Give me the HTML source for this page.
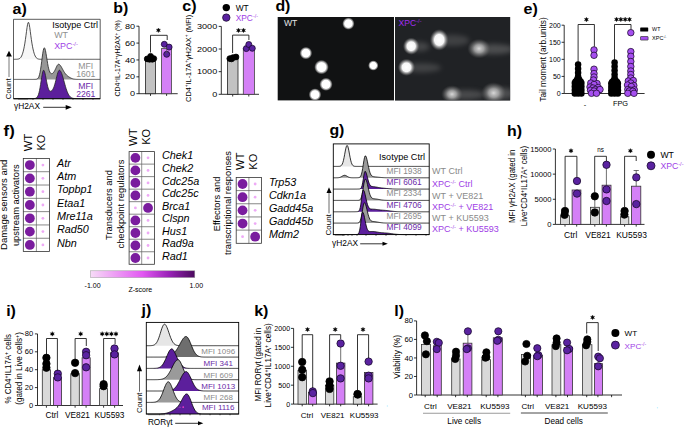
<!DOCTYPE html><html><head><meta charset="utf-8"><style>html,body{margin:0;padding:0;background:#fff;overflow:hidden}svg{display:block;}</style></head><body>
<svg width="685" height="428" viewBox="0 0 685 428" font-family='"Liberation Sans", sans-serif'>
<rect width="685" height="428" fill="#fff"/>
<text x="12.6" y="13.6" font-size="14" fill="#000" font-weight="bold" textLength="14.25" lengthAdjust="spacingAndGlyphs" >a)</text>
<text x="113.2" y="12.6" font-size="14" fill="#000" font-weight="bold" textLength="15.02" lengthAdjust="spacingAndGlyphs" >b)</text>
<text x="182.3" y="11.2" font-size="14" fill="#000" font-weight="bold" textLength="14.25" lengthAdjust="spacingAndGlyphs" >c)</text>
<text x="275.4" y="11.4" font-size="14" fill="#000" font-weight="bold" textLength="15.02" lengthAdjust="spacingAndGlyphs" >d)</text>
<text x="523.5" y="14" font-size="14" fill="#000" font-weight="bold" textLength="14.25" lengthAdjust="spacingAndGlyphs" >e)</text>
<text x="3.6" y="135.7" font-size="14" fill="#000" font-weight="bold" textLength="11.12" lengthAdjust="spacingAndGlyphs" >f)</text>
<text x="329.4" y="135.1" font-size="14" fill="#000" font-weight="bold" textLength="15.02" lengthAdjust="spacingAndGlyphs" >g)</text>
<text x="507.1" y="135.7" font-size="14" fill="#000" font-weight="bold" textLength="15.02" lengthAdjust="spacingAndGlyphs" >h)</text>
<text x="6.2" y="315.7" font-size="14" fill="#000" font-weight="bold" textLength="9.75" lengthAdjust="spacingAndGlyphs" >i)</text>
<text x="141.6" y="315.3" font-size="14" fill="#000" font-weight="bold" textLength="9.75" lengthAdjust="spacingAndGlyphs" >j)</text>
<text x="254.2" y="315.7" font-size="14" fill="#000" font-weight="bold" textLength="14.25" lengthAdjust="spacingAndGlyphs" >k)</text>
<text x="394.3" y="315.5" font-size="14" fill="#000" font-weight="bold" textLength="9.75" lengthAdjust="spacingAndGlyphs" >l)</text>
<path d="M13.50,59.30 L14.04,59.30 L14.58,59.30 L15.13,59.29 L15.67,59.28 L16.21,59.27 L16.75,59.25 L17.29,59.21 L17.84,59.14 L18.38,59.03 L18.92,58.86 L19.46,58.61 L20.00,58.24 L20.54,57.71 L21.09,56.98 L21.63,56.01 L22.17,54.75 L22.71,53.17 L23.25,51.24 L23.80,48.94 L24.34,46.25 L24.88,43.13 L25.42,39.57 L25.96,35.61 L26.51,31.45 L27.05,27.48 L27.59,24.31 L28.13,22.53 L28.67,22.54 L29.21,24.32 L29.76,27.50 L30.30,31.47 L30.84,35.63 L31.38,39.59 L31.92,43.15 L32.47,46.26 L33.01,48.95 L33.55,51.25 L34.09,53.18 L34.63,54.76 L35.17,56.02 L35.72,56.99 L36.26,57.72 L36.80,58.24 L37.34,58.61 L37.88,58.87 L38.43,59.03 L38.97,59.14 L39.51,59.21 L40.05,59.25 L40.59,59.27 L41.14,59.28 L41.68,59.29 L42.22,59.30 L42.76,59.30 L43.30,59.30 L43.84,59.30 L44.39,59.30 L44.93,59.30 L45.47,59.30 L46.01,59.30 L46.55,59.30 L47.10,59.30 L47.64,59.30 L48.18,59.30 L48.72,59.30 L49.26,59.30 L49.81,59.30 L50.35,59.30 L50.89,59.30 L51.43,59.30 L51.97,59.30 L52.52,59.30 L53.06,59.30 L53.60,59.30 L54.14,59.30 L54.68,59.30 L55.22,59.30 L55.77,59.30 L56.31,59.30 L56.85,59.30 L57.39,59.30 L57.93,59.30 L58.48,59.30 L59.02,59.30 L59.56,59.30 L60.10,59.30 L60.64,59.30 L61.19,59.30 L61.73,59.30 L62.27,59.30 L62.81,59.30 L63.35,59.30 L63.89,59.30 L64.44,59.30 L64.98,59.30 L65.52,59.30 L66.06,59.30 L66.60,59.30 L67.15,59.30 L67.69,59.30 L68.23,59.30 L68.77,59.30 L69.31,59.30 L69.86,59.30 L70.40,59.30 L70.94,59.30 L71.48,59.30 L72.02,59.30 L72.56,59.30 L73.11,59.30 L73.65,59.30 L74.19,59.30 L74.73,59.30 L75.27,59.30 L75.82,59.30 L76.36,59.30 L76.90,59.30 L77.44,59.30 L77.98,59.30 L78.53,59.30 L79.07,59.30 L79.61,59.30 L80.15,59.30 L80.69,59.30 L81.23,59.30 L81.78,59.30 L82.32,59.30 L82.86,59.30 L83.40,59.30 L83.94,59.30 L84.49,59.30 L85.03,59.30 L85.57,59.30 L86.11,59.30 L86.65,59.30 L87.20,59.30 L87.74,59.30 L88.28,59.30 L88.82,59.30 L89.36,59.30 L89.90,59.30 L90.45,59.30 L90.99,59.30 L91.53,59.30 L92.07,59.30 L92.61,59.30 L93.16,59.30 L93.70,59.30 L94.24,59.30 L94.78,59.30 L95.32,59.30 L95.86,59.30 L96.41,59.30 L96.95,59.30 L97.49,59.30 L98.03,59.30 L98.57,59.30 L99.12,59.30 L99.66,59.30 L100.20,59.30 L100.20,59.30 L13.50,59.30 Z" fill="#f7f7f7" stroke="none"/>
<path d="M13.50,59.30 L14.04,59.30 L14.58,59.30 L15.13,59.29 L15.67,59.28 L16.21,59.27 L16.75,59.25 L17.29,59.21 L17.84,59.14 L18.38,59.03 L18.92,58.86 L19.46,58.61 L20.00,58.24 L20.54,57.71 L21.09,56.98 L21.63,56.01 L22.17,54.75 L22.71,53.17 L23.25,51.24 L23.80,48.94 L24.34,46.25 L24.88,43.13 L25.42,39.57 L25.96,35.61 L26.51,31.45 L27.05,27.48 L27.59,24.31 L28.13,22.53 L28.67,22.54 L29.21,24.32 L29.76,27.50 L30.30,31.47 L30.84,35.63 L31.38,39.59 L31.92,43.15 L32.47,46.26 L33.01,48.95 L33.55,51.25 L34.09,53.18 L34.63,54.76 L35.17,56.02 L35.72,56.99 L36.26,57.72 L36.80,58.24 L37.34,58.61 L37.88,58.87 L38.43,59.03 L38.97,59.14 L39.51,59.21 L40.05,59.25 L40.59,59.27 L41.14,59.28 L41.68,59.29 L42.22,59.30 L42.76,59.30 L43.30,59.30 L43.84,59.30 L44.39,59.30 L44.93,59.30 L45.47,59.30 L46.01,59.30 L46.55,59.30 L47.10,59.30 L47.64,59.30 L48.18,59.30 L48.72,59.30 L49.26,59.30 L49.81,59.30 L50.35,59.30 L50.89,59.30 L51.43,59.30 L51.97,59.30 L52.52,59.30 L53.06,59.30 L53.60,59.30 L54.14,59.30 L54.68,59.30 L55.22,59.30 L55.77,59.30 L56.31,59.30 L56.85,59.30 L57.39,59.30 L57.93,59.30 L58.48,59.30 L59.02,59.30 L59.56,59.30 L60.10,59.30 L60.64,59.30 L61.19,59.30 L61.73,59.30 L62.27,59.30 L62.81,59.30 L63.35,59.30 L63.89,59.30 L64.44,59.30 L64.98,59.30 L65.52,59.30 L66.06,59.30 L66.60,59.30 L67.15,59.30 L67.69,59.30 L68.23,59.30 L68.77,59.30 L69.31,59.30 L69.86,59.30 L70.40,59.30 L70.94,59.30 L71.48,59.30 L72.02,59.30 L72.56,59.30 L73.11,59.30 L73.65,59.30 L74.19,59.30 L74.73,59.30 L75.27,59.30 L75.82,59.30 L76.36,59.30 L76.90,59.30 L77.44,59.30 L77.98,59.30 L78.53,59.30 L79.07,59.30 L79.61,59.30 L80.15,59.30 L80.69,59.30 L81.23,59.30 L81.78,59.30 L82.32,59.30 L82.86,59.30 L83.40,59.30 L83.94,59.30 L84.49,59.30 L85.03,59.30 L85.57,59.30 L86.11,59.30 L86.65,59.30 L87.20,59.30 L87.74,59.30 L88.28,59.30 L88.82,59.30 L89.36,59.30 L89.90,59.30 L90.45,59.30 L90.99,59.30 L91.53,59.30 L92.07,59.30 L92.61,59.30 L93.16,59.30 L93.70,59.30 L94.24,59.30 L94.78,59.30 L95.32,59.30 L95.86,59.30 L96.41,59.30 L96.95,59.30 L97.49,59.30 L98.03,59.30 L98.57,59.30 L99.12,59.30 L99.66,59.30 L100.20,59.30" fill="none" stroke="#222" stroke-width="0.8" stroke-linejoin="round"/>
<path d="M13.50,79.40 L14.04,79.40 L14.58,79.40 L15.13,79.40 L15.67,79.40 L16.21,79.40 L16.75,79.40 L17.29,79.40 L17.84,79.40 L18.38,79.40 L18.92,79.40 L19.46,79.40 L20.00,79.40 L20.54,79.40 L21.09,79.40 L21.63,79.40 L22.17,79.40 L22.71,79.40 L23.25,79.40 L23.80,79.40 L24.34,79.40 L24.88,79.40 L25.42,79.40 L25.96,79.40 L26.51,79.40 L27.05,79.40 L27.59,79.40 L28.13,79.40 L28.67,79.40 L29.21,79.40 L29.76,79.40 L30.30,79.40 L30.84,79.40 L31.38,79.40 L31.92,79.40 L32.47,79.40 L33.01,79.39 L33.55,79.39 L34.09,79.39 L34.63,79.37 L35.17,79.35 L35.72,79.31 L36.26,79.23 L36.80,79.08 L37.34,78.81 L37.88,78.35 L38.43,77.59 L38.97,76.42 L39.51,74.70 L40.05,72.34 L40.59,69.28 L41.14,65.60 L41.68,61.48 L42.22,57.25 L42.76,53.36 L43.30,50.25 L43.84,48.33 L44.39,47.84 L44.93,48.66 L45.47,50.60 L46.01,53.41 L46.55,56.73 L47.10,60.21 L47.64,63.53 L48.18,66.47 L48.72,68.89 L49.26,70.75 L49.81,72.08 L50.35,72.95 L50.89,73.46 L51.43,73.66 L51.97,73.64 L52.52,73.41 L53.06,73.00 L53.60,72.40 L54.14,71.63 L54.68,70.69 L55.22,69.61 L55.77,68.44 L56.31,67.25 L56.85,66.14 L57.39,65.20 L57.93,64.54 L58.48,64.22 L59.02,64.29 L59.56,64.63 L60.10,65.16 L60.64,65.85 L61.19,66.69 L61.73,67.62 L62.27,68.61 L62.81,69.61 L63.35,70.59 L63.89,71.52 L64.44,72.38 L64.98,73.16 L65.52,73.87 L66.06,74.50 L66.60,75.05 L67.15,75.56 L67.69,76.01 L68.23,76.43 L68.77,76.81 L69.31,77.17 L69.86,77.50 L70.40,77.81 L70.94,78.08 L71.48,78.33 L72.02,78.55 L72.56,78.74 L73.11,78.89 L73.65,79.02 L74.19,79.12 L74.73,79.20 L75.27,79.26 L75.82,79.31 L76.36,79.34 L76.90,79.36 L77.44,79.37 L77.98,79.38 L78.53,79.39 L79.07,79.39 L79.61,79.40 L80.15,79.40 L80.69,79.40 L81.23,79.40 L81.78,79.40 L82.32,79.40 L82.86,79.40 L83.40,79.40 L83.94,79.40 L84.49,79.40 L85.03,79.40 L85.57,79.40 L86.11,79.40 L86.65,79.40 L87.20,79.40 L87.74,79.40 L88.28,79.40 L88.82,79.40 L89.36,79.40 L89.90,79.40 L90.45,79.40 L90.99,79.40 L91.53,79.40 L92.07,79.40 L92.61,79.40 L93.16,79.40 L93.70,79.40 L94.24,79.40 L94.78,79.40 L95.32,79.40 L95.86,79.40 L96.41,79.40 L96.95,79.40 L97.49,79.40 L98.03,79.40 L98.57,79.40 L99.12,79.40 L99.66,79.40 L100.20,79.40 L100.20,79.40 L13.50,79.40 Z" fill="#979797" stroke="none"/>
<path d="M13.50,79.40 L14.04,79.40 L14.58,79.40 L15.13,79.40 L15.67,79.40 L16.21,79.40 L16.75,79.40 L17.29,79.40 L17.84,79.40 L18.38,79.40 L18.92,79.40 L19.46,79.40 L20.00,79.40 L20.54,79.40 L21.09,79.40 L21.63,79.40 L22.17,79.40 L22.71,79.40 L23.25,79.40 L23.80,79.40 L24.34,79.40 L24.88,79.40 L25.42,79.40 L25.96,79.40 L26.51,79.40 L27.05,79.40 L27.59,79.40 L28.13,79.40 L28.67,79.40 L29.21,79.40 L29.76,79.40 L30.30,79.40 L30.84,79.40 L31.38,79.40 L31.92,79.40 L32.47,79.40 L33.01,79.39 L33.55,79.39 L34.09,79.39 L34.63,79.37 L35.17,79.35 L35.72,79.31 L36.26,79.23 L36.80,79.08 L37.34,78.81 L37.88,78.35 L38.43,77.59 L38.97,76.42 L39.51,74.70 L40.05,72.34 L40.59,69.28 L41.14,65.60 L41.68,61.48 L42.22,57.25 L42.76,53.36 L43.30,50.25 L43.84,48.33 L44.39,47.84 L44.93,48.66 L45.47,50.60 L46.01,53.41 L46.55,56.73 L47.10,60.21 L47.64,63.53 L48.18,66.47 L48.72,68.89 L49.26,70.75 L49.81,72.08 L50.35,72.95 L50.89,73.46 L51.43,73.66 L51.97,73.64 L52.52,73.41 L53.06,73.00 L53.60,72.40 L54.14,71.63 L54.68,70.69 L55.22,69.61 L55.77,68.44 L56.31,67.25 L56.85,66.14 L57.39,65.20 L57.93,64.54 L58.48,64.22 L59.02,64.29 L59.56,64.63 L60.10,65.16 L60.64,65.85 L61.19,66.69 L61.73,67.62 L62.27,68.61 L62.81,69.61 L63.35,70.59 L63.89,71.52 L64.44,72.38 L64.98,73.16 L65.52,73.87 L66.06,74.50 L66.60,75.05 L67.15,75.56 L67.69,76.01 L68.23,76.43 L68.77,76.81 L69.31,77.17 L69.86,77.50 L70.40,77.81 L70.94,78.08 L71.48,78.33 L72.02,78.55 L72.56,78.74 L73.11,78.89 L73.65,79.02 L74.19,79.12 L74.73,79.20 L75.27,79.26 L75.82,79.31 L76.36,79.34 L76.90,79.36 L77.44,79.37 L77.98,79.38 L78.53,79.39 L79.07,79.39 L79.61,79.40 L80.15,79.40 L80.69,79.40 L81.23,79.40 L81.78,79.40 L82.32,79.40 L82.86,79.40 L83.40,79.40 L83.94,79.40 L84.49,79.40 L85.03,79.40 L85.57,79.40 L86.11,79.40 L86.65,79.40 L87.20,79.40 L87.74,79.40 L88.28,79.40 L88.82,79.40 L89.36,79.40 L89.90,79.40 L90.45,79.40 L90.99,79.40 L91.53,79.40 L92.07,79.40 L92.61,79.40 L93.16,79.40 L93.70,79.40 L94.24,79.40 L94.78,79.40 L95.32,79.40 L95.86,79.40 L96.41,79.40 L96.95,79.40 L97.49,79.40 L98.03,79.40 L98.57,79.40 L99.12,79.40 L99.66,79.40 L100.20,79.40" fill="none" stroke="#222" stroke-width="0.8" stroke-linejoin="round"/>
<path d="M13.50,98.70 L14.04,98.70 L14.58,98.70 L15.13,98.70 L15.67,98.70 L16.21,98.70 L16.75,98.70 L17.29,98.70 L17.84,98.70 L18.38,98.70 L18.92,98.70 L19.46,98.70 L20.00,98.70 L20.54,98.70 L21.09,98.70 L21.63,98.70 L22.17,98.70 L22.71,98.70 L23.25,98.70 L23.80,98.70 L24.34,98.70 L24.88,98.70 L25.42,98.70 L25.96,98.70 L26.51,98.70 L27.05,98.70 L27.59,98.70 L28.13,98.70 L28.67,98.70 L29.21,98.70 L29.76,98.70 L30.30,98.70 L30.84,98.70 L31.38,98.70 L31.92,98.69 L32.47,98.69 L33.01,98.67 L33.55,98.65 L34.09,98.61 L34.63,98.54 L35.17,98.43 L35.72,98.24 L36.26,97.96 L36.80,97.52 L37.34,96.87 L37.88,95.93 L38.43,94.62 L38.97,92.84 L39.51,90.53 L40.05,87.70 L40.59,84.42 L41.14,80.87 L41.68,77.34 L42.22,74.19 L42.76,71.79 L43.30,70.44 L43.84,70.30 L44.39,71.23 L44.93,73.05 L45.47,75.53 L46.01,78.36 L46.55,81.26 L47.10,83.96 L47.64,86.29 L48.18,88.14 L48.72,89.51 L49.26,90.43 L49.81,90.97 L50.35,91.19 L50.89,91.16 L51.43,90.91 L51.97,90.47 L52.52,89.82 L53.06,88.94 L53.60,87.81 L54.14,86.41 L54.68,84.74 L55.22,82.82 L55.77,80.71 L56.31,78.50 L56.85,76.29 L57.39,74.24 L57.93,72.48 L58.48,71.15 L59.02,70.37 L59.56,70.22 L60.10,70.59 L60.64,71.29 L61.19,72.32 L61.73,73.64 L62.27,75.20 L62.81,76.95 L63.35,78.84 L63.89,80.81 L64.44,82.81 L64.98,84.77 L65.52,86.65 L66.06,88.43 L66.60,90.06 L67.15,91.53 L67.69,92.83 L68.23,93.96 L68.77,94.93 L69.31,95.74 L69.86,96.41 L70.40,96.95 L70.94,97.38 L71.48,97.72 L72.02,97.98 L72.56,98.18 L73.11,98.33 L73.65,98.44 L74.19,98.52 L74.73,98.58 L75.27,98.62 L75.82,98.64 L76.36,98.66 L76.90,98.68 L77.44,98.69 L77.98,98.69 L78.53,98.69 L79.07,98.70 L79.61,98.70 L80.15,98.70 L80.69,98.70 L81.23,98.70 L81.78,98.70 L82.32,98.70 L82.86,98.70 L83.40,98.70 L83.94,98.70 L84.49,98.70 L85.03,98.70 L85.57,98.70 L86.11,98.70 L86.65,98.70 L87.20,98.70 L87.74,98.70 L88.28,98.70 L88.82,98.70 L89.36,98.70 L89.90,98.70 L90.45,98.70 L90.99,98.70 L91.53,98.70 L92.07,98.70 L92.61,98.70 L93.16,98.70 L93.70,98.70 L94.24,98.70 L94.78,98.70 L95.32,98.70 L95.86,98.70 L96.41,98.70 L96.95,98.70 L97.49,98.70 L98.03,98.70 L98.57,98.70 L99.12,98.70 L99.66,98.70 L100.20,98.70 L100.20,98.70 L13.50,98.70 Z" fill="#5c1f9c" stroke="none"/>
<path d="M13.50,98.70 L14.04,98.70 L14.58,98.70 L15.13,98.70 L15.67,98.70 L16.21,98.70 L16.75,98.70 L17.29,98.70 L17.84,98.70 L18.38,98.70 L18.92,98.70 L19.46,98.70 L20.00,98.70 L20.54,98.70 L21.09,98.70 L21.63,98.70 L22.17,98.70 L22.71,98.70 L23.25,98.70 L23.80,98.70 L24.34,98.70 L24.88,98.70 L25.42,98.70 L25.96,98.70 L26.51,98.70 L27.05,98.70 L27.59,98.70 L28.13,98.70 L28.67,98.70 L29.21,98.70 L29.76,98.70 L30.30,98.70 L30.84,98.70 L31.38,98.70 L31.92,98.69 L32.47,98.69 L33.01,98.67 L33.55,98.65 L34.09,98.61 L34.63,98.54 L35.17,98.43 L35.72,98.24 L36.26,97.96 L36.80,97.52 L37.34,96.87 L37.88,95.93 L38.43,94.62 L38.97,92.84 L39.51,90.53 L40.05,87.70 L40.59,84.42 L41.14,80.87 L41.68,77.34 L42.22,74.19 L42.76,71.79 L43.30,70.44 L43.84,70.30 L44.39,71.23 L44.93,73.05 L45.47,75.53 L46.01,78.36 L46.55,81.26 L47.10,83.96 L47.64,86.29 L48.18,88.14 L48.72,89.51 L49.26,90.43 L49.81,90.97 L50.35,91.19 L50.89,91.16 L51.43,90.91 L51.97,90.47 L52.52,89.82 L53.06,88.94 L53.60,87.81 L54.14,86.41 L54.68,84.74 L55.22,82.82 L55.77,80.71 L56.31,78.50 L56.85,76.29 L57.39,74.24 L57.93,72.48 L58.48,71.15 L59.02,70.37 L59.56,70.22 L60.10,70.59 L60.64,71.29 L61.19,72.32 L61.73,73.64 L62.27,75.20 L62.81,76.95 L63.35,78.84 L63.89,80.81 L64.44,82.81 L64.98,84.77 L65.52,86.65 L66.06,88.43 L66.60,90.06 L67.15,91.53 L67.69,92.83 L68.23,93.96 L68.77,94.93 L69.31,95.74 L69.86,96.41 L70.40,96.95 L70.94,97.38 L71.48,97.72 L72.02,97.98 L72.56,98.18 L73.11,98.33 L73.65,98.44 L74.19,98.52 L74.73,98.58 L75.27,98.62 L75.82,98.64 L76.36,98.66 L76.90,98.68 L77.44,98.69 L77.98,98.69 L78.53,98.69 L79.07,98.70 L79.61,98.70 L80.15,98.70 L80.69,98.70 L81.23,98.70 L81.78,98.70 L82.32,98.70 L82.86,98.70 L83.40,98.70 L83.94,98.70 L84.49,98.70 L85.03,98.70 L85.57,98.70 L86.11,98.70 L86.65,98.70 L87.20,98.70 L87.74,98.70 L88.28,98.70 L88.82,98.70 L89.36,98.70 L89.90,98.70 L90.45,98.70 L90.99,98.70 L91.53,98.70 L92.07,98.70 L92.61,98.70 L93.16,98.70 L93.70,98.70 L94.24,98.70 L94.78,98.70 L95.32,98.70 L95.86,98.70 L96.41,98.70 L96.95,98.70 L97.49,98.70 L98.03,98.70 L98.57,98.70 L99.12,98.70 L99.66,98.70 L100.20,98.70" fill="none" stroke="#222" stroke-width="0.8" stroke-linejoin="round"/>
<path d="M13.5,98.7 L13.5,19.3 L100.2,19.3 L100.2,98.7 Z" fill="none" stroke="#333" stroke-width="0.8"/>
<line x1="13.5" y1="98.7" x2="100.2" y2="98.7" stroke="#000" stroke-width="0.9"/>
<line x1="19" y1="98.7" x2="19" y2="100" stroke="#000" stroke-width="0.5"/>
<line x1="21" y1="98.7" x2="21" y2="100" stroke="#000" stroke-width="0.5"/>
<line x1="23" y1="98.7" x2="23" y2="100" stroke="#000" stroke-width="0.5"/>
<line x1="25" y1="98.7" x2="25" y2="100" stroke="#000" stroke-width="0.5"/>
<line x1="27" y1="98.7" x2="27" y2="100" stroke="#000" stroke-width="0.5"/>
<line x1="33" y1="98.7" x2="33" y2="100" stroke="#000" stroke-width="0.5"/>
<line x1="43" y1="98.7" x2="43" y2="100" stroke="#000" stroke-width="0.5"/>
<line x1="53" y1="98.7" x2="53" y2="100" stroke="#000" stroke-width="0.5"/>
<line x1="63" y1="98.7" x2="63" y2="100" stroke="#000" stroke-width="0.5"/>
<line x1="73" y1="98.7" x2="73" y2="100" stroke="#000" stroke-width="0.5"/>
<line x1="83" y1="98.7" x2="83" y2="100" stroke="#000" stroke-width="0.5"/>
<line x1="93" y1="98.7" x2="93" y2="100" stroke="#000" stroke-width="0.5"/>
<text x="52.3" y="27.5" font-size="9" fill="#000" textLength="45.6" lengthAdjust="spacingAndGlyphs" >Isotype Ctrl</text>
<text x="54.2" y="38.1" font-size="8.9" fill="#8f8f8f" >WT</text>
<text x="54.2" y="48.7" font-size="8.9" fill="#a03ee6" >XPC<tspan font-size="64%" dy="-3.0">-/-</tspan><tspan dy="3.0"></tspan></text>
<text x="85.8" y="68.8" font-size="8.7" fill="#8f8f8f" text-anchor="middle" >MFI</text>
<text x="85.8" y="77.4" font-size="8.7" fill="#8f8f8f" text-anchor="middle" >1601</text>
<text x="85.8" y="88.5" font-size="8.7" fill="#6a2aa8" text-anchor="middle" >MFI</text>
<text x="85.8" y="97.4" font-size="8.7" fill="#6a2aa8" text-anchor="middle" >2261</text>
<text transform="translate(11.2,99.2) rotate(-90)" font-size="7.8" fill="#000" text-anchor="start" >Count</text>
<line x1="9" y1="77" x2="9" y2="55.5" stroke="#555" stroke-width="0.8"/>
<path d="M9,50.7 L6.1,56.6 L11.9,56.6 Z" fill="#000"/>
<text x="14" y="108.8" font-size="8.5" fill="#000" textLength="26" lengthAdjust="spacingAndGlyphs" >γH2AX</text>
<line x1="43.2" y1="107.3" x2="67" y2="107.3" stroke="#000" stroke-width="0.8"/>
<path d="M71.8,107.3 L65.7,104.9 L65.7,109.7 Z" fill="#000"/>
<line x1="139" y1="93.7" x2="139" y2="26.2" stroke="#000" stroke-width="0.8"/>
<line x1="136.4" y1="93.7" x2="139" y2="93.7" stroke="#000" stroke-width="0.8"/>
<text transform="translate(135.10,96.36) scale(1.2,1)" font-size="7.6" text-anchor="end">0</text>
<line x1="136.4" y1="76.83" x2="139" y2="76.83" stroke="#000" stroke-width="0.8"/>
<text transform="translate(135.10,79.48) scale(1.2,1)" font-size="7.6" text-anchor="end">20</text>
<line x1="136.4" y1="59.95" x2="139" y2="59.95" stroke="#000" stroke-width="0.8"/>
<text transform="translate(135.10,62.61) scale(1.2,1)" font-size="7.6" text-anchor="end">40</text>
<line x1="136.4" y1="43.08" x2="139" y2="43.08" stroke="#000" stroke-width="0.8"/>
<text transform="translate(135.10,45.73) scale(1.2,1)" font-size="7.6" text-anchor="end">60</text>
<line x1="136.4" y1="26.2" x2="139" y2="26.2" stroke="#000" stroke-width="0.8"/>
<text transform="translate(135.10,28.86) scale(1.2,1)" font-size="7.6" text-anchor="end">80</text>
<line x1="139" y1="93.7" x2="177.7" y2="93.7" stroke="#000" stroke-width="0.8"/>
<line x1="150.5" y1="93.7" x2="150.5" y2="95.9" stroke="#000" stroke-width="0.8"/>
<line x1="166.6" y1="93.7" x2="166.6" y2="95.9" stroke="#000" stroke-width="0.8"/>
<rect x="145.5" y="59.2" width="10" height="34.5" fill="#c2c2c2" stroke="#222" stroke-width="0.8"/>
<rect x="161.5" y="48.6" width="10.1" height="45.1" fill="#d480f6" stroke="#444" stroke-width="0.8"/>
<circle cx="147.2" cy="58.9" r="2.9" fill="#000" stroke="#000" stroke-width="0.8"/>
<circle cx="150.6" cy="56.3" r="2.9" fill="#000" stroke="#000" stroke-width="0.8"/>
<circle cx="153.8" cy="58.6" r="2.9" fill="#000" stroke="#000" stroke-width="0.8"/>
<circle cx="149.5" cy="59.3" r="2.9" fill="#000" stroke="#000" stroke-width="0.8"/>
<circle cx="152.3" cy="59.3" r="2.9" fill="#000" stroke="#000" stroke-width="0.8"/>
<circle cx="164.3" cy="44.3" r="3" fill="#5a22a0" stroke="#1a0a30" stroke-width="0.8"/>
<circle cx="169.1" cy="47.1" r="3" fill="#5a22a0" stroke="#1a0a30" stroke-width="0.8"/>
<circle cx="166.7" cy="54.3" r="3" fill="#5a22a0" stroke="#1a0a30" stroke-width="0.8"/>
<line x1="166.7" y1="47" x2="166.7" y2="54" stroke="#555" stroke-width="0.7"/>
<polyline points="150.5,52.5 150.5,35.3 167.2,35.3 167.2,40" fill="none" stroke="#000" stroke-width="0.8"/>
<polygon points="158.40,28.00 157.83,29.30 156.41,29.15 157.25,30.30 156.41,31.45 157.83,31.30 158.40,32.60 158.97,31.30 160.39,31.45 159.55,30.30 160.39,29.15 158.97,29.30" fill="#000" stroke="#000" stroke-width="0.35" stroke-linejoin="round"/>
<text transform="translate(120,96.4) rotate(-90)" font-size="7.3" fill="#000" text-anchor="start" textLength="76.1" lengthAdjust="spacingAndGlyphs" >CD4<tspan font-size="65%" dy="-2.5">+</tspan><tspan dy="2.5">IL-17A</tspan><tspan font-size="65%" dy="-2.5">+</tspan><tspan dy="2.5">γH2AX</tspan><tspan font-size="65%" dy="-2.5">+</tspan><tspan dy="2.5"> (%)</tspan></text>
<line x1="221.3" y1="94.3" x2="221.3" y2="26.4" stroke="#000" stroke-width="0.8"/>
<line x1="218.7" y1="94.3" x2="221.3" y2="94.3" stroke="#000" stroke-width="0.8"/>
<text transform="translate(217.20,97.06) scale(1.15,1)" font-size="7.9" text-anchor="end">0</text>
<line x1="218.7" y1="71.67" x2="221.3" y2="71.67" stroke="#000" stroke-width="0.8"/>
<text transform="translate(217.20,74.43) scale(1.15,1)" font-size="7.9" text-anchor="end">1000</text>
<line x1="218.7" y1="49.03" x2="221.3" y2="49.03" stroke="#000" stroke-width="0.8"/>
<text transform="translate(217.20,51.80) scale(1.15,1)" font-size="7.9" text-anchor="end">2000</text>
<line x1="218.7" y1="26.4" x2="221.3" y2="26.4" stroke="#000" stroke-width="0.8"/>
<text transform="translate(217.20,29.16) scale(1.15,1)" font-size="7.9" text-anchor="end">3000</text>
<line x1="221.3" y1="94.3" x2="259" y2="94.3" stroke="#000" stroke-width="0.8"/>
<line x1="232.7" y1="94.3" x2="232.7" y2="96.5" stroke="#000" stroke-width="0.8"/>
<line x1="248.8" y1="94.3" x2="248.8" y2="96.5" stroke="#000" stroke-width="0.8"/>
<rect x="227.5" y="58.5" width="10.5" height="35.8" fill="#c2c2c2" stroke="#222" stroke-width="0.8"/>
<rect x="243.3" y="48.6" width="11.1" height="45.7" fill="#d480f6" stroke="#444" stroke-width="0.8"/>
<circle cx="229.8" cy="58.6" r="2.9" fill="#000" stroke="#000" stroke-width="0.8"/>
<circle cx="233" cy="57.6" r="2.9" fill="#000" stroke="#000" stroke-width="0.8"/>
<circle cx="236" cy="57" r="2.9" fill="#000" stroke="#000" stroke-width="0.8"/>
<circle cx="231.5" cy="58.9" r="2.9" fill="#000" stroke="#000" stroke-width="0.8"/>
<circle cx="246.3" cy="48.6" r="3" fill="#5a22a0" stroke="#1a0a30" stroke-width="0.8"/>
<circle cx="248.8" cy="44.5" r="3" fill="#5a22a0" stroke="#1a0a30" stroke-width="0.8"/>
<circle cx="252.3" cy="48.3" r="3" fill="#5a22a0" stroke="#1a0a30" stroke-width="0.8"/>
<polyline points="232.6,53 232.6,35.1 248.9,35.1 248.9,40" fill="none" stroke="#000" stroke-width="0.8"/>
<polygon points="238.50,28.10 237.93,29.40 236.51,29.25 237.35,30.40 236.51,31.55 237.93,31.40 238.50,32.70 239.07,31.40 240.49,31.55 239.65,30.40 240.49,29.25 239.07,29.40" fill="#000" stroke="#000" stroke-width="0.35" stroke-linejoin="round"/>
<polygon points="243.50,28.10 242.93,29.40 241.51,29.25 242.35,30.40 241.51,31.55 242.93,31.40 243.50,32.70 244.07,31.40 245.49,31.55 244.65,30.40 245.49,29.25 244.07,29.40" fill="#000" stroke="#000" stroke-width="0.35" stroke-linejoin="round"/>
<circle cx="226.3" cy="7.6" r="3.7" fill="#000" stroke="none" stroke-width="1"/>
<text x="235.7" y="10.5" font-size="8.4" fill="#000" >WT</text>
<circle cx="226.3" cy="17.6" r="3.7" fill="#5a22a0" stroke="#1a0a30" stroke-width="0.8"/>
<text x="235.7" y="20.6" font-size="8.4" fill="#a03ee6" >XPC<tspan font-size="64%" dy="-3.0">-/-</tspan><tspan dy="3.0"></tspan></text>
<text transform="translate(190.9,101.9) rotate(-90)" font-size="7.6" fill="#000" text-anchor="start" textLength="87" lengthAdjust="spacingAndGlyphs" >CD4<tspan font-size="65%" dy="-2.5">+</tspan><tspan dy="2.5">IL-17A</tspan><tspan font-size="65%" dy="-2.5">+</tspan><tspan dy="2.5">γH2AX</tspan><tspan font-size="65%" dy="-2.5">+</tspan><tspan dy="2.5"> (MFI)</tspan></text>
<defs>
<radialGradient id="spot"><stop offset="0" stop-color="#fff"/><stop offset="0.6" stop-color="#fff"/><stop offset="0.8" stop-color="#bbb" stop-opacity="0.7"/><stop offset="1" stop-color="#666" stop-opacity="0"/></radialGradient>
<radialGradient id="spot2"><stop offset="0" stop-color="#fff"/><stop offset="0.5" stop-color="#f6f6f6"/><stop offset="0.75" stop-color="#aaa" stop-opacity="0.6"/><stop offset="1" stop-color="#666" stop-opacity="0"/></radialGradient>
<radialGradient id="spot3"><stop offset="0" stop-color="#d8d8d8"/><stop offset="0.4" stop-color="#b4b4b4" stop-opacity="0.8"/><stop offset="0.75" stop-color="#808080" stop-opacity="0.38"/><stop offset="1" stop-color="#555" stop-opacity="0"/></radialGradient>
<filter id="blur2" x="-50%" y="-100%" width="200%" height="300%"><feGaussianBlur stdDeviation="2.4"/></filter>
<clipPath id="cpx"><rect x="395" y="17" width="115.2" height="83.6"/></clipPath>
<clipPath id="cpw"><rect x="277.7" y="17" width="116.3" height="83.4"/></clipPath>
</defs>
<rect x="277.7" y="17" width="116.3" height="83.4" fill="#111213" stroke="none" stroke-width="1"/>
<rect x="395" y="17" width="115.2" height="83.6" fill="#202225" stroke="none" stroke-width="1"/>
<g clip-path="url(#cpw)">
<circle cx="348.4" cy="23.6" r="6.29" fill="url(#spot)" stroke="none" stroke-width="1"/>
<circle cx="305.9" cy="53.1" r="6.45" fill="url(#spot)" stroke="none" stroke-width="1"/>
<circle cx="321.5" cy="67.1" r="7.42" fill="url(#spot)" stroke="none" stroke-width="1"/>
<circle cx="373.3" cy="65.5" r="5.32" fill="url(#spot)" stroke="none" stroke-width="1"/>
<circle cx="326" cy="84.3" r="6.77" fill="url(#spot)" stroke="none" stroke-width="1"/>
<circle cx="315" cy="94.6" r="6.45" fill="url(#spot)" stroke="none" stroke-width="1"/>
</g>
<text x="284" y="26.3" font-size="8.6" fill="#e6e6e6" >WT</text>
<g clip-path="url(#cpx)">
<ellipse cx="419.2" cy="46.7" rx="10.4" ry="4.6" fill="#888" opacity="0.35" filter="url(#blur2)"/>
<ellipse cx="411.2" cy="46.2" rx="8.36" ry="8.73" fill="url(#spot2)"/>
<ellipse cx="452.2" cy="40.4" rx="16.9" ry="5.7" fill="#888" opacity="0.3" filter="url(#blur2)"/>
<ellipse cx="439.2" cy="39.9" rx="9.45" ry="10.91" fill="url(#spot2)"/>
<ellipse cx="494.0" cy="49.1" rx="19.5" ry="5.2" fill="#888" opacity="0.42" filter="url(#blur2)"/>
<ellipse cx="479.0" cy="48.6" rx="11.82" ry="10.00" fill="url(#spot3)"/>
<ellipse cx="421.5" cy="67.8" rx="19.5" ry="4.6" fill="#888" opacity="0.32" filter="url(#blur2)"/>
<ellipse cx="406.5" cy="67.3" rx="8.73" ry="8.73" fill="url(#spot2)"/>
<ellipse cx="466.0" cy="94.7" rx="18.2" ry="4.8" fill="#888" opacity="0.4" filter="url(#blur2)"/>
<ellipse cx="452.0" cy="94.2" rx="10.91" ry="9.09" fill="url(#spot3)"/>
<ellipse cx="502.6" cy="93.5" rx="11.7" ry="5.7" fill="#888" opacity="0.42" filter="url(#blur2)"/>
<ellipse cx="493.6" cy="93.0" rx="12.73" ry="10.91" fill="url(#spot3)"/>
</g>
<line x1="394.5" y1="17" x2="394.5" y2="100.6" stroke="#fff" stroke-width="1.0"/>
<text x="398.6" y="26.4" font-size="8.6" fill="#a02cf0" >XPC<tspan font-size="64%" dy="-3.0">-/-</tspan><tspan dy="3.0"></tspan></text>
<line x1="564.2" y1="93.5" x2="564.2" y2="25.2" stroke="#000" stroke-width="0.8"/>
<line x1="561.6" y1="93.5" x2="564.2" y2="93.5" stroke="#000" stroke-width="0.8"/>
<text transform="translate(560.70,95.95) scale(1.0,1)" font-size="7.0" text-anchor="end">0</text>
<line x1="561.6" y1="76.42" x2="564.2" y2="76.42" stroke="#000" stroke-width="0.8"/>
<text transform="translate(560.70,78.88) scale(1.0,1)" font-size="7.0" text-anchor="end">50</text>
<line x1="561.6" y1="59.35" x2="564.2" y2="59.35" stroke="#000" stroke-width="0.8"/>
<text transform="translate(560.70,61.80) scale(1.0,1)" font-size="7.0" text-anchor="end">100</text>
<line x1="561.6" y1="42.28" x2="564.2" y2="42.28" stroke="#000" stroke-width="0.8"/>
<text transform="translate(560.70,44.73) scale(1.0,1)" font-size="7.0" text-anchor="end">150</text>
<line x1="561.6" y1="25.2" x2="564.2" y2="25.2" stroke="#000" stroke-width="0.8"/>
<text transform="translate(560.70,27.65) scale(1.0,1)" font-size="7.0" text-anchor="end">200</text>
<line x1="564.2" y1="93.5" x2="644.6" y2="93.5" stroke="#000" stroke-width="0.8"/>
<text transform="translate(545.5,59.5) rotate(-90)" font-size="8.3" fill="#000" text-anchor="middle" >Tail moment (arb.units)</text>
<circle cx="578.1" cy="64.6" r="3.25" fill="#000" stroke="none" stroke-width="1"/>
<circle cx="578.1" cy="68.8" r="3.25" fill="#000" stroke="none" stroke-width="1"/>
<circle cx="578.1" cy="72.8" r="3.25" fill="#000" stroke="none" stroke-width="1"/>
<circle cx="578.1" cy="76.5" r="3.25" fill="#000" stroke="none" stroke-width="1"/>
<circle cx="577.1" cy="79.5" r="3.25" fill="#000" stroke="none" stroke-width="1"/>
<circle cx="579.1" cy="79.5" r="3.25" fill="#000" stroke="none" stroke-width="1"/>
<circle cx="574.8" cy="83" r="3.25" fill="#000" stroke="none" stroke-width="1"/>
<circle cx="578.1" cy="83" r="3.25" fill="#000" stroke="none" stroke-width="1"/>
<circle cx="581.4" cy="83" r="3.25" fill="#000" stroke="none" stroke-width="1"/>
<circle cx="574.8" cy="86.5" r="3.25" fill="#000" stroke="none" stroke-width="1"/>
<circle cx="578.1" cy="86.5" r="3.25" fill="#000" stroke="none" stroke-width="1"/>
<circle cx="581.4" cy="86.5" r="3.25" fill="#000" stroke="none" stroke-width="1"/>
<circle cx="574.8" cy="90" r="3.25" fill="#000" stroke="none" stroke-width="1"/>
<circle cx="578.1" cy="90" r="3.25" fill="#000" stroke="none" stroke-width="1"/>
<circle cx="581.4" cy="90" r="3.25" fill="#000" stroke="none" stroke-width="1"/>
<circle cx="574.8" cy="93.4" r="3.25" fill="#000" stroke="none" stroke-width="1"/>
<circle cx="578.1" cy="93.4" r="3.25" fill="#000" stroke="none" stroke-width="1"/>
<circle cx="581.4" cy="93.4" r="3.25" fill="#000" stroke="none" stroke-width="1"/>
<circle cx="575.6" cy="81.5" r="3.25" fill="#000" stroke="none" stroke-width="1"/>
<circle cx="580.6" cy="81.5" r="3.25" fill="#000" stroke="none" stroke-width="1"/>
<circle cx="594" cy="49.9" r="3.25" fill="#a64ff0" stroke="#1a0a2a" stroke-width="0.75"/>
<circle cx="594" cy="55.3" r="3.25" fill="#a64ff0" stroke="#1a0a2a" stroke-width="0.75"/>
<circle cx="594" cy="69.2" r="3.25" fill="#a64ff0" stroke="#1a0a2a" stroke-width="0.75"/>
<circle cx="594" cy="73.5" r="3.25" fill="#a64ff0" stroke="#1a0a2a" stroke-width="0.75"/>
<circle cx="594" cy="77" r="3.25" fill="#a64ff0" stroke="#1a0a2a" stroke-width="0.75"/>
<circle cx="593.5" cy="80" r="3.25" fill="#a64ff0" stroke="#1a0a2a" stroke-width="0.75"/>
<circle cx="590.8" cy="83" r="3.25" fill="#a64ff0" stroke="#1a0a2a" stroke-width="0.75"/>
<circle cx="597" cy="83.5" r="3.25" fill="#a64ff0" stroke="#1a0a2a" stroke-width="0.75"/>
<circle cx="594" cy="84.5" r="3.25" fill="#a64ff0" stroke="#1a0a2a" stroke-width="0.75"/>
<circle cx="590" cy="87" r="3.25" fill="#a64ff0" stroke="#1a0a2a" stroke-width="0.75"/>
<circle cx="598.2" cy="87.5" r="3.25" fill="#a64ff0" stroke="#1a0a2a" stroke-width="0.75"/>
<circle cx="593" cy="88" r="3.25" fill="#a64ff0" stroke="#1a0a2a" stroke-width="0.75"/>
<circle cx="595.5" cy="89.5" r="3.25" fill="#a64ff0" stroke="#1a0a2a" stroke-width="0.75"/>
<circle cx="590.5" cy="90.3" r="3.25" fill="#a64ff0" stroke="#1a0a2a" stroke-width="0.75"/>
<circle cx="598.5" cy="90.5" r="3.25" fill="#a64ff0" stroke="#1a0a2a" stroke-width="0.75"/>
<circle cx="594" cy="91" r="3.25" fill="#a64ff0" stroke="#1a0a2a" stroke-width="0.75"/>
<circle cx="600" cy="89.5" r="3.25" fill="#a64ff0" stroke="#1a0a2a" stroke-width="0.75"/>
<circle cx="591.5" cy="93.3" r="3.25" fill="#a64ff0" stroke="#1a0a2a" stroke-width="0.75"/>
<circle cx="596.5" cy="93.3" r="3.25" fill="#a64ff0" stroke="#1a0a2a" stroke-width="0.75"/>
<circle cx="614.6" cy="62.4" r="3.25" fill="#000" stroke="none" stroke-width="1"/>
<circle cx="614.6" cy="66.5" r="3.25" fill="#000" stroke="none" stroke-width="1"/>
<circle cx="614.6" cy="70.5" r="3.25" fill="#000" stroke="none" stroke-width="1"/>
<circle cx="614.6" cy="74.5" r="3.25" fill="#000" stroke="none" stroke-width="1"/>
<circle cx="614.6" cy="78" r="3.25" fill="#000" stroke="none" stroke-width="1"/>
<circle cx="613.6" cy="80.5" r="3.25" fill="#000" stroke="none" stroke-width="1"/>
<circle cx="615.6" cy="80.5" r="3.25" fill="#000" stroke="none" stroke-width="1"/>
<circle cx="611.3" cy="83.5" r="3.25" fill="#000" stroke="none" stroke-width="1"/>
<circle cx="614.6" cy="83.5" r="3.25" fill="#000" stroke="none" stroke-width="1"/>
<circle cx="617.9" cy="83.5" r="3.25" fill="#000" stroke="none" stroke-width="1"/>
<circle cx="611.3" cy="87" r="3.25" fill="#000" stroke="none" stroke-width="1"/>
<circle cx="614.6" cy="87" r="3.25" fill="#000" stroke="none" stroke-width="1"/>
<circle cx="617.9" cy="87" r="3.25" fill="#000" stroke="none" stroke-width="1"/>
<circle cx="611.3" cy="90.3" r="3.25" fill="#000" stroke="none" stroke-width="1"/>
<circle cx="614.6" cy="90.3" r="3.25" fill="#000" stroke="none" stroke-width="1"/>
<circle cx="617.9" cy="90.3" r="3.25" fill="#000" stroke="none" stroke-width="1"/>
<circle cx="611.3" cy="93.4" r="3.25" fill="#000" stroke="none" stroke-width="1"/>
<circle cx="614.6" cy="93.4" r="3.25" fill="#000" stroke="none" stroke-width="1"/>
<circle cx="617.9" cy="93.4" r="3.25" fill="#000" stroke="none" stroke-width="1"/>
<circle cx="612.1" cy="82" r="3.25" fill="#000" stroke="none" stroke-width="1"/>
<circle cx="617.1" cy="82" r="3.25" fill="#000" stroke="none" stroke-width="1"/>
<circle cx="630.8" cy="32.7" r="3.25" fill="#a64ff0" stroke="#1a0a2a" stroke-width="0.75"/>
<circle cx="630.8" cy="51.6" r="3.25" fill="#a64ff0" stroke="#1a0a2a" stroke-width="0.75"/>
<circle cx="630.8" cy="56.3" r="3.25" fill="#a64ff0" stroke="#1a0a2a" stroke-width="0.75"/>
<circle cx="630.8" cy="61.5" r="3.25" fill="#a64ff0" stroke="#1a0a2a" stroke-width="0.75"/>
<circle cx="630.8" cy="66.5" r="3.25" fill="#a64ff0" stroke="#1a0a2a" stroke-width="0.75"/>
<circle cx="630.8" cy="71" r="3.25" fill="#a64ff0" stroke="#1a0a2a" stroke-width="0.75"/>
<circle cx="630.8" cy="74.5" r="3.25" fill="#a64ff0" stroke="#1a0a2a" stroke-width="0.75"/>
<circle cx="630.8" cy="78" r="3.25" fill="#a64ff0" stroke="#1a0a2a" stroke-width="0.75"/>
<circle cx="628.3" cy="81" r="3.25" fill="#a64ff0" stroke="#1a0a2a" stroke-width="0.75"/>
<circle cx="633.3" cy="80.5" r="3.25" fill="#a64ff0" stroke="#1a0a2a" stroke-width="0.75"/>
<circle cx="630.8" cy="83" r="3.25" fill="#a64ff0" stroke="#1a0a2a" stroke-width="0.75"/>
<circle cx="627.5" cy="85" r="3.25" fill="#a64ff0" stroke="#1a0a2a" stroke-width="0.75"/>
<circle cx="633.8" cy="85.5" r="3.25" fill="#a64ff0" stroke="#1a0a2a" stroke-width="0.75"/>
<circle cx="631.3" cy="86.5" r="3.25" fill="#a64ff0" stroke="#1a0a2a" stroke-width="0.75"/>
<circle cx="627.8" cy="89.5" r="3.25" fill="#a64ff0" stroke="#1a0a2a" stroke-width="0.75"/>
<circle cx="634.3" cy="89.8" r="3.25" fill="#a64ff0" stroke="#1a0a2a" stroke-width="0.75"/>
<circle cx="630.8" cy="90.3" r="3.25" fill="#a64ff0" stroke="#1a0a2a" stroke-width="0.75"/>
<circle cx="629.3" cy="91" r="3.25" fill="#a64ff0" stroke="#1a0a2a" stroke-width="0.75"/>
<circle cx="632.8" cy="91.2" r="3.25" fill="#a64ff0" stroke="#1a0a2a" stroke-width="0.75"/>
<circle cx="627.8" cy="93.3" r="3.25" fill="#a64ff0" stroke="#1a0a2a" stroke-width="0.75"/>
<circle cx="634" cy="93.3" r="3.25" fill="#a64ff0" stroke="#1a0a2a" stroke-width="0.75"/>
<polyline points="578.1,62.5 578.1,24.5 594.4,24.5 594.4,46.5" fill="none" stroke="#000" stroke-width="0.8"/>
<polygon points="586.40,17.30 585.82,18.60 584.41,18.45 585.25,19.60 584.41,20.75 585.82,20.60 586.40,21.90 586.98,20.60 588.39,20.75 587.55,19.60 588.39,18.45 586.98,18.60" fill="#000" stroke="#000" stroke-width="0.35" stroke-linejoin="round"/>
<polyline points="614.5,60.5 614.5,24.5 631,24.5 631,29.5" fill="none" stroke="#000" stroke-width="0.8"/>
<polygon points="616.55,17.10 615.97,18.40 614.56,18.25 615.40,19.40 614.56,20.55 615.97,20.40 616.55,21.70 617.12,20.40 618.54,20.55 617.70,19.40 618.54,18.25 617.12,18.40" fill="#000" stroke="#000" stroke-width="0.35" stroke-linejoin="round"/>
<polygon points="620.85,17.10 620.27,18.40 618.86,18.25 619.70,19.40 618.86,20.55 620.27,20.40 620.85,21.70 621.42,20.40 622.84,20.55 622.00,19.40 622.84,18.25 621.42,18.40" fill="#000" stroke="#000" stroke-width="0.35" stroke-linejoin="round"/>
<polygon points="625.15,17.10 624.57,18.40 623.16,18.25 624.00,19.40 623.16,20.55 624.57,20.40 625.15,21.70 625.73,20.40 627.14,20.55 626.30,19.40 627.14,18.25 625.73,18.40" fill="#000" stroke="#000" stroke-width="0.35" stroke-linejoin="round"/>
<polygon points="629.45,17.10 628.87,18.40 627.46,18.25 628.30,19.40 627.46,20.55 628.87,20.40 629.45,21.70 630.02,20.40 631.44,20.55 630.60,19.40 631.44,18.25 630.02,18.40" fill="#000" stroke="#000" stroke-width="0.35" stroke-linejoin="round"/>
<text x="584.9" y="107.2" font-size="7.4" fill="#000" text-anchor="middle" >-</text>
<text x="620.5" y="105.8" font-size="7.4" fill="#000" text-anchor="middle" >FPG</text>
<rect x="640.2" y="27.5" width="8" height="4" rx="0.6" fill="#000"/>
<text x="652.1" y="31.2" font-size="6.2" fill="#000" textLength="8.3" lengthAdjust="spacingAndGlyphs" >WT</text>
<rect x="640.5" y="36.5" width="7.6" height="3.6" rx="0.5" fill="#a64ff0" stroke="#222" stroke-width="0.6"/>
<text x="652.1" y="40.4" font-size="6.2" fill="#000" textLength="14.2" lengthAdjust="spacingAndGlyphs" >XPC<tspan font-size="55%" dy="-2.3">-/-</tspan></text>
<circle cx="29.85" cy="165.06" r="4.9" fill="#7a1c9e" stroke="none" stroke-width="1"/>
<circle cx="42.9" cy="165.06" r="1.4" fill="#eeaaf6" stroke="none" stroke-width="1"/>
<text x="57" y="166.66" font-size="10.8" fill="#000" font-style="italic" >Atr</text>
<circle cx="29.85" cy="178.37" r="4.9" fill="#7a1c9e" stroke="none" stroke-width="1"/>
<circle cx="42.9" cy="178.37" r="1.4" fill="#eeaaf6" stroke="none" stroke-width="1"/>
<text x="57" y="179.97" font-size="10.8" fill="#000" font-style="italic" >Atm</text>
<circle cx="29.85" cy="191.68" r="4.9" fill="#7a1c9e" stroke="none" stroke-width="1"/>
<circle cx="42.9" cy="191.68" r="1.4" fill="#eeaaf6" stroke="none" stroke-width="1"/>
<text x="57" y="193.28" font-size="10.8" fill="#000" font-style="italic" >Topbp1</text>
<circle cx="29.85" cy="204.99" r="4.9" fill="#7a1c9e" stroke="none" stroke-width="1"/>
<circle cx="42.9" cy="204.99" r="1.4" fill="#eeaaf6" stroke="none" stroke-width="1"/>
<text x="57" y="206.59" font-size="10.8" fill="#000" font-style="italic" >Etaa1</text>
<circle cx="29.85" cy="218.3" r="4.9" fill="#7a1c9e" stroke="none" stroke-width="1"/>
<circle cx="42.9" cy="218.3" r="1.4" fill="#eeaaf6" stroke="none" stroke-width="1"/>
<text x="57" y="219.9" font-size="10.8" fill="#000" font-style="italic" >Mre11a</text>
<circle cx="29.85" cy="231.61" r="4.9" fill="#7a1c9e" stroke="none" stroke-width="1"/>
<circle cx="42.9" cy="231.61" r="1.4" fill="#eeaaf6" stroke="none" stroke-width="1"/>
<text x="57" y="233.21" font-size="10.8" fill="#000" font-style="italic" >Rad50</text>
<circle cx="29.85" cy="244.92" r="4.9" fill="#7a1c9e" stroke="none" stroke-width="1"/>
<circle cx="42.9" cy="244.92" r="1.4" fill="#eeaaf6" stroke="none" stroke-width="1"/>
<text x="57" y="246.52" font-size="10.8" fill="#000" font-style="italic" >Nbn</text>
<line x1="23.3" y1="171.71" x2="49.4" y2="171.71" stroke="#555" stroke-width="0.7"/>
<line x1="23.3" y1="185.02" x2="49.4" y2="185.02" stroke="#555" stroke-width="0.7"/>
<line x1="23.3" y1="198.33" x2="49.4" y2="198.33" stroke="#555" stroke-width="0.7"/>
<line x1="23.3" y1="211.64" x2="49.4" y2="211.64" stroke="#555" stroke-width="0.7"/>
<line x1="23.3" y1="224.95" x2="49.4" y2="224.95" stroke="#555" stroke-width="0.7"/>
<line x1="23.3" y1="238.26" x2="49.4" y2="238.26" stroke="#555" stroke-width="0.7"/>
<line x1="36.4" y1="158.4" x2="36.4" y2="251.57" stroke="#666" stroke-width="0.7"/>
<rect x="23.3" y="158.4" width="26.1" height="93.17" fill="none" stroke="#333" stroke-width="0.8"/>
<text transform="translate(32,151.3) rotate(-90)" font-size="11.3" fill="#000" text-anchor="start" >WT</text>
<text transform="translate(45.1,150.6) rotate(-90)" font-size="11.0" fill="#000" text-anchor="start" >KO</text>
<text transform="translate(7.4,204.8) rotate(-90)" font-size="9.5" fill="#000" text-anchor="middle" >Damage sensors and</text>
<text transform="translate(18.6,205.2) rotate(-90)" font-size="9.4" fill="#000" text-anchor="middle" >upstream activators</text>
<circle cx="135.4" cy="157.86" r="4.9" fill="#7a1c9e" stroke="none" stroke-width="1"/>
<circle cx="148.05" cy="157.86" r="1.4" fill="#eeaaf6" stroke="none" stroke-width="1"/>
<text x="162" y="159.46" font-size="10.8" fill="#000" font-style="italic" >Chek1</text>
<circle cx="135.4" cy="170.38" r="4.9" fill="#7a1c9e" stroke="none" stroke-width="1"/>
<circle cx="148.05" cy="170.38" r="1.4" fill="#eeaaf6" stroke="none" stroke-width="1"/>
<text x="162" y="171.98" font-size="10.8" fill="#000" font-style="italic" >Chek2</text>
<circle cx="135.4" cy="182.9" r="4.9" fill="#7a1c9e" stroke="none" stroke-width="1"/>
<circle cx="148.05" cy="182.9" r="1.4" fill="#eeaaf6" stroke="none" stroke-width="1"/>
<text x="162" y="184.5" font-size="10.8" fill="#000" font-style="italic" >Cdc25a</text>
<circle cx="135.4" cy="195.42" r="4.9" fill="#7a1c9e" stroke="none" stroke-width="1"/>
<circle cx="148.05" cy="195.42" r="1.4" fill="#eeaaf6" stroke="none" stroke-width="1"/>
<text x="162" y="197.02" font-size="10.8" fill="#000" font-style="italic" >Cdc25c</text>
<circle cx="135.4" cy="207.94" r="1.4" fill="#eeaaf6" stroke="none" stroke-width="1"/>
<circle cx="148.05" cy="207.94" r="4.9" fill="#7a1c9e" stroke="none" stroke-width="1"/>
<text x="162" y="209.54" font-size="10.8" fill="#000" font-style="italic" >Brca1</text>
<circle cx="135.4" cy="220.46" r="4.9" fill="#7a1c9e" stroke="none" stroke-width="1"/>
<circle cx="148.05" cy="220.46" r="1.4" fill="#eeaaf6" stroke="none" stroke-width="1"/>
<text x="162" y="222.06" font-size="10.8" fill="#000" font-style="italic" >Clspn</text>
<circle cx="135.4" cy="232.98" r="4.9" fill="#7a1c9e" stroke="none" stroke-width="1"/>
<circle cx="148.05" cy="232.98" r="1.4" fill="#eeaaf6" stroke="none" stroke-width="1"/>
<text x="162" y="234.58" font-size="10.8" fill="#000" font-style="italic" >Hus1</text>
<circle cx="135.4" cy="245.5" r="4.9" fill="#7a1c9e" stroke="none" stroke-width="1"/>
<circle cx="148.05" cy="245.5" r="1.4" fill="#eeaaf6" stroke="none" stroke-width="1"/>
<text x="162" y="247.1" font-size="10.8" fill="#000" font-style="italic" >Rad9a</text>
<circle cx="135.4" cy="258.02" r="4.9" fill="#7a1c9e" stroke="none" stroke-width="1"/>
<circle cx="148.05" cy="258.02" r="1.4" fill="#eeaaf6" stroke="none" stroke-width="1"/>
<text x="162" y="259.62" font-size="10.8" fill="#000" font-style="italic" >Rad1</text>
<line x1="129.1" y1="164.12" x2="154.4" y2="164.12" stroke="#555" stroke-width="0.7"/>
<line x1="129.1" y1="176.64" x2="154.4" y2="176.64" stroke="#555" stroke-width="0.7"/>
<line x1="129.1" y1="189.16" x2="154.4" y2="189.16" stroke="#555" stroke-width="0.7"/>
<line x1="129.1" y1="201.68" x2="154.4" y2="201.68" stroke="#555" stroke-width="0.7"/>
<line x1="129.1" y1="214.2" x2="154.4" y2="214.2" stroke="#555" stroke-width="0.7"/>
<line x1="129.1" y1="226.72" x2="154.4" y2="226.72" stroke="#555" stroke-width="0.7"/>
<line x1="129.1" y1="239.24" x2="154.4" y2="239.24" stroke="#555" stroke-width="0.7"/>
<line x1="129.1" y1="251.76" x2="154.4" y2="251.76" stroke="#555" stroke-width="0.7"/>
<line x1="141.7" y1="151.6" x2="141.7" y2="264.28" stroke="#666" stroke-width="0.7"/>
<rect x="129.1" y="151.6" width="25.3" height="112.68" fill="none" stroke="#333" stroke-width="0.8"/>
<text transform="translate(137.3,145.9) rotate(-90)" font-size="11.3" fill="#000" text-anchor="start" >WT</text>
<text transform="translate(150.4,144.8) rotate(-90)" font-size="11.0" fill="#000" text-anchor="start" >KO</text>
<text transform="translate(112.4,205) rotate(-90)" font-size="9.35" fill="#000" text-anchor="middle" >Transducers and</text>
<text transform="translate(123.9,204.1) rotate(-90)" font-size="9.35" fill="#000" text-anchor="middle" >checkpoint regulators</text>
<circle cx="242.55" cy="183.99" r="4.9" fill="#7a1c9e" stroke="none" stroke-width="1"/>
<circle cx="255.15" cy="183.99" r="1.4" fill="#eeaaf6" stroke="none" stroke-width="1"/>
<text x="268.9" y="185.59" font-size="10.8" fill="#000" font-style="italic" >Trp53</text>
<circle cx="242.55" cy="197.17" r="4.9" fill="#7a1c9e" stroke="none" stroke-width="1"/>
<circle cx="255.15" cy="197.17" r="1.4" fill="#eeaaf6" stroke="none" stroke-width="1"/>
<text x="268.9" y="198.77" font-size="10.8" fill="#000" font-style="italic" >Cdkn1a</text>
<circle cx="242.55" cy="210.35" r="4.9" fill="#7a1c9e" stroke="none" stroke-width="1"/>
<circle cx="255.15" cy="210.35" r="1.4" fill="#eeaaf6" stroke="none" stroke-width="1"/>
<text x="268.9" y="211.95" font-size="10.8" fill="#000" font-style="italic" >Gadd45a</text>
<circle cx="242.55" cy="223.53" r="4.9" fill="#7a1c9e" stroke="none" stroke-width="1"/>
<circle cx="255.15" cy="223.53" r="1.4" fill="#eeaaf6" stroke="none" stroke-width="1"/>
<text x="268.9" y="225.13" font-size="10.8" fill="#000" font-style="italic" >Gadd45b</text>
<circle cx="242.55" cy="236.71" r="1.4" fill="#eeaaf6" stroke="none" stroke-width="1"/>
<circle cx="255.15" cy="236.71" r="4.9" fill="#7a1c9e" stroke="none" stroke-width="1"/>
<text x="268.9" y="238.31" font-size="10.8" fill="#000" font-style="italic" >Mdm2</text>
<line x1="236.2" y1="190.58" x2="261.4" y2="190.58" stroke="#555" stroke-width="0.7"/>
<line x1="236.2" y1="203.76" x2="261.4" y2="203.76" stroke="#555" stroke-width="0.7"/>
<line x1="236.2" y1="216.94" x2="261.4" y2="216.94" stroke="#555" stroke-width="0.7"/>
<line x1="236.2" y1="230.12" x2="261.4" y2="230.12" stroke="#555" stroke-width="0.7"/>
<line x1="248.9" y1="177.4" x2="248.9" y2="243.3" stroke="#666" stroke-width="0.7"/>
<rect x="236.2" y="177.4" width="25.2" height="65.9" fill="none" stroke="#333" stroke-width="0.8"/>
<text transform="translate(244,170.1) rotate(-90)" font-size="11.3" fill="#000" text-anchor="start" >WT</text>
<text transform="translate(257.1,169.7) rotate(-90)" font-size="11.0" fill="#000" text-anchor="start" >KO</text>
<text transform="translate(219.5,204) rotate(-90)" font-size="9.3" fill="#000" text-anchor="middle" >Effectors and</text>
<text transform="translate(231,203) rotate(-90)" font-size="9.35" fill="#000" text-anchor="middle" >transcriptional responses</text>
<defs><linearGradient id="zs" x1="0" x2="1"><stop offset="0" stop-color="#f7dcf7"/><stop offset="0.5" stop-color="#e258f2"/><stop offset="0.75" stop-color="#9a22b8"/><stop offset="1" stop-color="#4b0a5e"/></linearGradient></defs>
<rect x="90.4" y="270.8" width="104.4" height="6.8" fill="url(#zs)" stroke="#999" stroke-width="0.5"/>
<text x="84.6" y="287.5" font-size="7" fill="#000" >-1.00</text>
<text x="189.5" y="287.5" font-size="7" fill="#000" >1.00</text>
<text x="128.4" y="292.3" font-size="7" fill="#000" >Z-score</text>
<path d="M333.30,166.40 L333.90,166.40 L334.50,166.40 L335.10,166.40 L335.70,166.40 L336.30,166.40 L336.90,166.40 L337.50,166.40 L338.10,166.39 L338.69,166.37 L339.29,166.33 L339.89,166.25 L340.49,166.06 L341.09,165.71 L341.69,165.08 L342.29,164.04 L342.89,162.47 L343.49,160.28 L344.09,157.49 L344.69,154.28 L345.29,151.01 L345.89,148.13 L346.49,146.13 L347.09,145.40 L347.69,146.07 L348.28,148.01 L348.88,150.85 L349.48,154.12 L350.08,157.34 L350.68,160.15 L351.28,162.38 L351.88,163.98 L352.48,165.04 L353.08,165.68 L353.68,166.05 L354.28,166.24 L354.88,166.33 L355.48,166.37 L356.08,166.39 L356.68,166.40 L357.27,166.40 L357.87,166.40 L358.47,166.40 L359.07,166.40 L359.67,166.40 L360.27,166.40 L360.87,166.40 L361.47,166.40 L362.07,166.40 L362.67,166.40 L363.27,166.40 L363.87,166.40 L364.47,166.40 L365.07,166.40 L365.67,166.40 L366.27,166.40 L366.87,166.40 L367.46,166.40 L368.06,166.40 L368.66,166.40 L369.26,166.40 L369.86,166.40 L370.46,166.40 L371.06,166.40 L371.66,166.40 L372.26,166.40 L372.86,166.40 L373.46,166.40 L374.06,166.40 L374.66,166.40 L375.26,166.40 L375.86,166.40 L376.45,166.40 L377.05,166.40 L377.65,166.40 L378.25,166.40 L378.85,166.40 L379.45,166.40 L380.05,166.40 L380.65,166.40 L381.25,166.40 L381.85,166.40 L382.45,166.40 L383.05,166.40 L383.65,166.40 L384.25,166.40 L384.85,166.40 L385.45,166.40 L386.05,166.40 L386.64,166.40 L387.24,166.40 L387.84,166.40 L388.44,166.40 L389.04,166.40 L389.64,166.40 L390.24,166.40 L390.84,166.40 L391.44,166.40 L392.04,166.40 L392.64,166.40 L393.24,166.40 L393.84,166.40 L394.44,166.40 L395.04,166.40 L395.63,166.40 L396.23,166.40 L396.83,166.40 L397.43,166.40 L398.03,166.40 L398.63,166.40 L399.23,166.40 L399.83,166.40 L400.43,166.40 L401.03,166.40 L401.63,166.40 L402.23,166.40 L402.83,166.40 L403.43,166.40 L404.03,166.40 L404.63,166.40 L405.23,166.40 L405.82,166.40 L406.42,166.40 L407.02,166.40 L407.62,166.40 L408.22,166.40 L408.82,166.40 L409.42,166.40 L410.02,166.40 L410.62,166.40 L411.22,166.40 L411.82,166.40 L412.42,166.40 L413.02,166.40 L413.62,166.40 L414.22,166.40 L414.81,166.40 L415.41,166.40 L416.01,166.40 L416.61,166.40 L417.21,166.40 L417.81,166.40 L418.41,166.40 L419.01,166.40 L419.61,166.40 L420.21,166.40 L420.81,166.40 L421.41,166.40 L422.01,166.40 L422.61,166.40 L423.21,166.40 L423.81,166.40 L424.40,166.40 L425.00,166.40 L425.60,166.40 L426.20,166.40 L426.80,166.40 L427.40,166.40 L428.00,166.40 L428.60,166.40 L429.20,166.40 L429.20,166.40 L333.30,166.40 Z" fill="#e6e6e6" stroke="none"/>
<path d="M333.30,166.40 L333.90,166.40 L334.50,166.40 L335.10,166.40 L335.70,166.40 L336.30,166.40 L336.90,166.40 L337.50,166.40 L338.10,166.39 L338.69,166.37 L339.29,166.33 L339.89,166.25 L340.49,166.06 L341.09,165.71 L341.69,165.08 L342.29,164.04 L342.89,162.47 L343.49,160.28 L344.09,157.49 L344.69,154.28 L345.29,151.01 L345.89,148.13 L346.49,146.13 L347.09,145.40 L347.69,146.07 L348.28,148.01 L348.88,150.85 L349.48,154.12 L350.08,157.34 L350.68,160.15 L351.28,162.38 L351.88,163.98 L352.48,165.04 L353.08,165.68 L353.68,166.05 L354.28,166.24 L354.88,166.33 L355.48,166.37 L356.08,166.39 L356.68,166.40 L357.27,166.40 L357.87,166.40 L358.47,166.40 L359.07,166.40 L359.67,166.40 L360.27,166.40 L360.87,166.40 L361.47,166.40 L362.07,166.40 L362.67,166.40 L363.27,166.40 L363.87,166.40 L364.47,166.40 L365.07,166.40 L365.67,166.40 L366.27,166.40 L366.87,166.40 L367.46,166.40 L368.06,166.40 L368.66,166.40 L369.26,166.40 L369.86,166.40 L370.46,166.40 L371.06,166.40 L371.66,166.40 L372.26,166.40 L372.86,166.40 L373.46,166.40 L374.06,166.40 L374.66,166.40 L375.26,166.40 L375.86,166.40 L376.45,166.40 L377.05,166.40 L377.65,166.40 L378.25,166.40 L378.85,166.40 L379.45,166.40 L380.05,166.40 L380.65,166.40 L381.25,166.40 L381.85,166.40 L382.45,166.40 L383.05,166.40 L383.65,166.40 L384.25,166.40 L384.85,166.40 L385.45,166.40 L386.05,166.40 L386.64,166.40 L387.24,166.40 L387.84,166.40 L388.44,166.40 L389.04,166.40 L389.64,166.40 L390.24,166.40 L390.84,166.40 L391.44,166.40 L392.04,166.40 L392.64,166.40 L393.24,166.40 L393.84,166.40 L394.44,166.40 L395.04,166.40 L395.63,166.40 L396.23,166.40 L396.83,166.40 L397.43,166.40 L398.03,166.40 L398.63,166.40 L399.23,166.40 L399.83,166.40 L400.43,166.40 L401.03,166.40 L401.63,166.40 L402.23,166.40 L402.83,166.40 L403.43,166.40 L404.03,166.40 L404.63,166.40 L405.23,166.40 L405.82,166.40 L406.42,166.40 L407.02,166.40 L407.62,166.40 L408.22,166.40 L408.82,166.40 L409.42,166.40 L410.02,166.40 L410.62,166.40 L411.22,166.40 L411.82,166.40 L412.42,166.40 L413.02,166.40 L413.62,166.40 L414.22,166.40 L414.81,166.40 L415.41,166.40 L416.01,166.40 L416.61,166.40 L417.21,166.40 L417.81,166.40 L418.41,166.40 L419.01,166.40 L419.61,166.40 L420.21,166.40 L420.81,166.40 L421.41,166.40 L422.01,166.40 L422.61,166.40 L423.21,166.40 L423.81,166.40 L424.40,166.40 L425.00,166.40 L425.60,166.40 L426.20,166.40 L426.80,166.40 L427.40,166.40 L428.00,166.40 L428.60,166.40 L429.20,166.40" fill="none" stroke="#000" stroke-width="0.8" stroke-linejoin="round"/>
<path d="M333.30,177.80 L333.90,177.80 L334.50,177.80 L335.10,177.80 L335.70,177.80 L336.30,177.79 L336.90,177.78 L337.50,177.76 L338.10,177.72 L338.69,177.65 L339.29,177.54 L339.89,177.38 L340.49,177.15 L341.09,176.87 L341.69,176.53 L342.29,176.17 L342.89,175.82 L343.49,175.53 L344.09,175.35 L344.69,175.30 L345.29,175.39 L345.89,175.61 L346.49,175.92 L347.09,176.27 L347.69,176.63 L348.28,176.96 L348.88,177.22 L349.48,177.43 L350.08,177.57 L350.68,177.67 L351.28,177.73 L351.88,177.76 L352.48,177.78 L353.08,177.79 L353.68,177.79 L354.28,177.79 L354.88,177.78 L355.48,177.78 L356.08,177.77 L356.68,177.76 L357.27,177.74 L357.87,177.72 L358.47,177.66 L359.07,177.53 L359.67,177.27 L360.27,176.74 L360.87,175.77 L361.47,174.15 L362.07,171.71 L362.67,168.45 L363.27,164.62 L363.87,160.76 L364.47,157.63 L365.07,155.93 L365.67,155.94 L366.27,157.10 L366.87,159.17 L367.46,161.84 L368.06,164.77 L368.66,167.63 L369.26,170.17 L369.86,172.25 L370.46,173.83 L371.06,174.97 L371.66,175.72 L372.26,176.20 L372.86,176.50 L373.46,176.67 L374.06,176.78 L374.66,176.86 L375.26,176.92 L375.86,176.98 L376.45,177.04 L377.05,177.10 L377.65,177.16 L378.25,177.22 L378.85,177.28 L379.45,177.34 L380.05,177.39 L380.65,177.45 L381.25,177.50 L381.85,177.54 L382.45,177.58 L383.05,177.62 L383.65,177.65 L384.25,177.68 L384.85,177.70 L385.45,177.72 L386.05,177.74 L386.64,177.75 L387.24,177.76 L387.84,177.77 L388.44,177.78 L389.04,177.78 L389.64,177.79 L390.24,177.79 L390.84,177.79 L391.44,177.79 L392.04,177.80 L392.64,177.80 L393.24,177.80 L393.84,177.80 L394.44,177.80 L395.04,177.80 L395.63,177.80 L396.23,177.80 L396.83,177.80 L397.43,177.80 L398.03,177.80 L398.63,177.80 L399.23,177.80 L399.83,177.80 L400.43,177.80 L401.03,177.80 L401.63,177.80 L402.23,177.80 L402.83,177.80 L403.43,177.80 L404.03,177.80 L404.63,177.80 L405.23,177.80 L405.82,177.80 L406.42,177.80 L407.02,177.80 L407.62,177.80 L408.22,177.80 L408.82,177.80 L409.42,177.80 L410.02,177.80 L410.62,177.80 L411.22,177.80 L411.82,177.80 L412.42,177.80 L413.02,177.80 L413.62,177.80 L414.22,177.80 L414.81,177.80 L415.41,177.80 L416.01,177.80 L416.61,177.80 L417.21,177.80 L417.81,177.80 L418.41,177.80 L419.01,177.80 L419.61,177.80 L420.21,177.80 L420.81,177.80 L421.41,177.80 L422.01,177.80 L422.61,177.80 L423.21,177.80 L423.81,177.80 L424.40,177.80 L425.00,177.80 L425.60,177.80 L426.20,177.80 L426.80,177.80 L427.40,177.80 L428.00,177.80 L428.60,177.80 L429.20,177.80 L429.20,177.80 L333.30,177.80 Z" fill="#9a9a9a" stroke="none"/>
<path d="M333.30,177.80 L333.90,177.80 L334.50,177.80 L335.10,177.80 L335.70,177.80 L336.30,177.79 L336.90,177.78 L337.50,177.76 L338.10,177.72 L338.69,177.65 L339.29,177.54 L339.89,177.38 L340.49,177.15 L341.09,176.87 L341.69,176.53 L342.29,176.17 L342.89,175.82 L343.49,175.53 L344.09,175.35 L344.69,175.30 L345.29,175.39 L345.89,175.61 L346.49,175.92 L347.09,176.27 L347.69,176.63 L348.28,176.96 L348.88,177.22 L349.48,177.43 L350.08,177.57 L350.68,177.67 L351.28,177.73 L351.88,177.76 L352.48,177.78 L353.08,177.79 L353.68,177.79 L354.28,177.79 L354.88,177.78 L355.48,177.78 L356.08,177.77 L356.68,177.76 L357.27,177.74 L357.87,177.72 L358.47,177.66 L359.07,177.53 L359.67,177.27 L360.27,176.74 L360.87,175.77 L361.47,174.15 L362.07,171.71 L362.67,168.45 L363.27,164.62 L363.87,160.76 L364.47,157.63 L365.07,155.93 L365.67,155.94 L366.27,157.10 L366.87,159.17 L367.46,161.84 L368.06,164.77 L368.66,167.63 L369.26,170.17 L369.86,172.25 L370.46,173.83 L371.06,174.97 L371.66,175.72 L372.26,176.20 L372.86,176.50 L373.46,176.67 L374.06,176.78 L374.66,176.86 L375.26,176.92 L375.86,176.98 L376.45,177.04 L377.05,177.10 L377.65,177.16 L378.25,177.22 L378.85,177.28 L379.45,177.34 L380.05,177.39 L380.65,177.45 L381.25,177.50 L381.85,177.54 L382.45,177.58 L383.05,177.62 L383.65,177.65 L384.25,177.68 L384.85,177.70 L385.45,177.72 L386.05,177.74 L386.64,177.75 L387.24,177.76 L387.84,177.77 L388.44,177.78 L389.04,177.78 L389.64,177.79 L390.24,177.79 L390.84,177.79 L391.44,177.79 L392.04,177.80 L392.64,177.80 L393.24,177.80 L393.84,177.80 L394.44,177.80 L395.04,177.80 L395.63,177.80 L396.23,177.80 L396.83,177.80 L397.43,177.80 L398.03,177.80 L398.63,177.80 L399.23,177.80 L399.83,177.80 L400.43,177.80 L401.03,177.80 L401.63,177.80 L402.23,177.80 L402.83,177.80 L403.43,177.80 L404.03,177.80 L404.63,177.80 L405.23,177.80 L405.82,177.80 L406.42,177.80 L407.02,177.80 L407.62,177.80 L408.22,177.80 L408.82,177.80 L409.42,177.80 L410.02,177.80 L410.62,177.80 L411.22,177.80 L411.82,177.80 L412.42,177.80 L413.02,177.80 L413.62,177.80 L414.22,177.80 L414.81,177.80 L415.41,177.80 L416.01,177.80 L416.61,177.80 L417.21,177.80 L417.81,177.80 L418.41,177.80 L419.01,177.80 L419.61,177.80 L420.21,177.80 L420.81,177.80 L421.41,177.80 L422.01,177.80 L422.61,177.80 L423.21,177.80 L423.81,177.80 L424.40,177.80 L425.00,177.80 L425.60,177.80 L426.20,177.80 L426.80,177.80 L427.40,177.80 L428.00,177.80 L428.60,177.80 L429.20,177.80" fill="none" stroke="#000" stroke-width="0.8" stroke-linejoin="round"/>
<path d="M333.30,189.10 L333.90,189.10 L334.50,189.10 L335.10,189.10 L335.70,189.10 L336.30,189.10 L336.90,189.10 L337.50,189.10 L338.10,189.10 L338.69,189.10 L339.29,189.10 L339.89,189.10 L340.49,189.10 L341.09,189.10 L341.69,189.10 L342.29,189.10 L342.89,189.10 L343.49,189.10 L344.09,189.10 L344.69,189.10 L345.29,189.10 L345.89,189.10 L346.49,189.10 L347.09,189.10 L347.69,189.10 L348.28,189.10 L348.88,189.10 L349.48,189.10 L350.08,189.10 L350.68,189.10 L351.28,189.10 L351.88,189.10 L352.48,189.10 L353.08,189.10 L353.68,189.10 L354.28,189.10 L354.88,189.09 L355.48,189.09 L356.08,189.09 L356.68,189.08 L357.27,189.07 L357.87,189.06 L358.47,189.04 L359.07,189.00 L359.67,188.93 L360.27,188.74 L360.87,188.30 L361.47,187.37 L362.07,185.61 L362.67,182.83 L363.27,179.15 L363.87,175.27 L364.47,172.30 L365.07,171.25 L365.67,171.74 L366.27,173.14 L366.87,175.20 L367.46,177.57 L368.06,179.91 L368.66,181.97 L369.26,183.61 L369.86,184.80 L370.46,185.60 L371.06,186.09 L371.66,186.36 L372.26,186.51 L372.86,186.60 L373.46,186.67 L374.06,186.73 L374.66,186.81 L375.26,186.89 L375.86,186.99 L376.45,187.10 L377.05,187.21 L377.65,187.32 L378.25,187.44 L378.85,187.54 L379.45,187.64 L380.05,187.74 L380.65,187.83 L381.25,187.91 L381.85,187.98 L382.45,188.05 L383.05,188.12 L383.65,188.18 L384.25,188.24 L384.85,188.30 L385.45,188.36 L386.05,188.42 L386.64,188.48 L387.24,188.53 L387.84,188.59 L388.44,188.64 L389.04,188.69 L389.64,188.74 L390.24,188.79 L390.84,188.83 L391.44,188.87 L392.04,188.90 L392.64,188.93 L393.24,188.96 L393.84,188.99 L394.44,189.01 L395.04,189.02 L395.63,189.04 L396.23,189.05 L396.83,189.06 L397.43,189.07 L398.03,189.08 L398.63,189.08 L399.23,189.09 L399.83,189.09 L400.43,189.09 L401.03,189.09 L401.63,189.10 L402.23,189.10 L402.83,189.10 L403.43,189.10 L404.03,189.10 L404.63,189.10 L405.23,189.10 L405.82,189.10 L406.42,189.10 L407.02,189.10 L407.62,189.10 L408.22,189.10 L408.82,189.10 L409.42,189.10 L410.02,189.10 L410.62,189.10 L411.22,189.10 L411.82,189.10 L412.42,189.10 L413.02,189.10 L413.62,189.10 L414.22,189.10 L414.81,189.10 L415.41,189.10 L416.01,189.10 L416.61,189.10 L417.21,189.10 L417.81,189.10 L418.41,189.10 L419.01,189.10 L419.61,189.10 L420.21,189.10 L420.81,189.10 L421.41,189.10 L422.01,189.10 L422.61,189.10 L423.21,189.10 L423.81,189.10 L424.40,189.10 L425.00,189.10 L425.60,189.10 L426.20,189.10 L426.80,189.10 L427.40,189.10 L428.00,189.10 L428.60,189.10 L429.20,189.10 L429.20,189.10 L333.30,189.10 Z" fill="#5c1f9c" stroke="none"/>
<path d="M333.30,189.10 L333.90,189.10 L334.50,189.10 L335.10,189.10 L335.70,189.10 L336.30,189.10 L336.90,189.10 L337.50,189.10 L338.10,189.10 L338.69,189.10 L339.29,189.10 L339.89,189.10 L340.49,189.10 L341.09,189.10 L341.69,189.10 L342.29,189.10 L342.89,189.10 L343.49,189.10 L344.09,189.10 L344.69,189.10 L345.29,189.10 L345.89,189.10 L346.49,189.10 L347.09,189.10 L347.69,189.10 L348.28,189.10 L348.88,189.10 L349.48,189.10 L350.08,189.10 L350.68,189.10 L351.28,189.10 L351.88,189.10 L352.48,189.10 L353.08,189.10 L353.68,189.10 L354.28,189.10 L354.88,189.09 L355.48,189.09 L356.08,189.09 L356.68,189.08 L357.27,189.07 L357.87,189.06 L358.47,189.04 L359.07,189.00 L359.67,188.93 L360.27,188.74 L360.87,188.30 L361.47,187.37 L362.07,185.61 L362.67,182.83 L363.27,179.15 L363.87,175.27 L364.47,172.30 L365.07,171.25 L365.67,171.74 L366.27,173.14 L366.87,175.20 L367.46,177.57 L368.06,179.91 L368.66,181.97 L369.26,183.61 L369.86,184.80 L370.46,185.60 L371.06,186.09 L371.66,186.36 L372.26,186.51 L372.86,186.60 L373.46,186.67 L374.06,186.73 L374.66,186.81 L375.26,186.89 L375.86,186.99 L376.45,187.10 L377.05,187.21 L377.65,187.32 L378.25,187.44 L378.85,187.54 L379.45,187.64 L380.05,187.74 L380.65,187.83 L381.25,187.91 L381.85,187.98 L382.45,188.05 L383.05,188.12 L383.65,188.18 L384.25,188.24 L384.85,188.30 L385.45,188.36 L386.05,188.42 L386.64,188.48 L387.24,188.53 L387.84,188.59 L388.44,188.64 L389.04,188.69 L389.64,188.74 L390.24,188.79 L390.84,188.83 L391.44,188.87 L392.04,188.90 L392.64,188.93 L393.24,188.96 L393.84,188.99 L394.44,189.01 L395.04,189.02 L395.63,189.04 L396.23,189.05 L396.83,189.06 L397.43,189.07 L398.03,189.08 L398.63,189.08 L399.23,189.09 L399.83,189.09 L400.43,189.09 L401.03,189.09 L401.63,189.10 L402.23,189.10 L402.83,189.10 L403.43,189.10 L404.03,189.10 L404.63,189.10 L405.23,189.10 L405.82,189.10 L406.42,189.10 L407.02,189.10 L407.62,189.10 L408.22,189.10 L408.82,189.10 L409.42,189.10 L410.02,189.10 L410.62,189.10 L411.22,189.10 L411.82,189.10 L412.42,189.10 L413.02,189.10 L413.62,189.10 L414.22,189.10 L414.81,189.10 L415.41,189.10 L416.01,189.10 L416.61,189.10 L417.21,189.10 L417.81,189.10 L418.41,189.10 L419.01,189.10 L419.61,189.10 L420.21,189.10 L420.81,189.10 L421.41,189.10 L422.01,189.10 L422.61,189.10 L423.21,189.10 L423.81,189.10 L424.40,189.10 L425.00,189.10 L425.60,189.10 L426.20,189.10 L426.80,189.10 L427.40,189.10 L428.00,189.10 L428.60,189.10 L429.20,189.10" fill="none" stroke="#000" stroke-width="0.8" stroke-linejoin="round"/>
<path d="M333.30,200.40 L333.90,200.40 L334.50,200.40 L335.10,200.40 L335.70,200.40 L336.30,200.40 L336.90,200.40 L337.50,200.40 L338.10,200.40 L338.69,200.40 L339.29,200.40 L339.89,200.40 L340.49,200.40 L341.09,200.40 L341.69,200.40 L342.29,200.40 L342.89,200.40 L343.49,200.40 L344.09,200.40 L344.69,200.40 L345.29,200.40 L345.89,200.40 L346.49,200.40 L347.09,200.40 L347.69,200.40 L348.28,200.40 L348.88,200.40 L349.48,200.40 L350.08,200.40 L350.68,200.40 L351.28,200.40 L351.88,200.40 L352.48,200.40 L353.08,200.40 L353.68,200.40 L354.28,200.40 L354.88,200.40 L355.48,200.40 L356.08,200.40 L356.68,200.39 L357.27,200.39 L357.87,200.37 L358.47,200.33 L359.07,200.22 L359.67,199.97 L360.27,199.47 L360.87,198.54 L361.47,196.98 L362.07,194.61 L362.67,191.44 L363.27,187.71 L363.87,183.96 L364.47,180.90 L365.07,179.24 L365.67,179.22 L366.27,180.25 L366.87,182.11 L367.46,184.53 L368.06,187.22 L368.66,189.88 L369.26,192.29 L369.86,194.30 L370.46,195.85 L371.06,196.98 L371.66,197.75 L372.26,198.23 L372.86,198.52 L373.46,198.69 L374.06,198.79 L374.66,198.86 L375.26,198.92 L375.86,198.99 L376.45,199.07 L377.05,199.15 L377.65,199.25 L378.25,199.36 L378.85,199.46 L379.45,199.57 L380.05,199.68 L380.65,199.78 L381.25,199.88 L381.85,199.96 L382.45,200.04 L383.05,200.11 L383.65,200.17 L384.25,200.22 L384.85,200.26 L385.45,200.29 L386.05,200.32 L386.64,200.34 L387.24,200.36 L387.84,200.37 L388.44,200.38 L389.04,200.38 L389.64,200.39 L390.24,200.39 L390.84,200.39 L391.44,200.40 L392.04,200.40 L392.64,200.40 L393.24,200.40 L393.84,200.40 L394.44,200.40 L395.04,200.40 L395.63,200.40 L396.23,200.40 L396.83,200.40 L397.43,200.40 L398.03,200.40 L398.63,200.40 L399.23,200.40 L399.83,200.40 L400.43,200.40 L401.03,200.40 L401.63,200.40 L402.23,200.40 L402.83,200.40 L403.43,200.40 L404.03,200.40 L404.63,200.40 L405.23,200.40 L405.82,200.40 L406.42,200.40 L407.02,200.40 L407.62,200.40 L408.22,200.40 L408.82,200.40 L409.42,200.40 L410.02,200.40 L410.62,200.40 L411.22,200.40 L411.82,200.40 L412.42,200.40 L413.02,200.40 L413.62,200.40 L414.22,200.40 L414.81,200.40 L415.41,200.40 L416.01,200.40 L416.61,200.40 L417.21,200.40 L417.81,200.40 L418.41,200.40 L419.01,200.40 L419.61,200.40 L420.21,200.40 L420.81,200.40 L421.41,200.40 L422.01,200.40 L422.61,200.40 L423.21,200.40 L423.81,200.40 L424.40,200.40 L425.00,200.40 L425.60,200.40 L426.20,200.40 L426.80,200.40 L427.40,200.40 L428.00,200.40 L428.60,200.40 L429.20,200.40 L429.20,200.40 L333.30,200.40 Z" fill="#9a9a9a" stroke="none"/>
<path d="M333.30,200.40 L333.90,200.40 L334.50,200.40 L335.10,200.40 L335.70,200.40 L336.30,200.40 L336.90,200.40 L337.50,200.40 L338.10,200.40 L338.69,200.40 L339.29,200.40 L339.89,200.40 L340.49,200.40 L341.09,200.40 L341.69,200.40 L342.29,200.40 L342.89,200.40 L343.49,200.40 L344.09,200.40 L344.69,200.40 L345.29,200.40 L345.89,200.40 L346.49,200.40 L347.09,200.40 L347.69,200.40 L348.28,200.40 L348.88,200.40 L349.48,200.40 L350.08,200.40 L350.68,200.40 L351.28,200.40 L351.88,200.40 L352.48,200.40 L353.08,200.40 L353.68,200.40 L354.28,200.40 L354.88,200.40 L355.48,200.40 L356.08,200.40 L356.68,200.39 L357.27,200.39 L357.87,200.37 L358.47,200.33 L359.07,200.22 L359.67,199.97 L360.27,199.47 L360.87,198.54 L361.47,196.98 L362.07,194.61 L362.67,191.44 L363.27,187.71 L363.87,183.96 L364.47,180.90 L365.07,179.24 L365.67,179.22 L366.27,180.25 L366.87,182.11 L367.46,184.53 L368.06,187.22 L368.66,189.88 L369.26,192.29 L369.86,194.30 L370.46,195.85 L371.06,196.98 L371.66,197.75 L372.26,198.23 L372.86,198.52 L373.46,198.69 L374.06,198.79 L374.66,198.86 L375.26,198.92 L375.86,198.99 L376.45,199.07 L377.05,199.15 L377.65,199.25 L378.25,199.36 L378.85,199.46 L379.45,199.57 L380.05,199.68 L380.65,199.78 L381.25,199.88 L381.85,199.96 L382.45,200.04 L383.05,200.11 L383.65,200.17 L384.25,200.22 L384.85,200.26 L385.45,200.29 L386.05,200.32 L386.64,200.34 L387.24,200.36 L387.84,200.37 L388.44,200.38 L389.04,200.38 L389.64,200.39 L390.24,200.39 L390.84,200.39 L391.44,200.40 L392.04,200.40 L392.64,200.40 L393.24,200.40 L393.84,200.40 L394.44,200.40 L395.04,200.40 L395.63,200.40 L396.23,200.40 L396.83,200.40 L397.43,200.40 L398.03,200.40 L398.63,200.40 L399.23,200.40 L399.83,200.40 L400.43,200.40 L401.03,200.40 L401.63,200.40 L402.23,200.40 L402.83,200.40 L403.43,200.40 L404.03,200.40 L404.63,200.40 L405.23,200.40 L405.82,200.40 L406.42,200.40 L407.02,200.40 L407.62,200.40 L408.22,200.40 L408.82,200.40 L409.42,200.40 L410.02,200.40 L410.62,200.40 L411.22,200.40 L411.82,200.40 L412.42,200.40 L413.02,200.40 L413.62,200.40 L414.22,200.40 L414.81,200.40 L415.41,200.40 L416.01,200.40 L416.61,200.40 L417.21,200.40 L417.81,200.40 L418.41,200.40 L419.01,200.40 L419.61,200.40 L420.21,200.40 L420.81,200.40 L421.41,200.40 L422.01,200.40 L422.61,200.40 L423.21,200.40 L423.81,200.40 L424.40,200.40 L425.00,200.40 L425.60,200.40 L426.20,200.40 L426.80,200.40 L427.40,200.40 L428.00,200.40 L428.60,200.40 L429.20,200.40" fill="none" stroke="#000" stroke-width="0.8" stroke-linejoin="round"/>
<path d="M333.30,211.80 L333.90,211.80 L334.50,211.80 L335.10,211.80 L335.70,211.80 L336.30,211.80 L336.90,211.80 L337.50,211.80 L338.10,211.80 L338.69,211.80 L339.29,211.80 L339.89,211.80 L340.49,211.80 L341.09,211.80 L341.69,211.80 L342.29,211.80 L342.89,211.80 L343.49,211.80 L344.09,211.80 L344.69,211.80 L345.29,211.80 L345.89,211.80 L346.49,211.80 L347.09,211.80 L347.69,211.80 L348.28,211.80 L348.88,211.80 L349.48,211.80 L350.08,211.80 L350.68,211.80 L351.28,211.79 L351.88,211.79 L352.48,211.79 L353.08,211.78 L353.68,211.78 L354.28,211.77 L354.88,211.76 L355.48,211.74 L356.08,211.73 L356.68,211.70 L357.27,211.65 L357.87,211.56 L358.47,211.34 L359.07,210.80 L359.67,209.65 L360.27,207.49 L360.87,204.07 L361.47,199.55 L362.07,194.80 L362.67,191.18 L363.27,189.94 L363.87,190.48 L364.47,192.01 L365.07,194.28 L365.67,196.97 L366.27,199.73 L366.87,202.28 L367.46,204.43 L368.06,206.11 L368.66,207.32 L369.26,208.12 L369.86,208.62 L370.46,208.89 L371.06,209.03 L371.66,209.10 L372.26,209.13 L372.86,209.15 L373.46,209.18 L374.06,209.21 L374.66,209.26 L375.26,209.32 L375.86,209.39 L376.45,209.47 L377.05,209.55 L377.65,209.63 L378.25,209.71 L378.85,209.79 L379.45,209.86 L380.05,209.93 L380.65,209.99 L381.25,210.05 L381.85,210.10 L382.45,210.15 L383.05,210.20 L383.65,210.25 L384.25,210.30 L384.85,210.35 L385.45,210.40 L386.05,210.46 L386.64,210.52 L387.24,210.58 L387.84,210.65 L388.44,210.72 L389.04,210.80 L389.64,210.88 L390.24,210.96 L390.84,211.03 L391.44,211.11 L392.04,211.19 L392.64,211.26 L393.24,211.33 L393.84,211.39 L394.44,211.45 L395.04,211.50 L395.63,211.55 L396.23,211.59 L396.83,211.63 L397.43,211.66 L398.03,211.69 L398.63,211.71 L399.23,211.73 L399.83,211.74 L400.43,211.76 L401.03,211.77 L401.63,211.77 L402.23,211.78 L402.83,211.79 L403.43,211.79 L404.03,211.79 L404.63,211.79 L405.23,211.80 L405.82,211.80 L406.42,211.80 L407.02,211.80 L407.62,211.80 L408.22,211.80 L408.82,211.80 L409.42,211.80 L410.02,211.80 L410.62,211.80 L411.22,211.80 L411.82,211.80 L412.42,211.80 L413.02,211.80 L413.62,211.80 L414.22,211.80 L414.81,211.80 L415.41,211.80 L416.01,211.80 L416.61,211.80 L417.21,211.80 L417.81,211.80 L418.41,211.80 L419.01,211.80 L419.61,211.80 L420.21,211.80 L420.81,211.80 L421.41,211.80 L422.01,211.80 L422.61,211.80 L423.21,211.80 L423.81,211.80 L424.40,211.80 L425.00,211.80 L425.60,211.80 L426.20,211.80 L426.80,211.80 L427.40,211.80 L428.00,211.80 L428.60,211.80 L429.20,211.80 L429.20,211.80 L333.30,211.80 Z" fill="#5c1f9c" stroke="none"/>
<path d="M333.30,211.80 L333.90,211.80 L334.50,211.80 L335.10,211.80 L335.70,211.80 L336.30,211.80 L336.90,211.80 L337.50,211.80 L338.10,211.80 L338.69,211.80 L339.29,211.80 L339.89,211.80 L340.49,211.80 L341.09,211.80 L341.69,211.80 L342.29,211.80 L342.89,211.80 L343.49,211.80 L344.09,211.80 L344.69,211.80 L345.29,211.80 L345.89,211.80 L346.49,211.80 L347.09,211.80 L347.69,211.80 L348.28,211.80 L348.88,211.80 L349.48,211.80 L350.08,211.80 L350.68,211.80 L351.28,211.79 L351.88,211.79 L352.48,211.79 L353.08,211.78 L353.68,211.78 L354.28,211.77 L354.88,211.76 L355.48,211.74 L356.08,211.73 L356.68,211.70 L357.27,211.65 L357.87,211.56 L358.47,211.34 L359.07,210.80 L359.67,209.65 L360.27,207.49 L360.87,204.07 L361.47,199.55 L362.07,194.80 L362.67,191.18 L363.27,189.94 L363.87,190.48 L364.47,192.01 L365.07,194.28 L365.67,196.97 L366.27,199.73 L366.87,202.28 L367.46,204.43 L368.06,206.11 L368.66,207.32 L369.26,208.12 L369.86,208.62 L370.46,208.89 L371.06,209.03 L371.66,209.10 L372.26,209.13 L372.86,209.15 L373.46,209.18 L374.06,209.21 L374.66,209.26 L375.26,209.32 L375.86,209.39 L376.45,209.47 L377.05,209.55 L377.65,209.63 L378.25,209.71 L378.85,209.79 L379.45,209.86 L380.05,209.93 L380.65,209.99 L381.25,210.05 L381.85,210.10 L382.45,210.15 L383.05,210.20 L383.65,210.25 L384.25,210.30 L384.85,210.35 L385.45,210.40 L386.05,210.46 L386.64,210.52 L387.24,210.58 L387.84,210.65 L388.44,210.72 L389.04,210.80 L389.64,210.88 L390.24,210.96 L390.84,211.03 L391.44,211.11 L392.04,211.19 L392.64,211.26 L393.24,211.33 L393.84,211.39 L394.44,211.45 L395.04,211.50 L395.63,211.55 L396.23,211.59 L396.83,211.63 L397.43,211.66 L398.03,211.69 L398.63,211.71 L399.23,211.73 L399.83,211.74 L400.43,211.76 L401.03,211.77 L401.63,211.77 L402.23,211.78 L402.83,211.79 L403.43,211.79 L404.03,211.79 L404.63,211.79 L405.23,211.80 L405.82,211.80 L406.42,211.80 L407.02,211.80 L407.62,211.80 L408.22,211.80 L408.82,211.80 L409.42,211.80 L410.02,211.80 L410.62,211.80 L411.22,211.80 L411.82,211.80 L412.42,211.80 L413.02,211.80 L413.62,211.80 L414.22,211.80 L414.81,211.80 L415.41,211.80 L416.01,211.80 L416.61,211.80 L417.21,211.80 L417.81,211.80 L418.41,211.80 L419.01,211.80 L419.61,211.80 L420.21,211.80 L420.81,211.80 L421.41,211.80 L422.01,211.80 L422.61,211.80 L423.21,211.80 L423.81,211.80 L424.40,211.80 L425.00,211.80 L425.60,211.80 L426.20,211.80 L426.80,211.80 L427.40,211.80 L428.00,211.80 L428.60,211.80 L429.20,211.80" fill="none" stroke="#000" stroke-width="0.8" stroke-linejoin="round"/>
<path d="M333.30,223.10 L333.90,223.10 L334.50,223.10 L335.10,223.10 L335.70,223.10 L336.30,223.10 L336.90,223.10 L337.50,223.10 L338.10,223.10 L338.69,223.10 L339.29,223.10 L339.89,223.10 L340.49,223.10 L341.09,223.10 L341.69,223.10 L342.29,223.10 L342.89,223.10 L343.49,223.10 L344.09,223.10 L344.69,223.10 L345.29,223.10 L345.89,223.10 L346.49,223.10 L347.09,223.10 L347.69,223.10 L348.28,223.10 L348.88,223.10 L349.48,223.10 L350.08,223.10 L350.68,223.10 L351.28,223.10 L351.88,223.10 L352.48,223.10 L353.08,223.10 L353.68,223.10 L354.28,223.10 L354.88,223.10 L355.48,223.10 L356.08,223.09 L356.68,223.08 L357.27,223.05 L357.87,222.99 L358.47,222.83 L359.07,222.49 L359.67,221.83 L360.27,220.66 L360.87,218.80 L361.47,216.15 L362.07,212.82 L362.67,209.17 L363.27,205.83 L363.87,203.51 L364.47,202.76 L365.07,203.27 L365.67,204.67 L366.27,206.74 L366.87,209.21 L367.46,211.78 L368.06,214.21 L368.66,216.32 L369.26,218.01 L369.86,219.28 L370.46,220.17 L371.06,220.75 L371.66,221.11 L372.26,221.33 L372.86,221.45 L373.46,221.53 L374.06,221.60 L374.66,221.67 L375.26,221.74 L375.86,221.82 L376.45,221.92 L377.05,222.02 L377.65,222.13 L378.25,222.24 L378.85,222.34 L379.45,222.45 L380.05,222.55 L380.65,222.63 L381.25,222.72 L381.85,222.79 L382.45,222.85 L383.05,222.90 L383.65,222.94 L384.25,222.98 L384.85,223.01 L385.45,223.03 L386.05,223.05 L386.64,223.06 L387.24,223.07 L387.84,223.08 L388.44,223.09 L389.04,223.09 L389.64,223.09 L390.24,223.10 L390.84,223.10 L391.44,223.10 L392.04,223.10 L392.64,223.10 L393.24,223.10 L393.84,223.10 L394.44,223.10 L395.04,223.10 L395.63,223.10 L396.23,223.10 L396.83,223.10 L397.43,223.10 L398.03,223.10 L398.63,223.10 L399.23,223.10 L399.83,223.10 L400.43,223.10 L401.03,223.10 L401.63,223.10 L402.23,223.10 L402.83,223.10 L403.43,223.10 L404.03,223.10 L404.63,223.10 L405.23,223.10 L405.82,223.10 L406.42,223.10 L407.02,223.10 L407.62,223.10 L408.22,223.10 L408.82,223.10 L409.42,223.10 L410.02,223.10 L410.62,223.10 L411.22,223.10 L411.82,223.10 L412.42,223.10 L413.02,223.10 L413.62,223.10 L414.22,223.10 L414.81,223.10 L415.41,223.10 L416.01,223.10 L416.61,223.10 L417.21,223.10 L417.81,223.10 L418.41,223.10 L419.01,223.10 L419.61,223.10 L420.21,223.10 L420.81,223.10 L421.41,223.10 L422.01,223.10 L422.61,223.10 L423.21,223.10 L423.81,223.10 L424.40,223.10 L425.00,223.10 L425.60,223.10 L426.20,223.10 L426.80,223.10 L427.40,223.10 L428.00,223.10 L428.60,223.10 L429.20,223.10 L429.20,223.10 L333.30,223.10 Z" fill="#9a9a9a" stroke="none"/>
<path d="M333.30,223.10 L333.90,223.10 L334.50,223.10 L335.10,223.10 L335.70,223.10 L336.30,223.10 L336.90,223.10 L337.50,223.10 L338.10,223.10 L338.69,223.10 L339.29,223.10 L339.89,223.10 L340.49,223.10 L341.09,223.10 L341.69,223.10 L342.29,223.10 L342.89,223.10 L343.49,223.10 L344.09,223.10 L344.69,223.10 L345.29,223.10 L345.89,223.10 L346.49,223.10 L347.09,223.10 L347.69,223.10 L348.28,223.10 L348.88,223.10 L349.48,223.10 L350.08,223.10 L350.68,223.10 L351.28,223.10 L351.88,223.10 L352.48,223.10 L353.08,223.10 L353.68,223.10 L354.28,223.10 L354.88,223.10 L355.48,223.10 L356.08,223.09 L356.68,223.08 L357.27,223.05 L357.87,222.99 L358.47,222.83 L359.07,222.49 L359.67,221.83 L360.27,220.66 L360.87,218.80 L361.47,216.15 L362.07,212.82 L362.67,209.17 L363.27,205.83 L363.87,203.51 L364.47,202.76 L365.07,203.27 L365.67,204.67 L366.27,206.74 L366.87,209.21 L367.46,211.78 L368.06,214.21 L368.66,216.32 L369.26,218.01 L369.86,219.28 L370.46,220.17 L371.06,220.75 L371.66,221.11 L372.26,221.33 L372.86,221.45 L373.46,221.53 L374.06,221.60 L374.66,221.67 L375.26,221.74 L375.86,221.82 L376.45,221.92 L377.05,222.02 L377.65,222.13 L378.25,222.24 L378.85,222.34 L379.45,222.45 L380.05,222.55 L380.65,222.63 L381.25,222.72 L381.85,222.79 L382.45,222.85 L383.05,222.90 L383.65,222.94 L384.25,222.98 L384.85,223.01 L385.45,223.03 L386.05,223.05 L386.64,223.06 L387.24,223.07 L387.84,223.08 L388.44,223.09 L389.04,223.09 L389.64,223.09 L390.24,223.10 L390.84,223.10 L391.44,223.10 L392.04,223.10 L392.64,223.10 L393.24,223.10 L393.84,223.10 L394.44,223.10 L395.04,223.10 L395.63,223.10 L396.23,223.10 L396.83,223.10 L397.43,223.10 L398.03,223.10 L398.63,223.10 L399.23,223.10 L399.83,223.10 L400.43,223.10 L401.03,223.10 L401.63,223.10 L402.23,223.10 L402.83,223.10 L403.43,223.10 L404.03,223.10 L404.63,223.10 L405.23,223.10 L405.82,223.10 L406.42,223.10 L407.02,223.10 L407.62,223.10 L408.22,223.10 L408.82,223.10 L409.42,223.10 L410.02,223.10 L410.62,223.10 L411.22,223.10 L411.82,223.10 L412.42,223.10 L413.02,223.10 L413.62,223.10 L414.22,223.10 L414.81,223.10 L415.41,223.10 L416.01,223.10 L416.61,223.10 L417.21,223.10 L417.81,223.10 L418.41,223.10 L419.01,223.10 L419.61,223.10 L420.21,223.10 L420.81,223.10 L421.41,223.10 L422.01,223.10 L422.61,223.10 L423.21,223.10 L423.81,223.10 L424.40,223.10 L425.00,223.10 L425.60,223.10 L426.20,223.10 L426.80,223.10 L427.40,223.10 L428.00,223.10 L428.60,223.10 L429.20,223.10" fill="none" stroke="#000" stroke-width="0.8" stroke-linejoin="round"/>
<path d="M333.30,234.60 L333.90,234.60 L334.50,234.60 L335.10,234.60 L335.70,234.60 L336.30,234.60 L336.90,234.60 L337.50,234.60 L338.10,234.60 L338.69,234.60 L339.29,234.60 L339.89,234.60 L340.49,234.60 L341.09,234.60 L341.69,234.60 L342.29,234.60 L342.89,234.60 L343.49,234.60 L344.09,234.60 L344.69,234.60 L345.29,234.60 L345.89,234.60 L346.49,234.60 L347.09,234.60 L347.69,234.60 L348.28,234.60 L348.88,234.60 L349.48,234.60 L350.08,234.60 L350.68,234.59 L351.28,234.59 L351.88,234.59 L352.48,234.58 L353.08,234.58 L353.68,234.57 L354.28,234.56 L354.88,234.55 L355.48,234.53 L356.08,234.51 L356.68,234.46 L357.27,234.37 L357.87,234.14 L358.47,233.59 L359.07,232.41 L359.67,230.20 L360.27,226.70 L360.87,222.07 L361.47,217.20 L362.07,213.48 L362.67,212.21 L363.27,212.88 L363.87,214.70 L364.47,217.35 L365.07,220.38 L365.67,223.37 L366.27,226.00 L366.87,228.08 L367.46,229.58 L368.06,230.55 L368.66,231.12 L369.26,231.41 L369.86,231.53 L370.46,231.55 L371.06,231.53 L371.66,231.51 L372.26,231.49 L372.86,231.50 L373.46,231.53 L374.06,231.58 L374.66,231.65 L375.26,231.73 L375.86,231.82 L376.45,231.93 L377.05,232.04 L377.65,232.14 L378.25,232.25 L378.85,232.35 L379.45,232.44 L380.05,232.52 L380.65,232.60 L381.25,232.66 L381.85,232.72 L382.45,232.77 L383.05,232.81 L383.65,232.85 L384.25,232.88 L384.85,232.92 L385.45,232.96 L386.05,233.01 L386.64,233.06 L387.24,233.11 L387.84,233.17 L388.44,233.24 L389.04,233.32 L389.64,233.40 L390.24,233.48 L390.84,233.57 L391.44,233.66 L392.04,233.74 L392.64,233.83 L393.24,233.92 L393.84,234.00 L394.44,234.08 L395.04,234.15 L395.63,234.21 L396.23,234.27 L396.83,234.33 L397.43,234.37 L398.03,234.41 L398.63,234.45 L399.23,234.48 L399.83,234.50 L400.43,234.52 L401.03,234.54 L401.63,234.55 L402.23,234.56 L402.83,234.57 L403.43,234.58 L404.03,234.58 L404.63,234.59 L405.23,234.59 L405.82,234.59 L406.42,234.60 L407.02,234.60 L407.62,234.60 L408.22,234.60 L408.82,234.60 L409.42,234.60 L410.02,234.60 L410.62,234.60 L411.22,234.60 L411.82,234.60 L412.42,234.60 L413.02,234.60 L413.62,234.60 L414.22,234.60 L414.81,234.60 L415.41,234.60 L416.01,234.60 L416.61,234.60 L417.21,234.60 L417.81,234.60 L418.41,234.60 L419.01,234.60 L419.61,234.60 L420.21,234.60 L420.81,234.60 L421.41,234.60 L422.01,234.60 L422.61,234.60 L423.21,234.60 L423.81,234.60 L424.40,234.60 L425.00,234.60 L425.60,234.60 L426.20,234.60 L426.80,234.60 L427.40,234.60 L428.00,234.60 L428.60,234.60 L429.20,234.60 L429.20,234.60 L333.30,234.60 Z" fill="#5c1f9c" stroke="none"/>
<path d="M333.30,234.60 L333.90,234.60 L334.50,234.60 L335.10,234.60 L335.70,234.60 L336.30,234.60 L336.90,234.60 L337.50,234.60 L338.10,234.60 L338.69,234.60 L339.29,234.60 L339.89,234.60 L340.49,234.60 L341.09,234.60 L341.69,234.60 L342.29,234.60 L342.89,234.60 L343.49,234.60 L344.09,234.60 L344.69,234.60 L345.29,234.60 L345.89,234.60 L346.49,234.60 L347.09,234.60 L347.69,234.60 L348.28,234.60 L348.88,234.60 L349.48,234.60 L350.08,234.60 L350.68,234.59 L351.28,234.59 L351.88,234.59 L352.48,234.58 L353.08,234.58 L353.68,234.57 L354.28,234.56 L354.88,234.55 L355.48,234.53 L356.08,234.51 L356.68,234.46 L357.27,234.37 L357.87,234.14 L358.47,233.59 L359.07,232.41 L359.67,230.20 L360.27,226.70 L360.87,222.07 L361.47,217.20 L362.07,213.48 L362.67,212.21 L363.27,212.88 L363.87,214.70 L364.47,217.35 L365.07,220.38 L365.67,223.37 L366.27,226.00 L366.87,228.08 L367.46,229.58 L368.06,230.55 L368.66,231.12 L369.26,231.41 L369.86,231.53 L370.46,231.55 L371.06,231.53 L371.66,231.51 L372.26,231.49 L372.86,231.50 L373.46,231.53 L374.06,231.58 L374.66,231.65 L375.26,231.73 L375.86,231.82 L376.45,231.93 L377.05,232.04 L377.65,232.14 L378.25,232.25 L378.85,232.35 L379.45,232.44 L380.05,232.52 L380.65,232.60 L381.25,232.66 L381.85,232.72 L382.45,232.77 L383.05,232.81 L383.65,232.85 L384.25,232.88 L384.85,232.92 L385.45,232.96 L386.05,233.01 L386.64,233.06 L387.24,233.11 L387.84,233.17 L388.44,233.24 L389.04,233.32 L389.64,233.40 L390.24,233.48 L390.84,233.57 L391.44,233.66 L392.04,233.74 L392.64,233.83 L393.24,233.92 L393.84,234.00 L394.44,234.08 L395.04,234.15 L395.63,234.21 L396.23,234.27 L396.83,234.33 L397.43,234.37 L398.03,234.41 L398.63,234.45 L399.23,234.48 L399.83,234.50 L400.43,234.52 L401.03,234.54 L401.63,234.55 L402.23,234.56 L402.83,234.57 L403.43,234.58 L404.03,234.58 L404.63,234.59 L405.23,234.59 L405.82,234.59 L406.42,234.60 L407.02,234.60 L407.62,234.60 L408.22,234.60 L408.82,234.60 L409.42,234.60 L410.02,234.60 L410.62,234.60 L411.22,234.60 L411.82,234.60 L412.42,234.60 L413.02,234.60 L413.62,234.60 L414.22,234.60 L414.81,234.60 L415.41,234.60 L416.01,234.60 L416.61,234.60 L417.21,234.60 L417.81,234.60 L418.41,234.60 L419.01,234.60 L419.61,234.60 L420.21,234.60 L420.81,234.60 L421.41,234.60 L422.01,234.60 L422.61,234.60 L423.21,234.60 L423.81,234.60 L424.40,234.60 L425.00,234.60 L425.60,234.60 L426.20,234.60 L426.80,234.60 L427.40,234.60 L428.00,234.60 L428.60,234.60 L429.20,234.60" fill="none" stroke="#000" stroke-width="0.8" stroke-linejoin="round"/>
<rect x="333.3" y="143.9" width="95.89999999999998" height="90.69999999999999" fill="none" stroke="#000" stroke-width="0.9"/>
<line x1="336" y1="234.6" x2="336" y2="235.9" stroke="#000" stroke-width="0.6"/>
<line x1="338" y1="234.6" x2="338" y2="235.9" stroke="#000" stroke-width="0.6"/>
<line x1="340" y1="234.6" x2="340" y2="235.9" stroke="#000" stroke-width="0.6"/>
<line x1="342" y1="234.6" x2="342" y2="235.9" stroke="#000" stroke-width="0.6"/>
<line x1="343" y1="234.6" x2="343" y2="235.9" stroke="#000" stroke-width="0.6"/>
<line x1="344" y1="234.6" x2="344" y2="235.9" stroke="#000" stroke-width="0.6"/>
<line x1="348" y1="234.6" x2="348" y2="235.9" stroke="#000" stroke-width="0.6"/>
<line x1="352" y1="234.6" x2="352" y2="235.9" stroke="#000" stroke-width="0.6"/>
<line x1="357" y1="234.6" x2="357" y2="235.9" stroke="#000" stroke-width="0.6"/>
<line x1="366" y1="234.6" x2="366" y2="235.9" stroke="#000" stroke-width="0.6"/>
<line x1="376" y1="234.6" x2="376" y2="235.9" stroke="#000" stroke-width="0.6"/>
<line x1="386" y1="234.6" x2="386" y2="235.9" stroke="#000" stroke-width="0.6"/>
<line x1="396" y1="234.6" x2="396" y2="235.9" stroke="#000" stroke-width="0.6"/>
<line x1="406" y1="234.6" x2="406" y2="235.9" stroke="#000" stroke-width="0.6"/>
<line x1="416" y1="234.6" x2="416" y2="235.9" stroke="#000" stroke-width="0.6"/>
<line x1="426" y1="234.6" x2="426" y2="235.9" stroke="#000" stroke-width="0.6"/>
<text x="379" y="160.1" font-size="8.9" fill="#000" textLength="46" lengthAdjust="spacingAndGlyphs" >Isotype Ctrl</text>
<text x="421.7" y="173.6" font-size="8.2" fill="#8a8a8a" text-anchor="end" textLength="35.2" lengthAdjust="spacingAndGlyphs" >MFI 1938</text>
<text x="421.7" y="184.9" font-size="8.2" fill="#6a2aa8" text-anchor="end" textLength="35.2" lengthAdjust="spacingAndGlyphs" >MFI 6061</text>
<text x="421.7" y="196.2" font-size="8.2" fill="#8a8a8a" text-anchor="end" textLength="35.2" lengthAdjust="spacingAndGlyphs" >MFI 2334</text>
<text x="421.7" y="207.6" font-size="8.2" fill="#6a2aa8" text-anchor="end" textLength="35.2" lengthAdjust="spacingAndGlyphs" >MFI 4706</text>
<text x="421.7" y="218.9" font-size="8.2" fill="#8a8a8a" text-anchor="end" textLength="35.2" lengthAdjust="spacingAndGlyphs" >MFI 2695</text>
<text x="421.7" y="230.4" font-size="8.2" fill="#6a2aa8" text-anchor="end" textLength="35.2" lengthAdjust="spacingAndGlyphs" >MFI 4099</text>
<text x="432.1" y="174" font-size="9" fill="#8a8a8a" >WT Ctrl</text>
<text x="432.1" y="186.8" font-size="9" fill="#a03ee6" >XPC<tspan font-size="64%" dy="-3.0">-/-</tspan><tspan dy="3.0"> Ctrl</tspan></text>
<text x="432.1" y="199.2" font-size="9" fill="#8a8a8a" >WT + VE821</text>
<text x="432.1" y="209.8" font-size="9" fill="#a03ee6" >XPC<tspan font-size="64%" dy="-3.0">-/-</tspan><tspan dy="3.0"> + VE821</tspan></text>
<text x="432.1" y="220.8" font-size="9" fill="#8a8a8a" >WT + KU5593</text>
<text x="432.1" y="232" font-size="9" fill="#a03ee6" >XPC<tspan font-size="64%" dy="-3.0">-/-</tspan><tspan dy="3.0"> + KU5593</tspan></text>
<text transform="translate(331.4,235.4) rotate(-90)" font-size="7.9" fill="#000" text-anchor="start" textLength="21.2" lengthAdjust="spacingAndGlyphs" >Count</text>
<line x1="329" y1="213.3" x2="329" y2="192" stroke="#444" stroke-width="0.8"/>
<path d="M329,187.2 L326.5,192.9 L331.5,192.9 Z" fill="#000"/>
<text x="332.1" y="245.5" font-size="8.5" fill="#000" textLength="26" lengthAdjust="spacingAndGlyphs" >γH2AX</text>
<line x1="360.2" y1="243.8" x2="384" y2="243.8" stroke="#000" stroke-width="0.8"/>
<path d="M387.8,243.8 L382.5,241.8 L382.5,245.8 Z" fill="#000"/>
<line x1="555.4" y1="224.4" x2="555.4" y2="149" stroke="#000" stroke-width="0.8"/>
<line x1="552.8" y1="224.4" x2="555.4" y2="224.4" stroke="#000" stroke-width="0.8"/>
<text transform="translate(551.40,227.06) scale(1.0,1)" font-size="7.6" text-anchor="end">0</text>
<line x1="552.8" y1="199.27" x2="555.4" y2="199.27" stroke="#000" stroke-width="0.8"/>
<text transform="translate(551.40,201.93) scale(1.0,1)" font-size="7.6" text-anchor="end">5000</text>
<line x1="552.8" y1="174.13" x2="555.4" y2="174.13" stroke="#000" stroke-width="0.8"/>
<text transform="translate(551.40,176.79) scale(1.0,1)" font-size="7.6" text-anchor="end">10000</text>
<line x1="552.8" y1="149" x2="555.4" y2="149" stroke="#000" stroke-width="0.8"/>
<text transform="translate(551.40,151.66) scale(1.0,1)" font-size="7.6" text-anchor="end">15000</text>
<line x1="555.4" y1="224.4" x2="644.5" y2="224.4" stroke="#000" stroke-width="0.8"/>
<line x1="565" y1="224.4" x2="565" y2="226.6" stroke="#000" stroke-width="0.8"/>
<line x1="576.7" y1="224.4" x2="576.7" y2="226.6" stroke="#000" stroke-width="0.8"/>
<line x1="594.8" y1="224.4" x2="594.8" y2="226.6" stroke="#000" stroke-width="0.8"/>
<line x1="606.4" y1="224.4" x2="606.4" y2="226.6" stroke="#000" stroke-width="0.8"/>
<line x1="624.6" y1="224.4" x2="624.6" y2="226.6" stroke="#000" stroke-width="0.8"/>
<line x1="636.2" y1="224.4" x2="636.2" y2="226.6" stroke="#000" stroke-width="0.8"/>
<rect x="560.5" y="215.7" width="9" height="8.7" fill="#d9d9d9" stroke="#333" stroke-width="0.8"/>
<rect x="572.1" y="190" width="8.8" height="34.4" fill="#d480f6" stroke="#333" stroke-width="0.8"/>
<rect x="590.4" y="207.3" width="9" height="17.1" fill="#d9d9d9" stroke="#333" stroke-width="0.8"/>
<rect x="602.1" y="185.2" width="8.9" height="39.2" fill="#d480f6" stroke="#333" stroke-width="0.8"/>
<rect x="620.4" y="216.7" width="8.4" height="7.7" fill="#d9d9d9" stroke="#333" stroke-width="0.8"/>
<rect x="631.5" y="186.2" width="9.3" height="38.2" fill="#d480f6" stroke="#333" stroke-width="0.8"/>
<line x1="594.8" y1="207.3" x2="594.8" y2="196" stroke="#333" stroke-width="0.7"/>
<line x1="606.4" y1="185.2" x2="606.4" y2="168" stroke="#333" stroke-width="0.7"/>
<line x1="636.2" y1="186.2" x2="636.2" y2="170.5" stroke="#333" stroke-width="0.7"/>
<line x1="633.6" y1="170.5" x2="638.8" y2="170.5" stroke="#333" stroke-width="0.7"/>
<circle cx="565" cy="211" r="3.7" fill="#000" stroke="#000" stroke-width="0.8"/>
<circle cx="564.6" cy="214.8" r="3.7" fill="#000" stroke="#000" stroke-width="0.8"/>
<circle cx="577" cy="181" r="3.7" fill="#5a22a0" stroke="#1a0a30" stroke-width="0.8"/>
<circle cx="577" cy="193.6" r="3.7" fill="#5a22a0" stroke="#1a0a30" stroke-width="0.8"/>
<circle cx="594.8" cy="196.3" r="3.7" fill="#000" stroke="#000" stroke-width="0.8"/>
<circle cx="594.8" cy="212.5" r="3.7" fill="#000" stroke="#000" stroke-width="0.8"/>
<circle cx="606.5" cy="164.8" r="3.7" fill="#5a22a0" stroke="#1a0a30" stroke-width="0.8"/>
<circle cx="606.5" cy="189.4" r="3.7" fill="#5a22a0" stroke="#1a0a30" stroke-width="0.8"/>
<circle cx="606.5" cy="201" r="3.7" fill="#5a22a0" stroke="#1a0a30" stroke-width="0.8"/>
<circle cx="624.6" cy="211" r="3.7" fill="#000" stroke="#000" stroke-width="0.8"/>
<circle cx="624.4" cy="214.6" r="3.7" fill="#000" stroke="#000" stroke-width="0.8"/>
<circle cx="636.3" cy="177.4" r="3.7" fill="#5a22a0" stroke="#1a0a30" stroke-width="0.8"/>
<circle cx="636.3" cy="204.1" r="3.7" fill="#5a22a0" stroke="#1a0a30" stroke-width="0.8"/>
<polyline points="565.1,207 565.1,156.3 576.9,156.3 576.9,177" fill="none" stroke="#000" stroke-width="0.8"/>
<polygon points="571.00,148.50 570.42,149.80 569.01,149.65 569.85,150.80 569.01,151.95 570.42,151.80 571.00,153.10 571.58,151.80 572.99,151.95 572.15,150.80 572.99,149.65 571.58,149.80" fill="#000" stroke="#000" stroke-width="0.35" stroke-linejoin="round"/>
<polyline points="594.7,192.5 594.7,156.3 606.4,156.3 606.4,161" fill="none" stroke="#000" stroke-width="0.8"/>
<text x="600.6" y="152" font-size="6.3" fill="#000" text-anchor="middle" >ns</text>
<polyline points="624.6,207 624.6,156.3 636.2,156.3 636.2,161" fill="none" stroke="#000" stroke-width="0.8"/>
<polygon points="630.40,148.50 629.82,149.80 628.41,149.65 629.25,150.80 628.41,151.95 629.82,151.80 630.40,153.10 630.98,151.80 632.39,151.95 631.55,150.80 632.39,149.65 630.98,149.80" fill="#000" stroke="#000" stroke-width="0.35" stroke-linejoin="round"/>
<text x="570.7" y="238" font-size="8.5" fill="#000" text-anchor="middle" >Ctrl</text>
<text x="598" y="238" font-size="8.5" fill="#000" text-anchor="middle" >VE821</text>
<text x="631.5" y="238" font-size="8.5" fill="#000" text-anchor="middle" >KU5593</text>
<circle cx="651" cy="154.7" r="4" fill="#000" stroke="none" stroke-width="1"/>
<text x="660.4" y="157.6" font-size="8.7" fill="#000" >WT</text>
<circle cx="651" cy="165.8" r="4" fill="#5a22a0" stroke="#1a0a30" stroke-width="0.8"/>
<text x="660.4" y="169" font-size="8.7" fill="#a03ee6" >XPC<tspan font-size="64%" dy="-3.0">-/-</tspan><tspan dy="3.0"></tspan></text>
<text transform="translate(514.8,186.3) rotate(-90)" font-size="8.6" fill="#000" text-anchor="middle" textLength="73.5" lengthAdjust="spacingAndGlyphs" >MFI γH2AX (gated in</text>
<text transform="translate(527,186) rotate(-90)" font-size="8.6" fill="#000" text-anchor="middle" textLength="80.3" lengthAdjust="spacingAndGlyphs" >Live<tspan font-size="65%" dy="-3">+</tspan><tspan dy="3">CD4</tspan><tspan font-size="65%" dy="-3">+</tspan><tspan dy="3">IL17A</tspan><tspan font-size="65%" dy="-3">+</tspan><tspan dy="3"> cells)</tspan></text>
<line x1="37.5" y1="405.5" x2="37.5" y2="333.9" stroke="#000" stroke-width="0.8"/>
<line x1="34.9" y1="405.5" x2="37.5" y2="405.5" stroke="#000" stroke-width="0.8"/>
<text transform="translate(33.20,407.92) scale(1.1,1)" font-size="6.9" text-anchor="end">0</text>
<line x1="34.9" y1="387.6" x2="37.5" y2="387.6" stroke="#000" stroke-width="0.8"/>
<text transform="translate(33.20,390.02) scale(1.1,1)" font-size="6.9" text-anchor="end">20</text>
<line x1="34.9" y1="369.7" x2="37.5" y2="369.7" stroke="#000" stroke-width="0.8"/>
<text transform="translate(33.20,372.12) scale(1.1,1)" font-size="6.9" text-anchor="end">40</text>
<line x1="34.9" y1="351.8" x2="37.5" y2="351.8" stroke="#000" stroke-width="0.8"/>
<text transform="translate(33.20,354.21) scale(1.1,1)" font-size="6.9" text-anchor="end">60</text>
<line x1="34.9" y1="333.9" x2="37.5" y2="333.9" stroke="#000" stroke-width="0.8"/>
<text transform="translate(33.20,336.31) scale(1.1,1)" font-size="6.9" text-anchor="end">80</text>
<line x1="37.5" y1="405.5" x2="123" y2="405.5" stroke="#000" stroke-width="0.8"/>
<line x1="46.4" y1="405.5" x2="46.4" y2="407.7" stroke="#000" stroke-width="0.8"/>
<line x1="57.6" y1="405.5" x2="57.6" y2="407.7" stroke="#000" stroke-width="0.8"/>
<line x1="75.1" y1="405.5" x2="75.1" y2="407.7" stroke="#000" stroke-width="0.8"/>
<line x1="86.1" y1="405.5" x2="86.1" y2="407.7" stroke="#000" stroke-width="0.8"/>
<line x1="103.6" y1="405.5" x2="103.6" y2="407.7" stroke="#000" stroke-width="0.8"/>
<line x1="114.6" y1="405.5" x2="114.6" y2="407.7" stroke="#000" stroke-width="0.8"/>
<rect x="42.3" y="369.7" width="8.2" height="35.8" fill="#d9d9d9" stroke="#333" stroke-width="0.8"/>
<rect x="53.5" y="377.7" width="8.1" height="27.8" fill="#d480f6" stroke="#333" stroke-width="0.8"/>
<rect x="70.8" y="373.7" width="8.5" height="31.8" fill="#d9d9d9" stroke="#333" stroke-width="0.8"/>
<rect x="82.1" y="357.8" width="8.1" height="47.7" fill="#d480f6" stroke="#333" stroke-width="0.8"/>
<rect x="99.6" y="388.6" width="7.9" height="16.9" fill="#d9d9d9" stroke="#333" stroke-width="0.8"/>
<rect x="110.5" y="352.8" width="8" height="52.7" fill="#d480f6" stroke="#333" stroke-width="0.8"/>
<circle cx="46.4" cy="357.8" r="3.7" fill="#000" stroke="#000" stroke-width="0.8"/>
<circle cx="46.4" cy="363.8" r="3.7" fill="#000" stroke="#000" stroke-width="0.8"/>
<circle cx="46.4" cy="367.7" r="3.7" fill="#000" stroke="#000" stroke-width="0.8"/>
<circle cx="57.8" cy="373.7" r="3.7" fill="#5a22a0" stroke="#1a0a30" stroke-width="0.8"/>
<circle cx="57.8" cy="377.4" r="3.7" fill="#5a22a0" stroke="#1a0a30" stroke-width="0.8"/>
<circle cx="75.1" cy="362.8" r="3.7" fill="#000" stroke="#000" stroke-width="0.8"/>
<circle cx="75.1" cy="373.1" r="3.7" fill="#000" stroke="#000" stroke-width="0.8"/>
<circle cx="86.1" cy="351.8" r="3.7" fill="#5a22a0" stroke="#1a0a30" stroke-width="0.8"/>
<circle cx="86.1" cy="355.2" r="3.7" fill="#5a22a0" stroke="#1a0a30" stroke-width="0.8"/>
<circle cx="86.1" cy="367.3" r="3.7" fill="#5a22a0" stroke="#1a0a30" stroke-width="0.8"/>
<circle cx="103.6" cy="384.2" r="3.7" fill="#000" stroke="#000" stroke-width="0.8"/>
<circle cx="103.6" cy="386.2" r="3.7" fill="#000" stroke="#000" stroke-width="0.8"/>
<circle cx="114.5" cy="348.5" r="3.7" fill="#5a22a0" stroke="#1a0a30" stroke-width="0.8"/>
<circle cx="114.5" cy="354.4" r="3.7" fill="#5a22a0" stroke="#1a0a30" stroke-width="0.8"/>
<polyline points="46.5,354.5 46.5,338.5 57.4,338.5 57.4,370.5" fill="none" stroke="#000" stroke-width="0.8"/>
<polygon points="52.30,331.60 51.72,332.90 50.31,332.75 51.15,333.90 50.31,335.05 51.72,334.90 52.30,336.20 52.88,334.90 54.29,335.05 53.45,333.90 54.29,332.75 52.88,332.90" fill="#000" stroke="#000" stroke-width="0.35" stroke-linejoin="round"/>
<polyline points="75.1,359.5 75.1,338.5 86.3,338.5 86.3,346" fill="none" stroke="#000" stroke-width="0.8"/>
<polygon points="80.70,331.60 80.12,332.90 78.71,332.75 79.55,333.90 78.71,335.05 80.12,334.90 80.70,336.20 81.28,334.90 82.69,335.05 81.85,333.90 82.69,332.75 81.28,332.90" fill="#000" stroke="#000" stroke-width="0.35" stroke-linejoin="round"/>
<polyline points="103.6,381 103.6,338.5 115.1,338.5 115.1,344" fill="none" stroke="#000" stroke-width="0.8"/>
<polygon points="102.20,331.60 101.62,332.90 100.21,332.75 101.05,333.90 100.21,335.05 101.62,334.90 102.20,336.20 102.77,334.90 104.19,335.05 103.35,333.90 104.19,332.75 102.77,332.90" fill="#000" stroke="#000" stroke-width="0.35" stroke-linejoin="round"/>
<polygon points="106.80,331.60 106.22,332.90 104.81,332.75 105.65,333.90 104.81,335.05 106.22,334.90 106.80,336.20 107.37,334.90 108.79,335.05 107.95,333.90 108.79,332.75 107.37,332.90" fill="#000" stroke="#000" stroke-width="0.35" stroke-linejoin="round"/>
<polygon points="111.40,331.60 110.82,332.90 109.41,332.75 110.25,333.90 109.41,335.05 110.82,334.90 111.40,336.20 111.97,334.90 113.39,335.05 112.55,333.90 113.39,332.75 111.97,332.90" fill="#000" stroke="#000" stroke-width="0.35" stroke-linejoin="round"/>
<polygon points="116.00,331.60 115.42,332.90 114.01,332.75 114.85,333.90 114.01,335.05 115.42,334.90 116.00,336.20 116.57,334.90 117.99,335.05 117.15,333.90 117.99,332.75 116.57,332.90" fill="#000" stroke="#000" stroke-width="0.35" stroke-linejoin="round"/>
<text x="52" y="418.4" font-size="8.3" fill="#000" text-anchor="middle" >Ctrl</text>
<text x="77.5" y="418.4" font-size="8.3" fill="#000" text-anchor="middle" >VE821</text>
<text x="109.5" y="418.4" font-size="8.3" fill="#000" text-anchor="middle" >KU5593</text>
<text transform="translate(10.6,368.7) rotate(-90)" font-size="8.2" fill="#000" text-anchor="middle" textLength="69.5" lengthAdjust="spacingAndGlyphs" >% CD4<tspan font-size="65%" dy="-2.5">+</tspan><tspan dy="2.5">IL17A</tspan><tspan font-size="65%" dy="-2.5">+</tspan><tspan dy="2.5"> cells</tspan></text>
<text transform="translate(21.5,368.4) rotate(-90)" font-size="8.3" fill="#000" text-anchor="middle" textLength="72.5" lengthAdjust="spacingAndGlyphs" >(gated in Live cells<tspan font-size="65%" dy="-2.5">+</tspan><tspan dy="2.5">)</tspan></text>
<path d="M146.30,345.70 L146.88,345.70 L147.46,345.70 L148.03,345.70 L148.61,345.69 L149.19,345.69 L149.77,345.68 L150.34,345.66 L150.92,345.63 L151.50,345.59 L152.08,345.53 L152.65,345.43 L153.23,345.29 L153.81,345.10 L154.39,344.82 L154.96,344.45 L155.54,343.95 L156.12,343.31 L156.70,342.50 L157.27,341.50 L157.85,340.30 L158.43,338.91 L159.00,337.33 L159.58,335.60 L160.16,333.77 L160.74,331.89 L161.31,330.04 L161.89,328.32 L162.47,326.80 L163.05,325.57 L163.62,324.71 L164.20,324.26 L164.78,324.24 L165.36,324.60 L165.94,325.31 L166.51,326.34 L167.09,327.62 L167.67,329.11 L168.25,330.73 L168.82,332.43 L169.40,334.14 L169.98,335.79 L170.56,337.36 L171.13,338.80 L171.71,340.08 L172.29,341.21 L172.87,342.17 L173.44,342.97 L174.02,343.63 L174.60,344.16 L175.18,344.57 L175.75,344.88 L176.33,345.12 L176.91,345.30 L177.49,345.42 L178.06,345.51 L178.64,345.58 L179.22,345.62 L179.80,345.65 L180.37,345.67 L180.95,345.68 L181.53,345.69 L182.11,345.69 L182.68,345.70 L183.26,345.70 L183.84,345.70 L184.42,345.70 L184.99,345.70 L185.57,345.70 L186.15,345.70 L186.72,345.70 L187.30,345.70 L187.88,345.70 L188.46,345.70 L189.03,345.70 L189.61,345.70 L190.19,345.70 L190.77,345.70 L191.34,345.70 L191.92,345.70 L192.50,345.70 L193.08,345.70 L193.66,345.70 L194.23,345.70 L194.81,345.70 L195.39,345.70 L195.97,345.70 L196.54,345.70 L197.12,345.70 L197.70,345.70 L198.28,345.70 L198.85,345.70 L199.43,345.70 L200.01,345.70 L200.59,345.70 L201.16,345.70 L201.74,345.70 L202.32,345.70 L202.89,345.70 L203.47,345.70 L204.05,345.70 L204.63,345.70 L205.20,345.70 L205.78,345.70 L206.36,345.70 L206.94,345.70 L207.51,345.70 L208.09,345.70 L208.67,345.70 L209.25,345.70 L209.82,345.70 L210.40,345.70 L210.98,345.70 L211.56,345.70 L212.13,345.70 L212.71,345.70 L213.29,345.70 L213.87,345.70 L214.44,345.70 L215.02,345.70 L215.60,345.70 L216.18,345.70 L216.75,345.70 L217.33,345.70 L217.91,345.70 L218.49,345.70 L219.06,345.70 L219.64,345.70 L220.22,345.70 L220.80,345.70 L221.38,345.70 L221.95,345.70 L222.53,345.70 L223.11,345.70 L223.69,345.70 L224.26,345.70 L224.84,345.70 L225.42,345.70 L226.00,345.70 L226.57,345.70 L227.15,345.70 L227.73,345.70 L228.31,345.70 L228.88,345.70 L229.46,345.70 L230.04,345.70 L230.61,345.70 L231.19,345.70 L231.77,345.70 L232.35,345.70 L232.92,345.70 L233.50,345.70 L234.08,345.70 L234.66,345.70 L235.23,345.70 L235.81,345.70 L236.39,345.70 L236.97,345.70 L237.54,345.70 L238.12,345.70 L238.70,345.70 L238.70,345.70 L146.30,345.70 Z" fill="#e6e6e6" stroke="none"/>
<path d="M146.30,345.70 L146.88,345.70 L147.46,345.70 L148.03,345.70 L148.61,345.69 L149.19,345.69 L149.77,345.68 L150.34,345.66 L150.92,345.63 L151.50,345.59 L152.08,345.53 L152.65,345.43 L153.23,345.29 L153.81,345.10 L154.39,344.82 L154.96,344.45 L155.54,343.95 L156.12,343.31 L156.70,342.50 L157.27,341.50 L157.85,340.30 L158.43,338.91 L159.00,337.33 L159.58,335.60 L160.16,333.77 L160.74,331.89 L161.31,330.04 L161.89,328.32 L162.47,326.80 L163.05,325.57 L163.62,324.71 L164.20,324.26 L164.78,324.24 L165.36,324.60 L165.94,325.31 L166.51,326.34 L167.09,327.62 L167.67,329.11 L168.25,330.73 L168.82,332.43 L169.40,334.14 L169.98,335.79 L170.56,337.36 L171.13,338.80 L171.71,340.08 L172.29,341.21 L172.87,342.17 L173.44,342.97 L174.02,343.63 L174.60,344.16 L175.18,344.57 L175.75,344.88 L176.33,345.12 L176.91,345.30 L177.49,345.42 L178.06,345.51 L178.64,345.58 L179.22,345.62 L179.80,345.65 L180.37,345.67 L180.95,345.68 L181.53,345.69 L182.11,345.69 L182.68,345.70 L183.26,345.70 L183.84,345.70 L184.42,345.70 L184.99,345.70 L185.57,345.70 L186.15,345.70 L186.72,345.70 L187.30,345.70 L187.88,345.70 L188.46,345.70 L189.03,345.70 L189.61,345.70 L190.19,345.70 L190.77,345.70 L191.34,345.70 L191.92,345.70 L192.50,345.70 L193.08,345.70 L193.66,345.70 L194.23,345.70 L194.81,345.70 L195.39,345.70 L195.97,345.70 L196.54,345.70 L197.12,345.70 L197.70,345.70 L198.28,345.70 L198.85,345.70 L199.43,345.70 L200.01,345.70 L200.59,345.70 L201.16,345.70 L201.74,345.70 L202.32,345.70 L202.89,345.70 L203.47,345.70 L204.05,345.70 L204.63,345.70 L205.20,345.70 L205.78,345.70 L206.36,345.70 L206.94,345.70 L207.51,345.70 L208.09,345.70 L208.67,345.70 L209.25,345.70 L209.82,345.70 L210.40,345.70 L210.98,345.70 L211.56,345.70 L212.13,345.70 L212.71,345.70 L213.29,345.70 L213.87,345.70 L214.44,345.70 L215.02,345.70 L215.60,345.70 L216.18,345.70 L216.75,345.70 L217.33,345.70 L217.91,345.70 L218.49,345.70 L219.06,345.70 L219.64,345.70 L220.22,345.70 L220.80,345.70 L221.38,345.70 L221.95,345.70 L222.53,345.70 L223.11,345.70 L223.69,345.70 L224.26,345.70 L224.84,345.70 L225.42,345.70 L226.00,345.70 L226.57,345.70 L227.15,345.70 L227.73,345.70 L228.31,345.70 L228.88,345.70 L229.46,345.70 L230.04,345.70 L230.61,345.70 L231.19,345.70 L231.77,345.70 L232.35,345.70 L232.92,345.70 L233.50,345.70 L234.08,345.70 L234.66,345.70 L235.23,345.70 L235.81,345.70 L236.39,345.70 L236.97,345.70 L237.54,345.70 L238.12,345.70 L238.70,345.70" fill="none" stroke="#000" stroke-width="0.8" stroke-linejoin="round"/>
<path d="M146.30,357.10 L146.88,357.10 L147.46,357.10 L148.03,357.10 L148.61,357.10 L149.19,357.10 L149.77,357.10 L150.34,357.10 L150.92,357.10 L151.50,357.10 L152.08,357.10 L152.65,357.10 L153.23,357.10 L153.81,357.10 L154.39,357.10 L154.96,357.10 L155.54,357.10 L156.12,357.10 L156.70,357.10 L157.27,357.10 L157.85,357.10 L158.43,357.10 L159.00,357.10 L159.58,357.10 L160.16,357.10 L160.74,357.10 L161.31,357.09 L161.89,357.09 L162.47,357.09 L163.05,357.08 L163.62,357.07 L164.20,357.05 L164.78,357.03 L165.36,357.00 L165.94,356.96 L166.51,356.91 L167.09,356.84 L167.67,356.75 L168.25,356.63 L168.82,356.48 L169.40,356.29 L169.98,356.06 L170.56,355.79 L171.13,355.47 L171.71,355.10 L172.29,354.68 L172.87,354.20 L173.44,353.66 L174.02,353.07 L174.60,352.43 L175.18,351.72 L175.75,350.97 L176.33,350.16 L176.91,349.30 L177.49,348.39 L178.06,347.43 L178.64,346.43 L179.22,345.40 L179.80,344.34 L180.37,343.28 L180.95,342.22 L181.53,341.19 L182.11,340.21 L182.68,339.30 L183.26,338.48 L183.84,337.79 L184.42,337.23 L184.99,336.83 L185.57,336.59 L186.15,336.54 L186.72,336.72 L187.30,337.16 L187.88,337.84 L188.46,338.74 L189.03,339.84 L189.61,341.08 L190.19,342.43 L190.77,343.84 L191.34,345.27 L191.92,346.69 L192.50,348.06 L193.08,349.36 L193.66,350.55 L194.23,351.64 L194.81,352.60 L195.39,353.45 L195.97,354.17 L196.54,354.78 L197.12,355.29 L197.70,355.71 L198.28,356.04 L198.85,356.31 L199.43,356.51 L200.01,356.67 L200.59,356.79 L201.16,356.88 L201.74,356.95 L202.32,356.99 L202.89,357.03 L203.47,357.05 L204.05,357.07 L204.63,357.08 L205.20,357.09 L205.78,357.09 L206.36,357.09 L206.94,357.10 L207.51,357.10 L208.09,357.10 L208.67,357.10 L209.25,357.10 L209.82,357.10 L210.40,357.10 L210.98,357.10 L211.56,357.10 L212.13,357.10 L212.71,357.10 L213.29,357.10 L213.87,357.10 L214.44,357.10 L215.02,357.10 L215.60,357.10 L216.18,357.10 L216.75,357.10 L217.33,357.10 L217.91,357.10 L218.49,357.10 L219.06,357.10 L219.64,357.10 L220.22,357.10 L220.80,357.10 L221.38,357.10 L221.95,357.10 L222.53,357.10 L223.11,357.10 L223.69,357.10 L224.26,357.10 L224.84,357.10 L225.42,357.10 L226.00,357.10 L226.57,357.10 L227.15,357.10 L227.73,357.10 L228.31,357.10 L228.88,357.10 L229.46,357.10 L230.04,357.10 L230.61,357.10 L231.19,357.10 L231.77,357.10 L232.35,357.10 L232.92,357.10 L233.50,357.10 L234.08,357.10 L234.66,357.10 L235.23,357.10 L235.81,357.10 L236.39,357.10 L236.97,357.10 L237.54,357.10 L238.12,357.10 L238.70,357.10 L238.70,357.10 L146.30,357.10 Z" fill="#6e6e6e" stroke="none"/>
<path d="M146.30,357.10 L146.88,357.10 L147.46,357.10 L148.03,357.10 L148.61,357.10 L149.19,357.10 L149.77,357.10 L150.34,357.10 L150.92,357.10 L151.50,357.10 L152.08,357.10 L152.65,357.10 L153.23,357.10 L153.81,357.10 L154.39,357.10 L154.96,357.10 L155.54,357.10 L156.12,357.10 L156.70,357.10 L157.27,357.10 L157.85,357.10 L158.43,357.10 L159.00,357.10 L159.58,357.10 L160.16,357.10 L160.74,357.10 L161.31,357.09 L161.89,357.09 L162.47,357.09 L163.05,357.08 L163.62,357.07 L164.20,357.05 L164.78,357.03 L165.36,357.00 L165.94,356.96 L166.51,356.91 L167.09,356.84 L167.67,356.75 L168.25,356.63 L168.82,356.48 L169.40,356.29 L169.98,356.06 L170.56,355.79 L171.13,355.47 L171.71,355.10 L172.29,354.68 L172.87,354.20 L173.44,353.66 L174.02,353.07 L174.60,352.43 L175.18,351.72 L175.75,350.97 L176.33,350.16 L176.91,349.30 L177.49,348.39 L178.06,347.43 L178.64,346.43 L179.22,345.40 L179.80,344.34 L180.37,343.28 L180.95,342.22 L181.53,341.19 L182.11,340.21 L182.68,339.30 L183.26,338.48 L183.84,337.79 L184.42,337.23 L184.99,336.83 L185.57,336.59 L186.15,336.54 L186.72,336.72 L187.30,337.16 L187.88,337.84 L188.46,338.74 L189.03,339.84 L189.61,341.08 L190.19,342.43 L190.77,343.84 L191.34,345.27 L191.92,346.69 L192.50,348.06 L193.08,349.36 L193.66,350.55 L194.23,351.64 L194.81,352.60 L195.39,353.45 L195.97,354.17 L196.54,354.78 L197.12,355.29 L197.70,355.71 L198.28,356.04 L198.85,356.31 L199.43,356.51 L200.01,356.67 L200.59,356.79 L201.16,356.88 L201.74,356.95 L202.32,356.99 L202.89,357.03 L203.47,357.05 L204.05,357.07 L204.63,357.08 L205.20,357.09 L205.78,357.09 L206.36,357.09 L206.94,357.10 L207.51,357.10 L208.09,357.10 L208.67,357.10 L209.25,357.10 L209.82,357.10 L210.40,357.10 L210.98,357.10 L211.56,357.10 L212.13,357.10 L212.71,357.10 L213.29,357.10 L213.87,357.10 L214.44,357.10 L215.02,357.10 L215.60,357.10 L216.18,357.10 L216.75,357.10 L217.33,357.10 L217.91,357.10 L218.49,357.10 L219.06,357.10 L219.64,357.10 L220.22,357.10 L220.80,357.10 L221.38,357.10 L221.95,357.10 L222.53,357.10 L223.11,357.10 L223.69,357.10 L224.26,357.10 L224.84,357.10 L225.42,357.10 L226.00,357.10 L226.57,357.10 L227.15,357.10 L227.73,357.10 L228.31,357.10 L228.88,357.10 L229.46,357.10 L230.04,357.10 L230.61,357.10 L231.19,357.10 L231.77,357.10 L232.35,357.10 L232.92,357.10 L233.50,357.10 L234.08,357.10 L234.66,357.10 L235.23,357.10 L235.81,357.10 L236.39,357.10 L236.97,357.10 L237.54,357.10 L238.12,357.10 L238.70,357.10" fill="none" stroke="#000" stroke-width="0.8" stroke-linejoin="round"/>
<path d="M146.30,368.40 L146.88,368.40 L147.46,368.40 L148.03,368.40 L148.61,368.40 L149.19,368.40 L149.77,368.40 L150.34,368.40 L150.92,368.40 L151.50,368.39 L152.08,368.39 L152.65,368.39 L153.23,368.38 L153.81,368.37 L154.39,368.35 L154.96,368.33 L155.54,368.29 L156.12,368.25 L156.70,368.18 L157.27,368.10 L157.85,367.98 L158.43,367.82 L159.00,367.62 L159.58,367.37 L160.16,367.04 L160.74,366.64 L161.31,366.14 L161.89,365.55 L162.47,364.85 L163.05,364.04 L163.62,363.11 L164.20,362.06 L164.78,360.92 L165.36,359.68 L165.94,358.37 L166.51,357.02 L167.09,355.65 L167.67,354.31 L168.25,353.04 L168.82,351.87 L169.40,350.85 L169.98,350.02 L170.56,349.39 L171.13,349.01 L171.71,348.87 L172.29,349.00 L172.87,349.43 L173.44,350.11 L174.02,351.02 L174.60,352.11 L175.18,353.33 L175.75,354.62 L176.33,355.94 L176.91,357.24 L177.49,358.50 L178.06,359.69 L178.64,360.80 L179.22,361.82 L179.80,362.76 L180.37,363.61 L180.95,364.39 L181.53,365.09 L182.11,365.72 L182.68,366.27 L183.26,366.74 L183.84,367.14 L184.42,367.46 L184.99,367.72 L185.57,367.93 L186.15,368.08 L186.72,368.18 L187.30,368.26 L187.88,368.31 L188.46,368.35 L189.03,368.37 L189.61,368.38 L190.19,368.39 L190.77,368.39 L191.34,368.40 L191.92,368.40 L192.50,368.40 L193.08,368.40 L193.66,368.40 L194.23,368.40 L194.81,368.40 L195.39,368.40 L195.97,368.40 L196.54,368.40 L197.12,368.40 L197.70,368.40 L198.28,368.40 L198.85,368.40 L199.43,368.40 L200.01,368.40 L200.59,368.40 L201.16,368.40 L201.74,368.40 L202.32,368.40 L202.89,368.40 L203.47,368.40 L204.05,368.40 L204.63,368.40 L205.20,368.40 L205.78,368.40 L206.36,368.40 L206.94,368.40 L207.51,368.40 L208.09,368.40 L208.67,368.40 L209.25,368.40 L209.82,368.40 L210.40,368.40 L210.98,368.40 L211.56,368.40 L212.13,368.40 L212.71,368.40 L213.29,368.40 L213.87,368.40 L214.44,368.40 L215.02,368.40 L215.60,368.40 L216.18,368.40 L216.75,368.40 L217.33,368.40 L217.91,368.40 L218.49,368.40 L219.06,368.40 L219.64,368.40 L220.22,368.40 L220.80,368.40 L221.38,368.40 L221.95,368.40 L222.53,368.40 L223.11,368.40 L223.69,368.40 L224.26,368.40 L224.84,368.40 L225.42,368.40 L226.00,368.40 L226.57,368.40 L227.15,368.40 L227.73,368.40 L228.31,368.40 L228.88,368.40 L229.46,368.40 L230.04,368.40 L230.61,368.40 L231.19,368.40 L231.77,368.40 L232.35,368.40 L232.92,368.40 L233.50,368.40 L234.08,368.40 L234.66,368.40 L235.23,368.40 L235.81,368.40 L236.39,368.40 L236.97,368.40 L237.54,368.40 L238.12,368.40 L238.70,368.40 L238.70,368.40 L146.30,368.40 Z" fill="#5c1f9c" stroke="none"/>
<path d="M146.30,368.40 L146.88,368.40 L147.46,368.40 L148.03,368.40 L148.61,368.40 L149.19,368.40 L149.77,368.40 L150.34,368.40 L150.92,368.40 L151.50,368.39 L152.08,368.39 L152.65,368.39 L153.23,368.38 L153.81,368.37 L154.39,368.35 L154.96,368.33 L155.54,368.29 L156.12,368.25 L156.70,368.18 L157.27,368.10 L157.85,367.98 L158.43,367.82 L159.00,367.62 L159.58,367.37 L160.16,367.04 L160.74,366.64 L161.31,366.14 L161.89,365.55 L162.47,364.85 L163.05,364.04 L163.62,363.11 L164.20,362.06 L164.78,360.92 L165.36,359.68 L165.94,358.37 L166.51,357.02 L167.09,355.65 L167.67,354.31 L168.25,353.04 L168.82,351.87 L169.40,350.85 L169.98,350.02 L170.56,349.39 L171.13,349.01 L171.71,348.87 L172.29,349.00 L172.87,349.43 L173.44,350.11 L174.02,351.02 L174.60,352.11 L175.18,353.33 L175.75,354.62 L176.33,355.94 L176.91,357.24 L177.49,358.50 L178.06,359.69 L178.64,360.80 L179.22,361.82 L179.80,362.76 L180.37,363.61 L180.95,364.39 L181.53,365.09 L182.11,365.72 L182.68,366.27 L183.26,366.74 L183.84,367.14 L184.42,367.46 L184.99,367.72 L185.57,367.93 L186.15,368.08 L186.72,368.18 L187.30,368.26 L187.88,368.31 L188.46,368.35 L189.03,368.37 L189.61,368.38 L190.19,368.39 L190.77,368.39 L191.34,368.40 L191.92,368.40 L192.50,368.40 L193.08,368.40 L193.66,368.40 L194.23,368.40 L194.81,368.40 L195.39,368.40 L195.97,368.40 L196.54,368.40 L197.12,368.40 L197.70,368.40 L198.28,368.40 L198.85,368.40 L199.43,368.40 L200.01,368.40 L200.59,368.40 L201.16,368.40 L201.74,368.40 L202.32,368.40 L202.89,368.40 L203.47,368.40 L204.05,368.40 L204.63,368.40 L205.20,368.40 L205.78,368.40 L206.36,368.40 L206.94,368.40 L207.51,368.40 L208.09,368.40 L208.67,368.40 L209.25,368.40 L209.82,368.40 L210.40,368.40 L210.98,368.40 L211.56,368.40 L212.13,368.40 L212.71,368.40 L213.29,368.40 L213.87,368.40 L214.44,368.40 L215.02,368.40 L215.60,368.40 L216.18,368.40 L216.75,368.40 L217.33,368.40 L217.91,368.40 L218.49,368.40 L219.06,368.40 L219.64,368.40 L220.22,368.40 L220.80,368.40 L221.38,368.40 L221.95,368.40 L222.53,368.40 L223.11,368.40 L223.69,368.40 L224.26,368.40 L224.84,368.40 L225.42,368.40 L226.00,368.40 L226.57,368.40 L227.15,368.40 L227.73,368.40 L228.31,368.40 L228.88,368.40 L229.46,368.40 L230.04,368.40 L230.61,368.40 L231.19,368.40 L231.77,368.40 L232.35,368.40 L232.92,368.40 L233.50,368.40 L234.08,368.40 L234.66,368.40 L235.23,368.40 L235.81,368.40 L236.39,368.40 L236.97,368.40 L237.54,368.40 L238.12,368.40 L238.70,368.40" fill="none" stroke="#000" stroke-width="0.8" stroke-linejoin="round"/>
<path d="M146.30,379.70 L146.88,379.70 L147.46,379.70 L148.03,379.70 L148.61,379.70 L149.19,379.70 L149.77,379.70 L150.34,379.70 L150.92,379.70 L151.50,379.70 L152.08,379.70 L152.65,379.70 L153.23,379.70 L153.81,379.69 L154.39,379.69 L154.96,379.69 L155.54,379.68 L156.12,379.67 L156.70,379.66 L157.27,379.65 L157.85,379.63 L158.43,379.60 L159.00,379.57 L159.58,379.52 L160.16,379.46 L160.74,379.38 L161.31,379.28 L161.89,379.16 L162.47,379.00 L163.05,378.80 L163.62,378.57 L164.20,378.28 L164.78,377.93 L165.36,377.53 L165.94,377.05 L166.51,376.50 L167.09,375.87 L167.67,375.16 L168.25,374.37 L168.82,373.49 L169.40,372.54 L169.98,371.52 L170.56,370.44 L171.13,369.31 L171.71,368.16 L172.29,366.99 L172.87,365.83 L173.44,364.71 L174.02,363.65 L174.60,362.67 L175.18,361.80 L175.75,361.06 L176.33,360.46 L176.91,360.03 L177.49,359.77 L178.06,359.70 L178.64,359.88 L179.22,360.33 L179.80,361.05 L180.37,362.00 L180.95,363.14 L181.53,364.43 L182.11,365.83 L182.68,367.27 L183.26,368.73 L183.84,370.15 L184.42,371.51 L184.99,372.78 L185.57,373.93 L186.15,374.96 L186.72,375.87 L187.30,376.64 L187.88,377.30 L188.46,377.84 L189.03,378.28 L189.61,378.63 L190.19,378.90 L190.77,379.12 L191.34,379.28 L191.92,379.40 L192.50,379.49 L193.08,379.56 L193.66,379.60 L194.23,379.63 L194.81,379.66 L195.39,379.67 L195.97,379.68 L196.54,379.69 L197.12,379.69 L197.70,379.70 L198.28,379.70 L198.85,379.70 L199.43,379.70 L200.01,379.70 L200.59,379.70 L201.16,379.70 L201.74,379.70 L202.32,379.70 L202.89,379.70 L203.47,379.70 L204.05,379.70 L204.63,379.70 L205.20,379.70 L205.78,379.70 L206.36,379.70 L206.94,379.70 L207.51,379.70 L208.09,379.70 L208.67,379.70 L209.25,379.70 L209.82,379.70 L210.40,379.70 L210.98,379.70 L211.56,379.70 L212.13,379.70 L212.71,379.70 L213.29,379.70 L213.87,379.70 L214.44,379.70 L215.02,379.70 L215.60,379.70 L216.18,379.70 L216.75,379.70 L217.33,379.70 L217.91,379.70 L218.49,379.70 L219.06,379.70 L219.64,379.70 L220.22,379.70 L220.80,379.70 L221.38,379.70 L221.95,379.70 L222.53,379.70 L223.11,379.70 L223.69,379.70 L224.26,379.70 L224.84,379.70 L225.42,379.70 L226.00,379.70 L226.57,379.70 L227.15,379.70 L227.73,379.70 L228.31,379.70 L228.88,379.70 L229.46,379.70 L230.04,379.70 L230.61,379.70 L231.19,379.70 L231.77,379.70 L232.35,379.70 L232.92,379.70 L233.50,379.70 L234.08,379.70 L234.66,379.70 L235.23,379.70 L235.81,379.70 L236.39,379.70 L236.97,379.70 L237.54,379.70 L238.12,379.70 L238.70,379.70 L238.70,379.70 L146.30,379.70 Z" fill="#9a9a9a" stroke="none"/>
<path d="M146.30,379.70 L146.88,379.70 L147.46,379.70 L148.03,379.70 L148.61,379.70 L149.19,379.70 L149.77,379.70 L150.34,379.70 L150.92,379.70 L151.50,379.70 L152.08,379.70 L152.65,379.70 L153.23,379.70 L153.81,379.69 L154.39,379.69 L154.96,379.69 L155.54,379.68 L156.12,379.67 L156.70,379.66 L157.27,379.65 L157.85,379.63 L158.43,379.60 L159.00,379.57 L159.58,379.52 L160.16,379.46 L160.74,379.38 L161.31,379.28 L161.89,379.16 L162.47,379.00 L163.05,378.80 L163.62,378.57 L164.20,378.28 L164.78,377.93 L165.36,377.53 L165.94,377.05 L166.51,376.50 L167.09,375.87 L167.67,375.16 L168.25,374.37 L168.82,373.49 L169.40,372.54 L169.98,371.52 L170.56,370.44 L171.13,369.31 L171.71,368.16 L172.29,366.99 L172.87,365.83 L173.44,364.71 L174.02,363.65 L174.60,362.67 L175.18,361.80 L175.75,361.06 L176.33,360.46 L176.91,360.03 L177.49,359.77 L178.06,359.70 L178.64,359.88 L179.22,360.33 L179.80,361.05 L180.37,362.00 L180.95,363.14 L181.53,364.43 L182.11,365.83 L182.68,367.27 L183.26,368.73 L183.84,370.15 L184.42,371.51 L184.99,372.78 L185.57,373.93 L186.15,374.96 L186.72,375.87 L187.30,376.64 L187.88,377.30 L188.46,377.84 L189.03,378.28 L189.61,378.63 L190.19,378.90 L190.77,379.12 L191.34,379.28 L191.92,379.40 L192.50,379.49 L193.08,379.56 L193.66,379.60 L194.23,379.63 L194.81,379.66 L195.39,379.67 L195.97,379.68 L196.54,379.69 L197.12,379.69 L197.70,379.70 L198.28,379.70 L198.85,379.70 L199.43,379.70 L200.01,379.70 L200.59,379.70 L201.16,379.70 L201.74,379.70 L202.32,379.70 L202.89,379.70 L203.47,379.70 L204.05,379.70 L204.63,379.70 L205.20,379.70 L205.78,379.70 L206.36,379.70 L206.94,379.70 L207.51,379.70 L208.09,379.70 L208.67,379.70 L209.25,379.70 L209.82,379.70 L210.40,379.70 L210.98,379.70 L211.56,379.70 L212.13,379.70 L212.71,379.70 L213.29,379.70 L213.87,379.70 L214.44,379.70 L215.02,379.70 L215.60,379.70 L216.18,379.70 L216.75,379.70 L217.33,379.70 L217.91,379.70 L218.49,379.70 L219.06,379.70 L219.64,379.70 L220.22,379.70 L220.80,379.70 L221.38,379.70 L221.95,379.70 L222.53,379.70 L223.11,379.70 L223.69,379.70 L224.26,379.70 L224.84,379.70 L225.42,379.70 L226.00,379.70 L226.57,379.70 L227.15,379.70 L227.73,379.70 L228.31,379.70 L228.88,379.70 L229.46,379.70 L230.04,379.70 L230.61,379.70 L231.19,379.70 L231.77,379.70 L232.35,379.70 L232.92,379.70 L233.50,379.70 L234.08,379.70 L234.66,379.70 L235.23,379.70 L235.81,379.70 L236.39,379.70 L236.97,379.70 L237.54,379.70 L238.12,379.70 L238.70,379.70" fill="none" stroke="#000" stroke-width="0.8" stroke-linejoin="round"/>
<path d="M146.30,391.00 L146.88,391.00 L147.46,391.00 L148.03,391.00 L148.61,391.00 L149.19,391.00 L149.77,391.00 L150.34,391.00 L150.92,391.00 L151.50,391.00 L152.08,391.00 L152.65,391.00 L153.23,391.00 L153.81,391.00 L154.39,391.00 L154.96,391.00 L155.54,391.00 L156.12,391.00 L156.70,391.00 L157.27,391.00 L157.85,391.00 L158.43,391.00 L159.00,391.00 L159.58,391.00 L160.16,391.00 L160.74,391.00 L161.31,391.00 L161.89,391.00 L162.47,391.00 L163.05,390.99 L163.62,390.99 L164.20,390.98 L164.78,390.98 L165.36,390.97 L165.94,390.95 L166.51,390.94 L167.09,390.91 L167.67,390.88 L168.25,390.83 L168.82,390.77 L169.40,390.69 L169.98,390.59 L170.56,390.47 L171.13,390.31 L171.71,390.11 L172.29,389.86 L172.87,389.56 L173.44,389.21 L174.02,388.78 L174.60,388.29 L175.18,387.71 L175.75,387.05 L176.33,386.30 L176.91,385.47 L177.49,384.56 L178.06,383.57 L178.64,382.52 L179.22,381.41 L179.80,380.26 L180.37,379.09 L180.95,377.92 L181.53,376.78 L182.11,375.70 L182.68,374.69 L183.26,373.79 L183.84,373.02 L184.42,372.40 L184.99,371.95 L185.57,371.68 L186.15,371.60 L186.72,371.74 L187.30,372.11 L187.88,372.70 L188.46,373.49 L189.03,374.46 L189.61,375.56 L190.19,376.76 L190.77,378.03 L191.34,379.34 L191.92,380.64 L192.50,381.90 L193.08,383.11 L193.66,384.25 L194.23,385.29 L194.81,386.23 L195.39,387.06 L195.97,387.79 L196.54,388.42 L197.12,388.95 L197.70,389.39 L198.28,389.75 L198.85,390.04 L199.43,390.27 L200.01,390.46 L200.59,390.60 L201.16,390.71 L201.74,390.79 L202.32,390.85 L202.89,390.89 L203.47,390.93 L204.05,390.95 L204.63,390.97 L205.20,390.98 L205.78,390.98 L206.36,390.99 L206.94,390.99 L207.51,391.00 L208.09,391.00 L208.67,391.00 L209.25,391.00 L209.82,391.00 L210.40,391.00 L210.98,391.00 L211.56,391.00 L212.13,391.00 L212.71,391.00 L213.29,391.00 L213.87,391.00 L214.44,391.00 L215.02,391.00 L215.60,391.00 L216.18,391.00 L216.75,391.00 L217.33,391.00 L217.91,391.00 L218.49,391.00 L219.06,391.00 L219.64,391.00 L220.22,391.00 L220.80,391.00 L221.38,391.00 L221.95,391.00 L222.53,391.00 L223.11,391.00 L223.69,391.00 L224.26,391.00 L224.84,391.00 L225.42,391.00 L226.00,391.00 L226.57,391.00 L227.15,391.00 L227.73,391.00 L228.31,391.00 L228.88,391.00 L229.46,391.00 L230.04,391.00 L230.61,391.00 L231.19,391.00 L231.77,391.00 L232.35,391.00 L232.92,391.00 L233.50,391.00 L234.08,391.00 L234.66,391.00 L235.23,391.00 L235.81,391.00 L236.39,391.00 L236.97,391.00 L237.54,391.00 L238.12,391.00 L238.70,391.00 L238.70,391.00 L146.30,391.00 Z" fill="#5c1f9c" stroke="none"/>
<path d="M146.30,391.00 L146.88,391.00 L147.46,391.00 L148.03,391.00 L148.61,391.00 L149.19,391.00 L149.77,391.00 L150.34,391.00 L150.92,391.00 L151.50,391.00 L152.08,391.00 L152.65,391.00 L153.23,391.00 L153.81,391.00 L154.39,391.00 L154.96,391.00 L155.54,391.00 L156.12,391.00 L156.70,391.00 L157.27,391.00 L157.85,391.00 L158.43,391.00 L159.00,391.00 L159.58,391.00 L160.16,391.00 L160.74,391.00 L161.31,391.00 L161.89,391.00 L162.47,391.00 L163.05,390.99 L163.62,390.99 L164.20,390.98 L164.78,390.98 L165.36,390.97 L165.94,390.95 L166.51,390.94 L167.09,390.91 L167.67,390.88 L168.25,390.83 L168.82,390.77 L169.40,390.69 L169.98,390.59 L170.56,390.47 L171.13,390.31 L171.71,390.11 L172.29,389.86 L172.87,389.56 L173.44,389.21 L174.02,388.78 L174.60,388.29 L175.18,387.71 L175.75,387.05 L176.33,386.30 L176.91,385.47 L177.49,384.56 L178.06,383.57 L178.64,382.52 L179.22,381.41 L179.80,380.26 L180.37,379.09 L180.95,377.92 L181.53,376.78 L182.11,375.70 L182.68,374.69 L183.26,373.79 L183.84,373.02 L184.42,372.40 L184.99,371.95 L185.57,371.68 L186.15,371.60 L186.72,371.74 L187.30,372.11 L187.88,372.70 L188.46,373.49 L189.03,374.46 L189.61,375.56 L190.19,376.76 L190.77,378.03 L191.34,379.34 L191.92,380.64 L192.50,381.90 L193.08,383.11 L193.66,384.25 L194.23,385.29 L194.81,386.23 L195.39,387.06 L195.97,387.79 L196.54,388.42 L197.12,388.95 L197.70,389.39 L198.28,389.75 L198.85,390.04 L199.43,390.27 L200.01,390.46 L200.59,390.60 L201.16,390.71 L201.74,390.79 L202.32,390.85 L202.89,390.89 L203.47,390.93 L204.05,390.95 L204.63,390.97 L205.20,390.98 L205.78,390.98 L206.36,390.99 L206.94,390.99 L207.51,391.00 L208.09,391.00 L208.67,391.00 L209.25,391.00 L209.82,391.00 L210.40,391.00 L210.98,391.00 L211.56,391.00 L212.13,391.00 L212.71,391.00 L213.29,391.00 L213.87,391.00 L214.44,391.00 L215.02,391.00 L215.60,391.00 L216.18,391.00 L216.75,391.00 L217.33,391.00 L217.91,391.00 L218.49,391.00 L219.06,391.00 L219.64,391.00 L220.22,391.00 L220.80,391.00 L221.38,391.00 L221.95,391.00 L222.53,391.00 L223.11,391.00 L223.69,391.00 L224.26,391.00 L224.84,391.00 L225.42,391.00 L226.00,391.00 L226.57,391.00 L227.15,391.00 L227.73,391.00 L228.31,391.00 L228.88,391.00 L229.46,391.00 L230.04,391.00 L230.61,391.00 L231.19,391.00 L231.77,391.00 L232.35,391.00 L232.92,391.00 L233.50,391.00 L234.08,391.00 L234.66,391.00 L235.23,391.00 L235.81,391.00 L236.39,391.00 L236.97,391.00 L237.54,391.00 L238.12,391.00 L238.70,391.00" fill="none" stroke="#000" stroke-width="0.8" stroke-linejoin="round"/>
<path d="M146.30,402.40 L146.88,402.40 L147.46,402.40 L148.03,402.40 L148.61,402.40 L149.19,402.40 L149.77,402.39 L150.34,402.39 L150.92,402.38 L151.50,402.37 L152.08,402.36 L152.65,402.34 L153.23,402.30 L153.81,402.26 L154.39,402.19 L154.96,402.09 L155.54,401.96 L156.12,401.78 L156.70,401.55 L157.27,401.24 L157.85,400.84 L158.43,400.34 L159.00,399.73 L159.58,398.98 L160.16,398.10 L160.74,397.07 L161.31,395.90 L161.89,394.59 L162.47,393.17 L163.05,391.67 L163.62,390.11 L164.20,388.55 L164.78,387.03 L165.36,385.61 L165.94,384.35 L166.51,383.30 L167.09,382.50 L167.67,381.99 L168.25,381.80 L168.82,381.93 L169.40,382.38 L169.98,383.13 L170.56,384.13 L171.13,385.36 L171.71,386.75 L172.29,388.25 L172.87,389.81 L173.44,391.37 L174.02,392.89 L174.60,394.33 L175.18,395.66 L175.75,396.85 L176.33,397.91 L176.91,398.82 L177.49,399.59 L178.06,400.23 L178.64,400.75 L179.22,401.17 L179.80,401.49 L180.37,401.74 L180.95,401.93 L181.53,402.07 L182.11,402.17 L182.68,402.24 L183.26,402.30 L183.84,402.33 L184.42,402.36 L184.99,402.37 L185.57,402.38 L186.15,402.39 L186.72,402.39 L187.30,402.40 L187.88,402.40 L188.46,402.40 L189.03,402.40 L189.61,402.40 L190.19,402.40 L190.77,402.40 L191.34,402.40 L191.92,402.40 L192.50,402.40 L193.08,402.40 L193.66,402.40 L194.23,402.40 L194.81,402.40 L195.39,402.40 L195.97,402.40 L196.54,402.40 L197.12,402.40 L197.70,402.40 L198.28,402.40 L198.85,402.40 L199.43,402.40 L200.01,402.40 L200.59,402.40 L201.16,402.40 L201.74,402.40 L202.32,402.40 L202.89,402.40 L203.47,402.40 L204.05,402.40 L204.63,402.40 L205.20,402.40 L205.78,402.40 L206.36,402.40 L206.94,402.40 L207.51,402.40 L208.09,402.40 L208.67,402.40 L209.25,402.40 L209.82,402.40 L210.40,402.40 L210.98,402.40 L211.56,402.40 L212.13,402.40 L212.71,402.40 L213.29,402.40 L213.87,402.40 L214.44,402.40 L215.02,402.40 L215.60,402.40 L216.18,402.40 L216.75,402.40 L217.33,402.40 L217.91,402.40 L218.49,402.40 L219.06,402.40 L219.64,402.40 L220.22,402.40 L220.80,402.40 L221.38,402.40 L221.95,402.40 L222.53,402.40 L223.11,402.40 L223.69,402.40 L224.26,402.40 L224.84,402.40 L225.42,402.40 L226.00,402.40 L226.57,402.40 L227.15,402.40 L227.73,402.40 L228.31,402.40 L228.88,402.40 L229.46,402.40 L230.04,402.40 L230.61,402.40 L231.19,402.40 L231.77,402.40 L232.35,402.40 L232.92,402.40 L233.50,402.40 L234.08,402.40 L234.66,402.40 L235.23,402.40 L235.81,402.40 L236.39,402.40 L236.97,402.40 L237.54,402.40 L238.12,402.40 L238.70,402.40 L238.70,402.40 L146.30,402.40 Z" fill="#9a9a9a" stroke="none"/>
<path d="M146.30,402.40 L146.88,402.40 L147.46,402.40 L148.03,402.40 L148.61,402.40 L149.19,402.40 L149.77,402.39 L150.34,402.39 L150.92,402.38 L151.50,402.37 L152.08,402.36 L152.65,402.34 L153.23,402.30 L153.81,402.26 L154.39,402.19 L154.96,402.09 L155.54,401.96 L156.12,401.78 L156.70,401.55 L157.27,401.24 L157.85,400.84 L158.43,400.34 L159.00,399.73 L159.58,398.98 L160.16,398.10 L160.74,397.07 L161.31,395.90 L161.89,394.59 L162.47,393.17 L163.05,391.67 L163.62,390.11 L164.20,388.55 L164.78,387.03 L165.36,385.61 L165.94,384.35 L166.51,383.30 L167.09,382.50 L167.67,381.99 L168.25,381.80 L168.82,381.93 L169.40,382.38 L169.98,383.13 L170.56,384.13 L171.13,385.36 L171.71,386.75 L172.29,388.25 L172.87,389.81 L173.44,391.37 L174.02,392.89 L174.60,394.33 L175.18,395.66 L175.75,396.85 L176.33,397.91 L176.91,398.82 L177.49,399.59 L178.06,400.23 L178.64,400.75 L179.22,401.17 L179.80,401.49 L180.37,401.74 L180.95,401.93 L181.53,402.07 L182.11,402.17 L182.68,402.24 L183.26,402.30 L183.84,402.33 L184.42,402.36 L184.99,402.37 L185.57,402.38 L186.15,402.39 L186.72,402.39 L187.30,402.40 L187.88,402.40 L188.46,402.40 L189.03,402.40 L189.61,402.40 L190.19,402.40 L190.77,402.40 L191.34,402.40 L191.92,402.40 L192.50,402.40 L193.08,402.40 L193.66,402.40 L194.23,402.40 L194.81,402.40 L195.39,402.40 L195.97,402.40 L196.54,402.40 L197.12,402.40 L197.70,402.40 L198.28,402.40 L198.85,402.40 L199.43,402.40 L200.01,402.40 L200.59,402.40 L201.16,402.40 L201.74,402.40 L202.32,402.40 L202.89,402.40 L203.47,402.40 L204.05,402.40 L204.63,402.40 L205.20,402.40 L205.78,402.40 L206.36,402.40 L206.94,402.40 L207.51,402.40 L208.09,402.40 L208.67,402.40 L209.25,402.40 L209.82,402.40 L210.40,402.40 L210.98,402.40 L211.56,402.40 L212.13,402.40 L212.71,402.40 L213.29,402.40 L213.87,402.40 L214.44,402.40 L215.02,402.40 L215.60,402.40 L216.18,402.40 L216.75,402.40 L217.33,402.40 L217.91,402.40 L218.49,402.40 L219.06,402.40 L219.64,402.40 L220.22,402.40 L220.80,402.40 L221.38,402.40 L221.95,402.40 L222.53,402.40 L223.11,402.40 L223.69,402.40 L224.26,402.40 L224.84,402.40 L225.42,402.40 L226.00,402.40 L226.57,402.40 L227.15,402.40 L227.73,402.40 L228.31,402.40 L228.88,402.40 L229.46,402.40 L230.04,402.40 L230.61,402.40 L231.19,402.40 L231.77,402.40 L232.35,402.40 L232.92,402.40 L233.50,402.40 L234.08,402.40 L234.66,402.40 L235.23,402.40 L235.81,402.40 L236.39,402.40 L236.97,402.40 L237.54,402.40 L238.12,402.40 L238.70,402.40" fill="none" stroke="#000" stroke-width="0.8" stroke-linejoin="round"/>
<path d="M146.30,414.00 L146.88,414.00 L147.46,414.00 L148.03,414.00 L148.61,414.00 L149.19,414.00 L149.77,414.00 L150.34,414.00 L150.92,414.00 L151.50,414.00 L152.08,414.00 L152.65,414.00 L153.23,414.00 L153.81,414.00 L154.39,414.00 L154.96,414.00 L155.54,413.99 L156.12,413.99 L156.70,413.99 L157.27,413.98 L157.85,413.98 L158.43,413.97 L159.00,413.96 L159.58,413.94 L160.16,413.92 L160.74,413.90 L161.31,413.87 L161.89,413.83 L162.47,413.79 L163.05,413.73 L163.62,413.67 L164.20,413.59 L164.78,413.50 L165.36,413.39 L165.94,413.27 L166.51,413.13 L167.09,412.97 L167.67,412.80 L168.25,412.60 L168.82,412.39 L169.40,412.17 L169.98,411.93 L170.56,411.67 L171.13,411.40 L171.71,411.11 L172.29,410.81 L172.87,410.50 L173.44,410.16 L174.02,409.81 L174.60,409.43 L175.18,409.02 L175.75,408.57 L176.33,408.08 L176.91,407.52 L177.49,406.91 L178.06,406.22 L178.64,405.45 L179.22,404.61 L179.80,403.68 L180.37,402.69 L180.95,401.64 L181.53,400.55 L182.11,399.45 L182.68,398.36 L183.26,397.32 L183.84,396.35 L184.42,395.51 L184.99,394.82 L185.57,394.32 L186.15,394.02 L186.72,393.95 L187.30,394.13 L187.88,394.60 L188.46,395.37 L189.03,396.39 L189.61,397.63 L190.19,399.03 L190.77,400.54 L191.34,402.10 L191.92,403.66 L192.50,405.16 L193.08,406.57 L193.66,407.86 L194.23,409.01 L194.81,410.02 L195.39,410.88 L195.97,411.59 L196.54,412.17 L197.12,412.64 L197.70,413.00 L198.28,413.28 L198.85,413.49 L199.43,413.64 L200.01,413.76 L200.59,413.84 L201.16,413.89 L201.74,413.93 L202.32,413.96 L202.89,413.97 L203.47,413.98 L204.05,413.99 L204.63,413.99 L205.20,414.00 L205.78,414.00 L206.36,414.00 L206.94,414.00 L207.51,414.00 L208.09,414.00 L208.67,414.00 L209.25,414.00 L209.82,414.00 L210.40,414.00 L210.98,414.00 L211.56,414.00 L212.13,414.00 L212.71,414.00 L213.29,414.00 L213.87,414.00 L214.44,414.00 L215.02,414.00 L215.60,414.00 L216.18,414.00 L216.75,414.00 L217.33,414.00 L217.91,414.00 L218.49,414.00 L219.06,414.00 L219.64,414.00 L220.22,414.00 L220.80,414.00 L221.38,414.00 L221.95,414.00 L222.53,414.00 L223.11,414.00 L223.69,414.00 L224.26,414.00 L224.84,414.00 L225.42,414.00 L226.00,414.00 L226.57,414.00 L227.15,414.00 L227.73,414.00 L228.31,414.00 L228.88,414.00 L229.46,414.00 L230.04,414.00 L230.61,414.00 L231.19,414.00 L231.77,414.00 L232.35,414.00 L232.92,414.00 L233.50,414.00 L234.08,414.00 L234.66,414.00 L235.23,414.00 L235.81,414.00 L236.39,414.00 L236.97,414.00 L237.54,414.00 L238.12,414.00 L238.70,414.00 L238.70,414.00 L146.30,414.00 Z" fill="#5c1f9c" stroke="none"/>
<path d="M146.30,414.00 L146.88,414.00 L147.46,414.00 L148.03,414.00 L148.61,414.00 L149.19,414.00 L149.77,414.00 L150.34,414.00 L150.92,414.00 L151.50,414.00 L152.08,414.00 L152.65,414.00 L153.23,414.00 L153.81,414.00 L154.39,414.00 L154.96,414.00 L155.54,413.99 L156.12,413.99 L156.70,413.99 L157.27,413.98 L157.85,413.98 L158.43,413.97 L159.00,413.96 L159.58,413.94 L160.16,413.92 L160.74,413.90 L161.31,413.87 L161.89,413.83 L162.47,413.79 L163.05,413.73 L163.62,413.67 L164.20,413.59 L164.78,413.50 L165.36,413.39 L165.94,413.27 L166.51,413.13 L167.09,412.97 L167.67,412.80 L168.25,412.60 L168.82,412.39 L169.40,412.17 L169.98,411.93 L170.56,411.67 L171.13,411.40 L171.71,411.11 L172.29,410.81 L172.87,410.50 L173.44,410.16 L174.02,409.81 L174.60,409.43 L175.18,409.02 L175.75,408.57 L176.33,408.08 L176.91,407.52 L177.49,406.91 L178.06,406.22 L178.64,405.45 L179.22,404.61 L179.80,403.68 L180.37,402.69 L180.95,401.64 L181.53,400.55 L182.11,399.45 L182.68,398.36 L183.26,397.32 L183.84,396.35 L184.42,395.51 L184.99,394.82 L185.57,394.32 L186.15,394.02 L186.72,393.95 L187.30,394.13 L187.88,394.60 L188.46,395.37 L189.03,396.39 L189.61,397.63 L190.19,399.03 L190.77,400.54 L191.34,402.10 L191.92,403.66 L192.50,405.16 L193.08,406.57 L193.66,407.86 L194.23,409.01 L194.81,410.02 L195.39,410.88 L195.97,411.59 L196.54,412.17 L197.12,412.64 L197.70,413.00 L198.28,413.28 L198.85,413.49 L199.43,413.64 L200.01,413.76 L200.59,413.84 L201.16,413.89 L201.74,413.93 L202.32,413.96 L202.89,413.97 L203.47,413.98 L204.05,413.99 L204.63,413.99 L205.20,414.00 L205.78,414.00 L206.36,414.00 L206.94,414.00 L207.51,414.00 L208.09,414.00 L208.67,414.00 L209.25,414.00 L209.82,414.00 L210.40,414.00 L210.98,414.00 L211.56,414.00 L212.13,414.00 L212.71,414.00 L213.29,414.00 L213.87,414.00 L214.44,414.00 L215.02,414.00 L215.60,414.00 L216.18,414.00 L216.75,414.00 L217.33,414.00 L217.91,414.00 L218.49,414.00 L219.06,414.00 L219.64,414.00 L220.22,414.00 L220.80,414.00 L221.38,414.00 L221.95,414.00 L222.53,414.00 L223.11,414.00 L223.69,414.00 L224.26,414.00 L224.84,414.00 L225.42,414.00 L226.00,414.00 L226.57,414.00 L227.15,414.00 L227.73,414.00 L228.31,414.00 L228.88,414.00 L229.46,414.00 L230.04,414.00 L230.61,414.00 L231.19,414.00 L231.77,414.00 L232.35,414.00 L232.92,414.00 L233.50,414.00 L234.08,414.00 L234.66,414.00 L235.23,414.00 L235.81,414.00 L236.39,414.00 L236.97,414.00 L237.54,414.00 L238.12,414.00 L238.70,414.00" fill="none" stroke="#000" stroke-width="0.8" stroke-linejoin="round"/>
<circle cx="183.2" cy="407.1" r="0.9" fill="#f03cc8" stroke="none" stroke-width="1"/>
<line x1="178.5" y1="407.3" x2="181" y2="407.3" stroke="#c050c0" stroke-width="0.5"/>
<rect x="146.3" y="322.4" width="92.39999999999998" height="91.60000000000002" fill="none" stroke="#000" stroke-width="0.9"/>
<line x1="149" y1="414" x2="149" y2="415.3" stroke="#000" stroke-width="0.6"/>
<line x1="151" y1="414" x2="151" y2="415.3" stroke="#000" stroke-width="0.6"/>
<line x1="153" y1="414" x2="153" y2="415.3" stroke="#000" stroke-width="0.6"/>
<line x1="155" y1="414" x2="155" y2="415.3" stroke="#000" stroke-width="0.6"/>
<line x1="157" y1="414" x2="157" y2="415.3" stroke="#000" stroke-width="0.6"/>
<line x1="159" y1="414" x2="159" y2="415.3" stroke="#000" stroke-width="0.6"/>
<line x1="160" y1="414" x2="160" y2="415.3" stroke="#000" stroke-width="0.6"/>
<line x1="162" y1="414" x2="162" y2="415.3" stroke="#000" stroke-width="0.6"/>
<line x1="164" y1="414" x2="164" y2="415.3" stroke="#000" stroke-width="0.6"/>
<line x1="170" y1="414" x2="170" y2="415.3" stroke="#000" stroke-width="0.6"/>
<line x1="180" y1="414" x2="180" y2="415.3" stroke="#000" stroke-width="0.6"/>
<line x1="190" y1="414" x2="190" y2="415.3" stroke="#000" stroke-width="0.6"/>
<line x1="200" y1="414" x2="200" y2="415.3" stroke="#000" stroke-width="0.6"/>
<line x1="210" y1="414" x2="210" y2="415.3" stroke="#000" stroke-width="0.6"/>
<line x1="220" y1="414" x2="220" y2="415.3" stroke="#000" stroke-width="0.6"/>
<line x1="230" y1="414" x2="230" y2="415.3" stroke="#000" stroke-width="0.6"/>
<text x="218.2" y="354" font-size="8.0" fill="#8a8a8a" text-anchor="middle" >MFI 1096</text>
<text x="218.2" y="366.3" font-size="8.0" fill="#6a2aa8" text-anchor="middle" >MFI 341</text>
<text x="218.2" y="377.7" font-size="8.0" fill="#8a8a8a" text-anchor="middle" >MFI 609</text>
<text x="218.2" y="388.7" font-size="8.0" fill="#6a2aa8" text-anchor="middle" >MFI 1013</text>
<text x="218.2" y="399.5" font-size="8.0" fill="#8a8a8a" text-anchor="middle" >MFI 268</text>
<text x="218.2" y="410" font-size="8.0" fill="#6a2aa8" text-anchor="middle" >MFI 1116</text>
<text transform="translate(142,413) rotate(-90)" font-size="7.8" fill="#000" text-anchor="start" textLength="20.5" lengthAdjust="spacingAndGlyphs" >Count</text>
<line x1="139.5" y1="391.7" x2="139.5" y2="371" stroke="#444" stroke-width="0.8"/>
<path d="M139.5,364.4 L137.0,371.3 L142.0,371.3 Z" fill="#000"/>
<text x="147.9" y="425.3" font-size="8.3" fill="#000" textLength="24.7" lengthAdjust="spacingAndGlyphs" >RORγt</text>
<line x1="175.2" y1="423.3" x2="199" y2="423.3" stroke="#000" stroke-width="0.8"/>
<path d="M203.3,423.3 L198,421.3 L198,425.3 Z" fill="#000"/>
<line x1="293.6" y1="404.1" x2="293.6" y2="328.4" stroke="#000" stroke-width="0.8"/>
<line x1="291" y1="404.1" x2="293.6" y2="404.1" stroke="#000" stroke-width="0.8"/>
<text transform="translate(290.10,406.52) scale(1.03,1)" font-size="6.9" text-anchor="end">0</text>
<line x1="291" y1="385.18" x2="293.6" y2="385.18" stroke="#000" stroke-width="0.8"/>
<text transform="translate(290.10,387.59) scale(1.03,1)" font-size="6.9" text-anchor="end">500</text>
<line x1="291" y1="366.25" x2="293.6" y2="366.25" stroke="#000" stroke-width="0.8"/>
<text transform="translate(290.10,368.67) scale(1.03,1)" font-size="6.9" text-anchor="end">1000</text>
<line x1="291" y1="347.32" x2="293.6" y2="347.32" stroke="#000" stroke-width="0.8"/>
<text transform="translate(290.10,349.74) scale(1.03,1)" font-size="6.9" text-anchor="end">1500</text>
<line x1="291" y1="328.4" x2="293.6" y2="328.4" stroke="#000" stroke-width="0.8"/>
<text transform="translate(290.10,330.81) scale(1.03,1)" font-size="6.9" text-anchor="end">2000</text>
<line x1="293.6" y1="404.1" x2="377.6" y2="404.1" stroke="#000" stroke-width="0.8"/>
<line x1="302.2" y1="404.1" x2="302.2" y2="406.3" stroke="#000" stroke-width="0.8"/>
<line x1="312.7" y1="404.1" x2="312.7" y2="406.3" stroke="#000" stroke-width="0.8"/>
<line x1="329.6" y1="404.1" x2="329.6" y2="406.3" stroke="#000" stroke-width="0.8"/>
<line x1="340.7" y1="404.1" x2="340.7" y2="406.3" stroke="#000" stroke-width="0.8"/>
<line x1="357.5" y1="404.1" x2="357.5" y2="406.3" stroke="#000" stroke-width="0.8"/>
<line x1="368.6" y1="404.1" x2="368.6" y2="406.3" stroke="#000" stroke-width="0.8"/>
<rect x="298" y="370.4" width="8.4" height="33.7" fill="#d9d9d9" stroke="#333" stroke-width="0.8"/>
<rect x="308.5" y="392.5" width="8.1" height="11.6" fill="#d480f6" stroke="#333" stroke-width="0.8"/>
<rect x="325.4" y="385.2" width="8.4" height="18.9" fill="#d9d9d9" stroke="#333" stroke-width="0.8"/>
<rect x="336.5" y="363.1" width="8.4" height="41" fill="#d480f6" stroke="#333" stroke-width="0.8"/>
<rect x="353.3" y="396.7" width="8.4" height="7.4" fill="#d9d9d9" stroke="#333" stroke-width="0.8"/>
<rect x="364.4" y="372.5" width="8.5" height="31.6" fill="#d480f6" stroke="#333" stroke-width="0.8"/>
<line x1="340.7" y1="363.1" x2="340.7" y2="345" stroke="#333" stroke-width="0.7"/>
<circle cx="302.2" cy="362" r="3.7" fill="#000" stroke="#000" stroke-width="0.8"/>
<circle cx="302.2" cy="369.8" r="3.7" fill="#000" stroke="#000" stroke-width="0.8"/>
<circle cx="302.2" cy="377.2" r="3.7" fill="#000" stroke="#000" stroke-width="0.8"/>
<circle cx="312.7" cy="391.4" r="3.7" fill="#5a22a0" stroke="#1a0a30" stroke-width="0.8"/>
<circle cx="312.9" cy="393.1" r="3.7" fill="#5a22a0" stroke="#1a0a30" stroke-width="0.8"/>
<circle cx="329.6" cy="381.4" r="3.7" fill="#000" stroke="#000" stroke-width="0.8"/>
<circle cx="329.6" cy="385.6" r="3.7" fill="#000" stroke="#000" stroke-width="0.8"/>
<circle cx="329.6" cy="388.9" r="3.7" fill="#000" stroke="#000" stroke-width="0.8"/>
<circle cx="340.6" cy="343.5" r="3.7" fill="#5a22a0" stroke="#1a0a30" stroke-width="0.8"/>
<circle cx="340.6" cy="365.8" r="3.7" fill="#5a22a0" stroke="#1a0a30" stroke-width="0.8"/>
<circle cx="340.6" cy="378.4" r="3.7" fill="#5a22a0" stroke="#1a0a30" stroke-width="0.8"/>
<circle cx="357.5" cy="394" r="3.7" fill="#000" stroke="#000" stroke-width="0.8"/>
<circle cx="357.7" cy="394.6" r="3.7" fill="#000" stroke="#000" stroke-width="0.8"/>
<circle cx="368.6" cy="361.6" r="3.7" fill="#5a22a0" stroke="#1a0a30" stroke-width="0.8"/>
<circle cx="368.6" cy="375.7" r="3.7" fill="#5a22a0" stroke="#1a0a30" stroke-width="0.8"/>
<circle cx="368.6" cy="378.4" r="3.7" fill="#5a22a0" stroke="#1a0a30" stroke-width="0.8"/>
<polyline points="302.2,358.5 302.2,334.7 312.7,334.7 312.7,388" fill="none" stroke="#000" stroke-width="0.8"/>
<polygon points="307.50,327.20 306.93,328.50 305.51,328.35 306.35,329.50 305.51,330.65 306.93,330.50 307.50,331.80 308.07,330.50 309.49,330.65 308.65,329.50 309.49,328.35 308.07,328.50" fill="#000" stroke="#000" stroke-width="0.35" stroke-linejoin="round"/>
<polyline points="329.6,377.8 329.6,334.7 340.7,334.7 340.7,339" fill="none" stroke="#000" stroke-width="0.8"/>
<polygon points="335.20,327.20 334.62,328.50 333.21,328.35 334.05,329.50 333.21,330.65 334.62,330.50 335.20,331.80 335.77,330.50 337.19,330.65 336.35,329.50 337.19,328.35 335.77,328.50" fill="#000" stroke="#000" stroke-width="0.35" stroke-linejoin="round"/>
<polyline points="357.5,390.5 357.5,334.7 368.6,334.7 368.6,358" fill="none" stroke="#000" stroke-width="0.8"/>
<polygon points="363.00,327.20 362.43,328.50 361.01,328.35 361.85,329.50 361.01,330.65 362.43,330.50 363.00,331.80 363.57,330.50 364.99,330.65 364.15,329.50 364.99,328.35 363.57,328.50" fill="#000" stroke="#000" stroke-width="0.35" stroke-linejoin="round"/>
<text x="307.05" y="417.8" font-size="7.95" fill="#000" text-anchor="middle" >Ctrl</text>
<text x="332.6" y="417.8" font-size="7.95" fill="#000" text-anchor="middle" >VE821</text>
<text x="364.2" y="417.8" font-size="7.95" fill="#000" text-anchor="middle" >KU5593</text>
<text transform="translate(261,364.7) rotate(-90)" font-size="8.4" fill="#000" text-anchor="middle" textLength="73.6" lengthAdjust="spacingAndGlyphs" >MFI RORγt (gated in</text>
<text transform="translate(270.6,365.3) rotate(-90)" font-size="8.6" fill="#000" text-anchor="middle" textLength="84.2" lengthAdjust="spacingAndGlyphs" >Live<tspan font-size="65%" dy="-3">+</tspan><tspan dy="3">CD4</tspan><tspan font-size="65%" dy="-3">+</tspan><tspan dy="3">IL17A</tspan><tspan font-size="65%" dy="-3">+</tspan><tspan dy="3"> cells)</tspan></text>
<line x1="416.6" y1="395" x2="416.6" y2="320.9" stroke="#000" stroke-width="0.8"/>
<line x1="414" y1="395" x2="416.6" y2="395" stroke="#000" stroke-width="0.8"/>
<text transform="translate(412.90,397.56) scale(1.05,1)" font-size="7.3" text-anchor="end">0</text>
<line x1="414" y1="376.48" x2="416.6" y2="376.48" stroke="#000" stroke-width="0.8"/>
<text transform="translate(412.90,379.03) scale(1.05,1)" font-size="7.3" text-anchor="end">20</text>
<line x1="414" y1="357.95" x2="416.6" y2="357.95" stroke="#000" stroke-width="0.8"/>
<text transform="translate(412.90,360.50) scale(1.05,1)" font-size="7.3" text-anchor="end">40</text>
<line x1="414" y1="339.42" x2="416.6" y2="339.42" stroke="#000" stroke-width="0.8"/>
<text transform="translate(412.90,341.98) scale(1.05,1)" font-size="7.3" text-anchor="end">60</text>
<line x1="414" y1="320.9" x2="416.6" y2="320.9" stroke="#000" stroke-width="0.8"/>
<text transform="translate(412.90,323.45) scale(1.05,1)" font-size="7.3" text-anchor="end">80</text>
<line x1="416.6" y1="395" x2="622" y2="395" stroke="#000" stroke-width="0.8"/>
<line x1="425.2" y1="395" x2="425.2" y2="397.2" stroke="#000" stroke-width="0.8"/>
<line x1="437.2" y1="395" x2="437.2" y2="397.2" stroke="#000" stroke-width="0.8"/>
<line x1="455.6" y1="395" x2="455.6" y2="397.2" stroke="#000" stroke-width="0.8"/>
<line x1="467.3" y1="395" x2="467.3" y2="397.2" stroke="#000" stroke-width="0.8"/>
<line x1="486.2" y1="395" x2="486.2" y2="397.2" stroke="#000" stroke-width="0.8"/>
<line x1="497.9" y1="395" x2="497.9" y2="397.2" stroke="#000" stroke-width="0.8"/>
<line x1="525.4" y1="395" x2="525.4" y2="397.2" stroke="#000" stroke-width="0.8"/>
<line x1="537.2" y1="395" x2="537.2" y2="397.2" stroke="#000" stroke-width="0.8"/>
<line x1="555.9" y1="395" x2="555.9" y2="397.2" stroke="#000" stroke-width="0.8"/>
<line x1="567.5" y1="395" x2="567.5" y2="397.2" stroke="#000" stroke-width="0.8"/>
<line x1="586.7" y1="395" x2="586.7" y2="397.2" stroke="#000" stroke-width="0.8"/>
<line x1="597.9" y1="395" x2="597.9" y2="397.2" stroke="#000" stroke-width="0.8"/>
<line x1="611.6" y1="395" x2="611.6" y2="397.2" stroke="#000" stroke-width="0.8"/>
<rect x="421.5" y="344.4" width="8.9" height="50.6" fill="#d9d9d9" stroke="#333" stroke-width="0.8"/>
<rect x="433.4" y="345.8" width="7.9" height="49.2" fill="#d480f6" stroke="#333" stroke-width="0.8"/>
<rect x="451.7" y="359" width="8.3" height="36" fill="#d9d9d9" stroke="#333" stroke-width="0.8"/>
<rect x="463.2" y="343.2" width="8.7" height="51.8" fill="#d480f6" stroke="#333" stroke-width="0.8"/>
<rect x="481.8" y="359.6" width="8.6" height="35.4" fill="#d9d9d9" stroke="#333" stroke-width="0.8"/>
<rect x="493.3" y="337.8" width="9" height="57.2" fill="#d480f6" stroke="#333" stroke-width="0.8"/>
<rect x="521.6" y="354.5" width="9" height="40.5" fill="#d9d9d9" stroke="#333" stroke-width="0.8"/>
<rect x="533.5" y="355.2" width="9.1" height="39.8" fill="#d480f6" stroke="#333" stroke-width="0.8"/>
<rect x="552" y="344.7" width="8.8" height="50.3" fill="#d9d9d9" stroke="#333" stroke-width="0.8"/>
<rect x="564.2" y="347.4" width="8.4" height="47.6" fill="#d480f6" stroke="#333" stroke-width="0.8"/>
<rect x="582.5" y="344.7" width="9.4" height="50.3" fill="#d9d9d9" stroke="#333" stroke-width="0.8"/>
<rect x="594.5" y="363.6" width="7.9" height="31.4" fill="#d480f6" stroke="#333" stroke-width="0.8"/>
<line x1="467.9" y1="343.2" x2="467.9" y2="333" stroke="#333" stroke-width="0.7"/>
<circle cx="424.9" cy="335.4" r="3.6" fill="#000" stroke="#000" stroke-width="0.8"/>
<circle cx="426.9" cy="341.2" r="3.6" fill="#000" stroke="#000" stroke-width="0.8"/>
<circle cx="425.9" cy="354.3" r="3.6" fill="#000" stroke="#000" stroke-width="0.8"/>
<circle cx="456" cy="351.7" r="3.6" fill="#000" stroke="#000" stroke-width="0.8"/>
<circle cx="456" cy="355.7" r="3.6" fill="#000" stroke="#000" stroke-width="0.8"/>
<circle cx="455.2" cy="359" r="3.6" fill="#000" stroke="#000" stroke-width="0.8"/>
<circle cx="486.4" cy="352.3" r="3.6" fill="#000" stroke="#000" stroke-width="0.8"/>
<circle cx="486.4" cy="357.1" r="3.6" fill="#000" stroke="#000" stroke-width="0.8"/>
<circle cx="485.4" cy="357.7" r="3.6" fill="#000" stroke="#000" stroke-width="0.8"/>
<circle cx="526.4" cy="344" r="3.6" fill="#000" stroke="#000" stroke-width="0.8"/>
<circle cx="527.2" cy="355.8" r="3.6" fill="#000" stroke="#000" stroke-width="0.8"/>
<circle cx="525.1" cy="361.5" r="3.6" fill="#000" stroke="#000" stroke-width="0.8"/>
<circle cx="556.6" cy="338.4" r="3.6" fill="#000" stroke="#000" stroke-width="0.8"/>
<circle cx="556.6" cy="342.6" r="3.6" fill="#000" stroke="#000" stroke-width="0.8"/>
<circle cx="555.8" cy="346.1" r="3.6" fill="#000" stroke="#000" stroke-width="0.8"/>
<circle cx="587.3" cy="339.4" r="3.6" fill="#000" stroke="#000" stroke-width="0.8"/>
<circle cx="587.3" cy="341.9" r="3.6" fill="#000" stroke="#000" stroke-width="0.8"/>
<circle cx="586.1" cy="345.3" r="3.6" fill="#000" stroke="#000" stroke-width="0.8"/>
<circle cx="436.8" cy="341.8" r="3.6" fill="#5a22a0" stroke="#1a0a30" stroke-width="0.8"/>
<circle cx="438.8" cy="342.8" r="3.6" fill="#5a22a0" stroke="#1a0a30" stroke-width="0.8"/>
<circle cx="436.8" cy="349.1" r="3.6" fill="#5a22a0" stroke="#1a0a30" stroke-width="0.8"/>
<circle cx="467.9" cy="331.3" r="3.6" fill="#5a22a0" stroke="#1a0a30" stroke-width="0.8"/>
<circle cx="467.9" cy="348.3" r="3.6" fill="#5a22a0" stroke="#1a0a30" stroke-width="0.8"/>
<circle cx="466.7" cy="349.1" r="3.6" fill="#5a22a0" stroke="#1a0a30" stroke-width="0.8"/>
<circle cx="498.3" cy="331.3" r="3.6" fill="#5a22a0" stroke="#1a0a30" stroke-width="0.8"/>
<circle cx="498.3" cy="339.8" r="3.6" fill="#5a22a0" stroke="#1a0a30" stroke-width="0.8"/>
<circle cx="497.3" cy="340.8" r="3.6" fill="#5a22a0" stroke="#1a0a30" stroke-width="0.8"/>
<circle cx="537.3" cy="348.2" r="3.6" fill="#5a22a0" stroke="#1a0a30" stroke-width="0.8"/>
<circle cx="538.4" cy="355.2" r="3.6" fill="#5a22a0" stroke="#1a0a30" stroke-width="0.8"/>
<circle cx="537.3" cy="356.2" r="3.6" fill="#5a22a0" stroke="#1a0a30" stroke-width="0.8"/>
<circle cx="567.1" cy="342.6" r="3.6" fill="#5a22a0" stroke="#1a0a30" stroke-width="0.8"/>
<circle cx="569.2" cy="348.9" r="3.6" fill="#5a22a0" stroke="#1a0a30" stroke-width="0.8"/>
<circle cx="567.1" cy="350.3" r="3.6" fill="#5a22a0" stroke="#1a0a30" stroke-width="0.8"/>
<circle cx="598.2" cy="356.6" r="3.6" fill="#5a22a0" stroke="#1a0a30" stroke-width="0.8"/>
<circle cx="599.9" cy="358.3" r="3.6" fill="#5a22a0" stroke="#1a0a30" stroke-width="0.8"/>
<circle cx="598.2" cy="366.3" r="3.6" fill="#5a22a0" stroke="#1a0a30" stroke-width="0.8"/>
<polyline points="586.7,333.5 586.7,322.6 598.2,322.6 598.2,351" fill="none" stroke="#000" stroke-width="0.8"/>
<polygon points="592.60,315.10 592.02,316.40 590.61,316.25 591.45,317.40 590.61,318.55 592.02,318.40 592.60,319.70 593.18,318.40 594.59,318.55 593.75,317.40 594.59,316.25 593.18,316.40" fill="#000" stroke="#000" stroke-width="0.35" stroke-linejoin="round"/>
<text x="430.4" y="408.6" font-size="8.1" fill="#000" text-anchor="middle" >Ctrl</text>
<text x="459.3" y="408.6" font-size="8.1" fill="#000" text-anchor="middle" >VE821</text>
<text x="494.8" y="408.6" font-size="8.1" fill="#000" text-anchor="middle" >KU5593</text>
<text x="527.8" y="408.6" font-size="8.1" fill="#000" text-anchor="middle" >Ctrl</text>
<text x="557.1" y="408.6" font-size="8.1" fill="#000" text-anchor="middle" >VE821</text>
<text x="592.3" y="408.6" font-size="8.1" fill="#000" text-anchor="middle" >KU5593</text>
<line x1="423" y1="413.2" x2="510.2" y2="413.2" stroke="#9a9a9a" stroke-width="1.1"/>
<line x1="520.9" y1="413" x2="607.8" y2="413" stroke="#333" stroke-width="0.9"/>
<text x="464.2" y="423.5" font-size="8.2" fill="#000" text-anchor="middle" >Live cells</text>
<text x="563.7" y="423.9" font-size="8.2" fill="#000" text-anchor="middle" >Dead cells</text>
<text transform="translate(399.6,356.8) rotate(-90)" font-size="8.2" fill="#000" text-anchor="middle" textLength="43.7" lengthAdjust="spacingAndGlyphs" >Viability (%)</text>
<circle cx="615.4" cy="333" r="4" fill="#000" stroke="none" stroke-width="1"/>
<text x="624.6" y="335.9" font-size="8.1" fill="#000" >WT</text>
<circle cx="615.4" cy="345.1" r="4" fill="#5a22a0" stroke="#1a0a30" stroke-width="0.8"/>
<text x="624.6" y="349.4" font-size="8.1" fill="#a03ee6" >XPC<tspan font-size="64%" dy="-3.0">-/-</tspan><tspan dy="3.0"></tspan></text>
<circle cx="387.4" cy="406" r="0.7" fill="#bfeeff" stroke="none" stroke-width="1"/>
<circle cx="657.5" cy="407.7" r="0.7" fill="#bfeeff" stroke="none" stroke-width="1"/>
</svg></body></html>
